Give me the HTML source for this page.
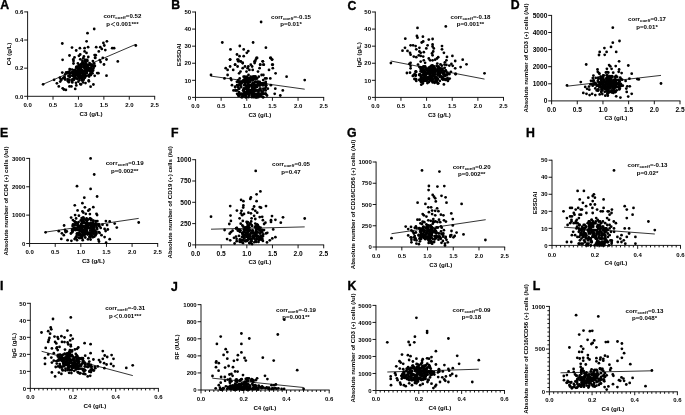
<!DOCTYPE html>
<html lang="en"><head><meta charset="utf-8"><title>Correlation scatter plots</title>
<style>html,body{margin:0;padding:0;background:#fff}body{width:685px;height:415px;overflow:hidden}svg{display:block;will-change:transform}</style>
</head><body>
<svg width="685" height="415" viewBox="0 0 685 415" font-family="'Liberation Sans', Arial, sans-serif" font-weight="bold" fill="#000">
<rect width="685" height="415" fill="#fff"/>
<g>
<g><circle cx="74.8" cy="77.5" r="1.38"/><circle cx="85.3" cy="59.8" r="1.38"/><circle cx="75.3" cy="71.7" r="1.38"/><circle cx="82.5" cy="71.7" r="1.38"/><circle cx="74.1" cy="78.4" r="1.38"/><circle cx="90.9" cy="75.1" r="1.38"/><circle cx="84.0" cy="76.2" r="1.38"/><circle cx="76.3" cy="67.8" r="1.38"/><circle cx="81.3" cy="63.8" r="1.38"/><circle cx="86.5" cy="70.6" r="1.38"/><circle cx="85.6" cy="63.4" r="1.38"/><circle cx="81.8" cy="69.9" r="1.38"/><circle cx="92.5" cy="73.3" r="1.38"/><circle cx="76.3" cy="67.0" r="1.38"/><circle cx="75.9" cy="74.9" r="1.38"/><circle cx="88.4" cy="68.7" r="1.38"/><circle cx="84.6" cy="77.7" r="1.38"/><circle cx="74.6" cy="76.1" r="1.38"/><circle cx="73.2" cy="73.4" r="1.38"/><circle cx="78.3" cy="75.1" r="1.38"/><circle cx="83.1" cy="72.9" r="1.38"/><circle cx="81.2" cy="71.8" r="1.38"/><circle cx="81.0" cy="71.7" r="1.38"/><circle cx="80.3" cy="77.1" r="1.38"/><circle cx="85.5" cy="65.7" r="1.38"/><circle cx="87.4" cy="67.0" r="1.38"/><circle cx="73.9" cy="79.8" r="1.38"/><circle cx="92.9" cy="61.1" r="1.38"/><circle cx="72.9" cy="73.5" r="1.38"/><circle cx="85.0" cy="77.6" r="1.38"/><circle cx="70.2" cy="72.9" r="1.38"/><circle cx="73.8" cy="72.7" r="1.38"/><circle cx="89.1" cy="76.5" r="1.38"/><circle cx="89.5" cy="63.1" r="1.38"/><circle cx="81.6" cy="72.7" r="1.38"/><circle cx="79.5" cy="71.0" r="1.38"/><circle cx="90.4" cy="65.3" r="1.38"/><circle cx="85.7" cy="66.8" r="1.38"/><circle cx="89.4" cy="64.9" r="1.38"/><circle cx="85.6" cy="62.5" r="1.38"/><circle cx="74.9" cy="78.2" r="1.38"/><circle cx="80.1" cy="67.6" r="1.38"/><circle cx="83.6" cy="76.5" r="1.38"/><circle cx="69.8" cy="76.8" r="1.38"/><circle cx="81.8" cy="78.6" r="1.38"/><circle cx="75.0" cy="76.1" r="1.38"/><circle cx="76.7" cy="78.4" r="1.38"/><circle cx="87.0" cy="71.1" r="1.38"/><circle cx="87.4" cy="61.0" r="1.38"/><circle cx="93.1" cy="70.6" r="1.38"/><circle cx="76.8" cy="75.2" r="1.38"/><circle cx="72.3" cy="72.5" r="1.38"/><circle cx="80.3" cy="72.5" r="1.38"/><circle cx="77.3" cy="66.7" r="1.38"/><circle cx="84.7" cy="71.2" r="1.38"/><circle cx="92.6" cy="70.3" r="1.38"/><circle cx="84.9" cy="73.6" r="1.38"/><circle cx="82.4" cy="78.5" r="1.38"/><circle cx="72.6" cy="72.5" r="1.38"/><circle cx="74.3" cy="70.1" r="1.38"/><circle cx="75.1" cy="76.7" r="1.38"/><circle cx="85.9" cy="69.5" r="1.38"/><circle cx="77.7" cy="76.0" r="1.38"/><circle cx="79.2" cy="71.5" r="1.38"/><circle cx="91.9" cy="71.7" r="1.38"/><circle cx="90.4" cy="73.3" r="1.38"/><circle cx="85.6" cy="68.8" r="1.38"/><circle cx="78.0" cy="67.9" r="1.38"/><circle cx="73.7" cy="74.2" r="1.38"/><circle cx="88.0" cy="69.7" r="1.38"/><circle cx="78.4" cy="81.7" r="1.38"/><circle cx="89.0" cy="68.5" r="1.38"/><circle cx="89.5" cy="69.8" r="1.38"/><circle cx="85.8" cy="69.0" r="1.38"/><circle cx="80.0" cy="75.6" r="1.38"/><circle cx="77.7" cy="73.3" r="1.38"/><circle cx="91.1" cy="70.1" r="1.38"/><circle cx="82.9" cy="75.1" r="1.38"/><circle cx="86.1" cy="69.1" r="1.38"/><circle cx="90.5" cy="65.1" r="1.38"/><circle cx="85.9" cy="64.6" r="1.38"/><circle cx="77.9" cy="72.0" r="1.38"/><circle cx="72.6" cy="80.6" r="1.38"/><circle cx="86.4" cy="70.3" r="1.38"/><circle cx="79.9" cy="74.1" r="1.38"/><circle cx="75.0" cy="71.4" r="1.38"/><circle cx="72.4" cy="79.3" r="1.38"/><circle cx="89.1" cy="69.4" r="1.38"/><circle cx="68.7" cy="80.4" r="1.38"/><circle cx="75.5" cy="72.9" r="1.38"/><circle cx="82.5" cy="62.0" r="1.38"/><circle cx="77.5" cy="71.2" r="1.38"/><circle cx="80.5" cy="70.6" r="1.38"/><circle cx="79.8" cy="75.7" r="1.38"/><circle cx="85.3" cy="76.3" r="1.38"/><circle cx="72.1" cy="75.6" r="1.38"/><circle cx="72.3" cy="82.4" r="1.38"/><circle cx="74.7" cy="71.9" r="1.38"/><circle cx="84.2" cy="75.5" r="1.38"/><circle cx="94.2" cy="63.4" r="1.38"/><circle cx="85.4" cy="70.0" r="1.38"/><circle cx="73.1" cy="75.2" r="1.38"/><circle cx="69.6" cy="75.8" r="1.38"/><circle cx="83.3" cy="64.8" r="1.38"/><circle cx="81.2" cy="77.2" r="1.38"/><circle cx="79.4" cy="77.4" r="1.38"/><circle cx="87.1" cy="64.8" r="1.38"/><circle cx="81.2" cy="67.3" r="1.38"/><circle cx="94.1" cy="65.6" r="1.38"/><circle cx="84.2" cy="67.5" r="1.38"/><circle cx="81.9" cy="71.0" r="1.38"/><circle cx="80.5" cy="70.2" r="1.38"/><circle cx="82.5" cy="60.6" r="1.38"/><circle cx="81.6" cy="67.0" r="1.38"/><circle cx="82.6" cy="62.8" r="1.38"/><circle cx="83.8" cy="65.2" r="1.38"/><circle cx="81.9" cy="80.4" r="1.38"/><circle cx="80.9" cy="65.2" r="1.38"/><circle cx="77.1" cy="74.2" r="1.38"/><circle cx="74.4" cy="75.1" r="1.38"/><circle cx="92.3" cy="65.0" r="1.38"/><circle cx="88.3" cy="68.6" r="1.38"/><circle cx="83.7" cy="79.7" r="1.38"/><circle cx="84.2" cy="71.2" r="1.38"/><circle cx="91.0" cy="68.6" r="1.38"/><circle cx="77.5" cy="79.0" r="1.38"/><circle cx="72.7" cy="75.8" r="1.38"/><circle cx="69.7" cy="73.9" r="1.38"/><circle cx="80.1" cy="75.8" r="1.38"/><circle cx="81.2" cy="73.3" r="1.38"/><circle cx="84.6" cy="71.0" r="1.38"/><circle cx="87.0" cy="66.6" r="1.38"/><circle cx="76.3" cy="67.4" r="1.38"/><circle cx="73.6" cy="72.0" r="1.38"/><circle cx="79.6" cy="72.1" r="1.38"/><circle cx="86.4" cy="72.7" r="1.38"/><circle cx="79.7" cy="71.4" r="1.38"/><circle cx="77.1" cy="67.5" r="1.38"/><circle cx="93.8" cy="66.2" r="1.38"/><circle cx="93.4" cy="68.6" r="1.38"/><circle cx="88.2" cy="67.8" r="1.38"/><circle cx="73.7" cy="70.7" r="1.38"/><circle cx="83.8" cy="66.3" r="1.38"/><circle cx="79.5" cy="79.9" r="1.38"/><circle cx="78.6" cy="66.5" r="1.38"/><circle cx="77.1" cy="72.7" r="1.38"/><circle cx="86.3" cy="67.7" r="1.38"/><circle cx="79.8" cy="69.2" r="1.38"/><circle cx="84.2" cy="73.7" r="1.38"/><circle cx="80.7" cy="75.6" r="1.38"/><circle cx="88.9" cy="81.3" r="1.38"/><circle cx="86.7" cy="75.7" r="1.38"/><circle cx="87.6" cy="65.9" r="1.38"/><circle cx="78.9" cy="73.6" r="1.38"/><circle cx="83.0" cy="63.2" r="1.38"/><circle cx="95.1" cy="57.7" r="1.38"/><circle cx="69.8" cy="76.7" r="1.38"/><circle cx="77.5" cy="71.4" r="1.38"/><circle cx="65.1" cy="74.5" r="1.38"/><circle cx="68.8" cy="82.2" r="1.38"/><circle cx="80.3" cy="59.3" r="1.38"/><circle cx="93.7" cy="66.8" r="1.38"/><circle cx="65.9" cy="89.9" r="1.38"/><circle cx="86.9" cy="73.0" r="1.38"/><circle cx="100.6" cy="62.0" r="1.38"/><circle cx="72.1" cy="69.6" r="1.38"/><circle cx="73.5" cy="60.9" r="1.38"/><circle cx="64.5" cy="77.2" r="1.38"/><circle cx="90.4" cy="64.7" r="1.38"/><circle cx="92.7" cy="66.3" r="1.38"/><circle cx="78.3" cy="69.4" r="1.38"/><circle cx="80.2" cy="75.6" r="1.38"/><circle cx="85.1" cy="61.2" r="1.38"/><circle cx="62.7" cy="88.3" r="1.38"/><circle cx="82.9" cy="75.5" r="1.38"/><circle cx="61.0" cy="79.3" r="1.38"/><circle cx="85.0" cy="75.2" r="1.38"/><circle cx="94.7" cy="75.8" r="1.38"/><circle cx="70.0" cy="69.7" r="1.38"/><circle cx="90.0" cy="71.2" r="1.38"/><circle cx="81.0" cy="84.4" r="1.38"/><circle cx="68.4" cy="76.0" r="1.38"/><circle cx="89.2" cy="70.6" r="1.38"/><circle cx="94.9" cy="66.0" r="1.38"/><circle cx="71.7" cy="80.9" r="1.38"/><circle cx="95.7" cy="55.2" r="1.38"/><circle cx="75.4" cy="70.0" r="1.38"/><circle cx="74.2" cy="79.1" r="1.38"/><circle cx="87.8" cy="69.5" r="1.38"/><circle cx="81.3" cy="76.8" r="1.38"/><circle cx="85.5" cy="83.1" r="1.38"/><circle cx="76.9" cy="71.4" r="1.38"/><circle cx="76.3" cy="85.4" r="1.38"/><circle cx="85.5" cy="67.3" r="1.38"/><circle cx="91.5" cy="65.1" r="1.38"/><circle cx="68.2" cy="72.1" r="1.38"/><circle cx="99.8" cy="60.1" r="1.38"/><circle cx="80.9" cy="69.1" r="1.38"/><circle cx="67.4" cy="73.2" r="1.38"/><circle cx="60.2" cy="81.6" r="1.38"/><circle cx="71.1" cy="72.7" r="1.38"/><circle cx="69.7" cy="69.1" r="1.38"/><circle cx="84.1" cy="63.9" r="1.38"/><circle cx="78.8" cy="77.1" r="1.38"/><circle cx="78.5" cy="72.3" r="1.38"/><circle cx="79.2" cy="77.3" r="1.38"/><circle cx="97.2" cy="73.1" r="1.38"/><circle cx="67.6" cy="80.8" r="1.38"/><circle cx="80.8" cy="71.2" r="1.38"/><circle cx="87.1" cy="59.9" r="1.38"/><circle cx="83.3" cy="58.2" r="1.38"/><circle cx="67.6" cy="79.1" r="1.38"/><circle cx="91.2" cy="69.5" r="1.38"/><circle cx="79.0" cy="64.8" r="1.38"/><circle cx="63.9" cy="89.5" r="1.38"/><circle cx="69.5" cy="79.7" r="1.38"/><circle cx="82.3" cy="70.4" r="1.38"/><circle cx="84.8" cy="64.2" r="1.38"/><circle cx="64.4" cy="77.5" r="1.38"/><circle cx="88.7" cy="80.5" r="1.38"/><circle cx="73.1" cy="78.8" r="1.38"/><circle cx="77.9" cy="63.4" r="1.38"/><circle cx="91.4" cy="65.5" r="1.38"/><circle cx="59.9" cy="77.7" r="1.38"/><circle cx="84.6" cy="68.5" r="1.38"/><circle cx="79.8" cy="78.2" r="1.38"/><circle cx="79.8" cy="67.4" r="1.38"/><circle cx="66.2" cy="72.3" r="1.38"/><circle cx="90.5" cy="69.3" r="1.38"/><circle cx="87.7" cy="70.3" r="1.38"/><circle cx="87.7" cy="64.8" r="1.38"/><circle cx="68.9" cy="72.0" r="1.38"/><circle cx="73.9" cy="75.0" r="1.38"/><circle cx="88.7" cy="75.3" r="1.38"/><circle cx="73.5" cy="63.5" r="1.38"/><circle cx="91.3" cy="68.2" r="1.38"/><circle cx="89.5" cy="68.3" r="1.38"/><circle cx="89.5" cy="74.6" r="1.38"/><circle cx="76.0" cy="82.8" r="1.38"/><circle cx="78.3" cy="74.0" r="1.38"/><circle cx="94.2" cy="29.0" r="1.38"/><circle cx="87.5" cy="33.2" r="1.38"/><circle cx="62.3" cy="43.5" r="1.38"/><circle cx="86.6" cy="41.3" r="1.38"/><circle cx="106.9" cy="41.3" r="1.38"/><circle cx="103.4" cy="43.0" r="1.38"/><circle cx="104.3" cy="45.5" r="1.38"/><circle cx="72.0" cy="47.6" r="1.38"/><circle cx="79.9" cy="48.2" r="1.38"/><circle cx="84.6" cy="48.2" r="1.38"/><circle cx="88.1" cy="47.2" r="1.38"/><circle cx="96.2" cy="47.2" r="1.38"/><circle cx="100.3" cy="47.2" r="1.38"/><circle cx="101.8" cy="48.9" r="1.38"/><circle cx="105.3" cy="50.1" r="1.38"/><circle cx="112.2" cy="48.2" r="1.38"/><circle cx="114.1" cy="48.2" r="1.38"/><circle cx="76.2" cy="50.5" r="1.38"/><circle cx="98.8" cy="51.4" r="1.38"/><circle cx="84.6" cy="51.4" r="1.38"/><circle cx="86.5" cy="52.9" r="1.38"/><circle cx="69.5" cy="55.5" r="1.38"/><circle cx="80.2" cy="54.5" r="1.38"/><circle cx="78.9" cy="55.8" r="1.38"/><circle cx="94.6" cy="55.1" r="1.38"/><circle cx="62.6" cy="59.8" r="1.38"/><circle cx="74.5" cy="57.4" r="1.38"/><circle cx="73.3" cy="59.5" r="1.38"/><circle cx="83.9" cy="56.4" r="1.38"/><circle cx="88.3" cy="57.0" r="1.38"/><circle cx="95.2" cy="57.9" r="1.38"/><circle cx="102.8" cy="57.9" r="1.38"/><circle cx="106.5" cy="59.5" r="1.38"/><circle cx="117.8" cy="61.4" r="1.38"/><circle cx="104.0" cy="64.5" r="1.38"/><circle cx="43.1" cy="84.3" r="1.38"/><circle cx="54.1" cy="79.8" r="1.38"/><circle cx="56.9" cy="83.3" r="1.38"/><circle cx="58.8" cy="86.4" r="1.38"/><circle cx="61.3" cy="80.1" r="1.38"/><circle cx="63.2" cy="78.2" r="1.38"/><circle cx="65.1" cy="79.5" r="1.38"/><circle cx="69.5" cy="86.4" r="1.38"/><circle cx="71.4" cy="86.4" r="1.38"/><circle cx="75.2" cy="88.9" r="1.38"/><circle cx="80.2" cy="84.1" r="1.38"/><circle cx="83.1" cy="82.4" r="1.38"/><circle cx="90.6" cy="86.7" r="1.38"/><circle cx="93.4" cy="84.5" r="1.38"/><circle cx="106.5" cy="75.7" r="1.38"/><circle cx="98.4" cy="73.2" r="1.38"/><circle cx="62.3" cy="72.6" r="1.38"/><circle cx="135.8" cy="45.5" r="1.38"/></g>
<line x1="42.9" y1="84.3" x2="135.9" y2="44.3" stroke="#000" stroke-width="0.80"/>
<path d="M27.60 11.45V96.30H155.15M27.60 96.30v3.40M53.02 96.30v3.40M78.44 96.30v3.40M103.86 96.30v3.40M129.28 96.30v3.40M154.70 96.30v3.40M27.60 96.30h-3.40M27.60 68.17h-3.40M27.60 40.03h-3.40M27.60 11.90h-3.40" fill="none" stroke="#000" stroke-width="0.90"/>
<text x="27.6" y="107.0" font-size="6.0" text-anchor="middle">0.0</text>
<text x="53.0" y="107.0" font-size="6.0" text-anchor="middle">0.5</text>
<text x="78.4" y="107.0" font-size="6.0" text-anchor="middle">1.0</text>
<text x="103.9" y="107.0" font-size="6.0" text-anchor="middle">1.5</text>
<text x="129.3" y="107.0" font-size="6.0" text-anchor="middle">2.0</text>
<text x="154.7" y="107.0" font-size="6.0" text-anchor="middle">2.5</text>
<text x="23.3" y="98.5" font-size="6.0" text-anchor="end">0.0</text>
<text x="23.3" y="70.3" font-size="6.0" text-anchor="end">0.2</text>
<text x="23.3" y="42.2" font-size="6.0" text-anchor="end">0.4</text>
<text x="23.3" y="14.1" font-size="6.0" text-anchor="end">0.6</text>
<text x="91.1" y="115.9" font-size="6.20" text-anchor="middle">C3 (g/L)</text>
<text transform="translate(9.3 54.0) rotate(-90)" font-size="6.10" text-anchor="middle" y="1.8">C4 (g/L)</text>
<text x="122.4" y="18.3" font-size="6.15" text-anchor="middle">corr<tspan font-size="4.4" dy="1.0">coeff</tspan><tspan dy="-1.0">=0.52</tspan></text>
<text x="122.4" y="26.4" font-size="6.15" text-anchor="middle">p<tspan font-family="'Noto Sans CJK SC', sans-serif" font-weight="700" font-size="5.8" dx="0.15">＜</tspan><tspan dx="0.15">0.001***</tspan></text>
<text x="0.2" y="8.7" font-size="12.3" stroke="#000" stroke-width="0.35">A</text>
</g>
<g>
<g><circle cx="257.2" cy="85.2" r="1.38"/><circle cx="245.3" cy="81.8" r="1.38"/><circle cx="256.8" cy="97.2" r="1.38"/><circle cx="256.1" cy="90.4" r="1.38"/><circle cx="254.4" cy="88.7" r="1.38"/><circle cx="262.2" cy="83.5" r="1.38"/><circle cx="263.3" cy="88.7" r="1.38"/><circle cx="250.4" cy="80.1" r="1.38"/><circle cx="250.2" cy="85.2" r="1.38"/><circle cx="255.5" cy="97.2" r="1.38"/><circle cx="263.0" cy="83.5" r="1.38"/><circle cx="237.4" cy="81.8" r="1.38"/><circle cx="239.3" cy="88.7" r="1.38"/><circle cx="243.2" cy="93.8" r="1.38"/><circle cx="243.2" cy="90.4" r="1.38"/><circle cx="241.6" cy="97.2" r="1.38"/><circle cx="244.9" cy="80.1" r="1.38"/><circle cx="254.8" cy="90.4" r="1.38"/><circle cx="265.1" cy="88.7" r="1.38"/><circle cx="248.8" cy="85.2" r="1.38"/><circle cx="238.7" cy="95.5" r="1.38"/><circle cx="253.0" cy="92.1" r="1.38"/><circle cx="238.8" cy="88.7" r="1.38"/><circle cx="233.5" cy="90.4" r="1.38"/><circle cx="265.9" cy="83.5" r="1.38"/><circle cx="242.2" cy="97.2" r="1.38"/><circle cx="243.5" cy="80.1" r="1.38"/><circle cx="265.7" cy="90.4" r="1.38"/><circle cx="248.4" cy="88.7" r="1.38"/><circle cx="235.2" cy="87.0" r="1.38"/><circle cx="246.4" cy="87.0" r="1.38"/><circle cx="238.1" cy="81.8" r="1.38"/><circle cx="251.9" cy="85.2" r="1.38"/><circle cx="250.4" cy="90.4" r="1.38"/><circle cx="252.7" cy="93.8" r="1.38"/><circle cx="258.2" cy="81.8" r="1.38"/><circle cx="247.1" cy="90.4" r="1.38"/><circle cx="245.7" cy="97.2" r="1.38"/><circle cx="256.0" cy="78.4" r="1.38"/><circle cx="254.6" cy="90.4" r="1.38"/><circle cx="239.0" cy="93.8" r="1.38"/><circle cx="244.2" cy="85.2" r="1.38"/><circle cx="256.8" cy="97.2" r="1.38"/><circle cx="250.5" cy="78.4" r="1.38"/><circle cx="249.3" cy="78.4" r="1.38"/><circle cx="263.2" cy="85.2" r="1.38"/><circle cx="239.2" cy="81.8" r="1.38"/><circle cx="247.6" cy="92.1" r="1.38"/><circle cx="265.2" cy="93.8" r="1.38"/><circle cx="256.0" cy="85.2" r="1.38"/><circle cx="253.5" cy="78.4" r="1.38"/><circle cx="249.1" cy="92.1" r="1.38"/><circle cx="250.0" cy="81.8" r="1.38"/><circle cx="260.1" cy="85.2" r="1.38"/><circle cx="254.0" cy="93.8" r="1.38"/><circle cx="243.8" cy="88.7" r="1.38"/><circle cx="253.1" cy="88.7" r="1.38"/><circle cx="265.8" cy="85.2" r="1.38"/><circle cx="255.4" cy="81.8" r="1.38"/><circle cx="254.4" cy="87.0" r="1.38"/><circle cx="247.3" cy="80.1" r="1.38"/><circle cx="238.1" cy="81.8" r="1.38"/><circle cx="241.1" cy="93.8" r="1.38"/><circle cx="258.7" cy="85.2" r="1.38"/><circle cx="266.2" cy="85.2" r="1.38"/><circle cx="252.0" cy="93.8" r="1.38"/><circle cx="235.2" cy="90.4" r="1.38"/><circle cx="238.8" cy="85.2" r="1.38"/><circle cx="243.9" cy="80.1" r="1.38"/><circle cx="249.3" cy="90.4" r="1.38"/><circle cx="253.1" cy="83.5" r="1.38"/><circle cx="259.9" cy="95.5" r="1.38"/><circle cx="262.8" cy="85.2" r="1.38"/><circle cx="236.9" cy="81.8" r="1.38"/><circle cx="248.6" cy="90.4" r="1.38"/><circle cx="253.3" cy="90.4" r="1.38"/><circle cx="259.7" cy="88.7" r="1.38"/><circle cx="263.2" cy="97.2" r="1.38"/><circle cx="254.3" cy="78.4" r="1.38"/><circle cx="242.5" cy="95.5" r="1.38"/><circle cx="257.1" cy="81.8" r="1.38"/><circle cx="248.1" cy="87.0" r="1.38"/><circle cx="236.1" cy="90.4" r="1.38"/><circle cx="262.6" cy="92.1" r="1.38"/><circle cx="253.0" cy="83.5" r="1.38"/><circle cx="247.3" cy="90.4" r="1.38"/><circle cx="241.6" cy="83.5" r="1.38"/><circle cx="243.1" cy="90.4" r="1.38"/><circle cx="244.4" cy="93.8" r="1.38"/><circle cx="245.3" cy="83.5" r="1.38"/><circle cx="251.1" cy="90.4" r="1.38"/><circle cx="257.1" cy="78.4" r="1.38"/><circle cx="253.0" cy="90.4" r="1.38"/><circle cx="245.3" cy="93.8" r="1.38"/><circle cx="264.3" cy="83.5" r="1.38"/><circle cx="244.8" cy="78.4" r="1.38"/><circle cx="261.7" cy="92.1" r="1.38"/><circle cx="265.8" cy="87.0" r="1.38"/><circle cx="260.0" cy="95.5" r="1.38"/><circle cx="263.0" cy="93.8" r="1.38"/><circle cx="253.7" cy="97.2" r="1.38"/><circle cx="254.3" cy="88.7" r="1.38"/><circle cx="267.8" cy="88.7" r="1.38"/><circle cx="253.6" cy="92.1" r="1.38"/><circle cx="244.9" cy="93.8" r="1.38"/><circle cx="251.2" cy="92.1" r="1.38"/><circle cx="246.0" cy="95.5" r="1.38"/><circle cx="252.0" cy="78.4" r="1.38"/><circle cx="258.1" cy="83.5" r="1.38"/><circle cx="260.5" cy="83.5" r="1.38"/><circle cx="258.0" cy="81.8" r="1.38"/><circle cx="260.8" cy="90.4" r="1.38"/><circle cx="257.7" cy="93.8" r="1.38"/><circle cx="249.3" cy="85.2" r="1.38"/><circle cx="244.0" cy="88.7" r="1.38"/><circle cx="255.3" cy="90.4" r="1.38"/><circle cx="263.5" cy="90.4" r="1.38"/><circle cx="252.9" cy="80.1" r="1.38"/><circle cx="251.7" cy="85.2" r="1.38"/><circle cx="254.6" cy="87.0" r="1.38"/><circle cx="254.1" cy="90.4" r="1.38"/><circle cx="247.0" cy="92.1" r="1.38"/><circle cx="246.9" cy="80.1" r="1.38"/><circle cx="245.5" cy="85.2" r="1.38"/><circle cx="260.5" cy="88.7" r="1.38"/><circle cx="256.9" cy="87.0" r="1.38"/><circle cx="244.6" cy="92.1" r="1.38"/><circle cx="262.7" cy="93.8" r="1.38"/><circle cx="249.1" cy="95.5" r="1.38"/><circle cx="248.0" cy="85.2" r="1.38"/><circle cx="237.1" cy="85.2" r="1.38"/><circle cx="253.9" cy="90.4" r="1.38"/><circle cx="255.8" cy="97.2" r="1.38"/><circle cx="248.1" cy="81.8" r="1.38"/><circle cx="252.1" cy="88.7" r="1.38"/><circle cx="259.6" cy="85.2" r="1.38"/><circle cx="248.8" cy="85.2" r="1.38"/><circle cx="258.6" cy="90.4" r="1.38"/><circle cx="258.9" cy="85.2" r="1.38"/><circle cx="254.4" cy="76.7" r="1.38"/><circle cx="247.1" cy="87.0" r="1.38"/><circle cx="250.8" cy="92.1" r="1.38"/><circle cx="265.9" cy="93.8" r="1.38"/><circle cx="238.6" cy="81.8" r="1.38"/><circle cx="248.8" cy="93.8" r="1.38"/><circle cx="252.5" cy="87.0" r="1.38"/><circle cx="249.5" cy="85.2" r="1.38"/><circle cx="256.3" cy="87.0" r="1.38"/><circle cx="252.5" cy="85.2" r="1.38"/><circle cx="250.0" cy="85.2" r="1.38"/><circle cx="259.7" cy="81.8" r="1.38"/><circle cx="241.2" cy="87.0" r="1.38"/><circle cx="258.7" cy="90.4" r="1.38"/><circle cx="257.5" cy="85.2" r="1.38"/><circle cx="243.8" cy="90.4" r="1.38"/><circle cx="257.2" cy="90.4" r="1.38"/><circle cx="240.9" cy="81.8" r="1.38"/><circle cx="238.0" cy="87.0" r="1.38"/><circle cx="252.2" cy="80.1" r="1.38"/><circle cx="247.0" cy="88.7" r="1.38"/><circle cx="254.3" cy="90.4" r="1.38"/><circle cx="242.2" cy="93.8" r="1.38"/><circle cx="253.6" cy="76.7" r="1.38"/><circle cx="258.2" cy="93.8" r="1.38"/><circle cx="254.2" cy="85.2" r="1.38"/><circle cx="251.5" cy="78.4" r="1.38"/><circle cx="265.4" cy="93.8" r="1.38"/><circle cx="250.1" cy="85.2" r="1.38"/><circle cx="252.6" cy="83.5" r="1.38"/><circle cx="252.4" cy="90.4" r="1.38"/><circle cx="257.9" cy="83.5" r="1.38"/><circle cx="237.2" cy="90.4" r="1.38"/><circle cx="245.9" cy="97.2" r="1.38"/><circle cx="255.5" cy="87.0" r="1.38"/><circle cx="253.1" cy="80.1" r="1.38"/><circle cx="245.7" cy="78.4" r="1.38"/><circle cx="239.8" cy="85.2" r="1.38"/><circle cx="249.5" cy="81.8" r="1.38"/><circle cx="254.6" cy="78.4" r="1.38"/><circle cx="257.4" cy="90.4" r="1.38"/><circle cx="255.1" cy="81.8" r="1.38"/><circle cx="252.2" cy="87.0" r="1.38"/><circle cx="247.9" cy="78.4" r="1.38"/><circle cx="239.7" cy="83.5" r="1.38"/><circle cx="245.0" cy="83.5" r="1.38"/><circle cx="249.3" cy="87.0" r="1.38"/><circle cx="245.8" cy="88.7" r="1.38"/><circle cx="245.4" cy="85.2" r="1.38"/><circle cx="248.1" cy="78.4" r="1.38"/><circle cx="254.2" cy="83.5" r="1.38"/><circle cx="261.6" cy="75.0" r="1.38"/><circle cx="255.8" cy="81.8" r="1.38"/><circle cx="245.0" cy="66.5" r="1.38"/><circle cx="255.3" cy="76.7" r="1.38"/><circle cx="246.5" cy="71.6" r="1.38"/><circle cx="260.2" cy="85.2" r="1.38"/><circle cx="258.0" cy="71.6" r="1.38"/><circle cx="265.7" cy="81.8" r="1.38"/><circle cx="246.8" cy="81.8" r="1.38"/><circle cx="241.2" cy="81.8" r="1.38"/><circle cx="246.8" cy="78.4" r="1.38"/><circle cx="247.0" cy="76.7" r="1.38"/><circle cx="249.4" cy="69.9" r="1.38"/><circle cx="253.0" cy="76.7" r="1.38"/><circle cx="248.1" cy="83.5" r="1.38"/><circle cx="248.4" cy="80.1" r="1.38"/><circle cx="265.1" cy="78.4" r="1.38"/><circle cx="263.2" cy="80.1" r="1.38"/><circle cx="248.8" cy="78.4" r="1.38"/><circle cx="261.6" cy="83.5" r="1.38"/><circle cx="244.9" cy="76.7" r="1.38"/><circle cx="248.5" cy="75.0" r="1.38"/><circle cx="239.7" cy="78.4" r="1.38"/><circle cx="238.2" cy="80.1" r="1.38"/><circle cx="239.1" cy="73.3" r="1.38"/><circle cx="242.3" cy="81.8" r="1.38"/><circle cx="255.5" cy="76.7" r="1.38"/><circle cx="252.3" cy="88.7" r="1.38"/><circle cx="247.2" cy="78.4" r="1.38"/><circle cx="243.2" cy="81.8" r="1.38"/><circle cx="240.4" cy="85.2" r="1.38"/><circle cx="250.2" cy="78.4" r="1.38"/><circle cx="252.7" cy="69.9" r="1.38"/><circle cx="248.2" cy="78.4" r="1.38"/><circle cx="250.7" cy="76.7" r="1.38"/><circle cx="263.4" cy="75.0" r="1.38"/><circle cx="258.8" cy="76.7" r="1.38"/><circle cx="238.9" cy="81.8" r="1.38"/><circle cx="247.3" cy="81.8" r="1.38"/><circle cx="256.4" cy="78.4" r="1.38"/><circle cx="244.8" cy="88.7" r="1.38"/><circle cx="240.5" cy="71.6" r="1.38"/><circle cx="247.6" cy="68.2" r="1.38"/><circle cx="255.1" cy="78.4" r="1.38"/><circle cx="243.6" cy="76.7" r="1.38"/><circle cx="239.0" cy="92.1" r="1.38"/><circle cx="247.8" cy="93.8" r="1.38"/><circle cx="257.1" cy="93.8" r="1.38"/><circle cx="239.5" cy="95.5" r="1.38"/><circle cx="258.8" cy="95.5" r="1.38"/><circle cx="255.5" cy="93.8" r="1.38"/><circle cx="248.4" cy="97.2" r="1.38"/><circle cx="265.4" cy="93.8" r="1.38"/><circle cx="251.8" cy="97.2" r="1.38"/><circle cx="252.7" cy="95.5" r="1.38"/><circle cx="248.0" cy="93.8" r="1.38"/><circle cx="246.5" cy="92.1" r="1.38"/><circle cx="258.7" cy="93.8" r="1.38"/><circle cx="252.1" cy="93.8" r="1.38"/><circle cx="263.9" cy="93.8" r="1.38"/><circle cx="260.9" cy="95.5" r="1.38"/><circle cx="245.0" cy="93.8" r="1.38"/><circle cx="243.1" cy="95.5" r="1.38"/><circle cx="237.1" cy="93.8" r="1.38"/><circle cx="263.0" cy="97.2" r="1.38"/><circle cx="261.0" cy="95.5" r="1.38"/><circle cx="247.4" cy="92.1" r="1.38"/><circle cx="249.7" cy="93.8" r="1.38"/><circle cx="249.8" cy="92.1" r="1.38"/><circle cx="243.9" cy="93.8" r="1.38"/><circle cx="260.9" cy="95.5" r="1.38"/><circle cx="256.8" cy="95.5" r="1.38"/><circle cx="239.6" cy="93.8" r="1.38"/><circle cx="243.1" cy="95.5" r="1.38"/><circle cx="249.0" cy="93.8" r="1.38"/><circle cx="256.6" cy="95.5" r="1.38"/><circle cx="251.8" cy="95.5" r="1.38"/><circle cx="240.6" cy="93.8" r="1.38"/><circle cx="254.6" cy="93.8" r="1.38"/><circle cx="247.9" cy="93.8" r="1.38"/><circle cx="247.4" cy="92.1" r="1.38"/><circle cx="244.4" cy="92.1" r="1.38"/><circle cx="258.6" cy="92.1" r="1.38"/><circle cx="267.0" cy="95.5" r="1.38"/><circle cx="258.2" cy="97.2" r="1.38"/><circle cx="260.7" cy="93.8" r="1.38"/><circle cx="244.8" cy="95.5" r="1.38"/><circle cx="247.6" cy="93.8" r="1.38"/><circle cx="254.1" cy="95.5" r="1.38"/><circle cx="238.3" cy="95.5" r="1.38"/><circle cx="261.1" cy="22.0" r="1.38"/><circle cx="222.3" cy="42.5" r="1.38"/><circle cx="253.1" cy="42.5" r="1.38"/><circle cx="239.8" cy="46.0" r="1.38"/><circle cx="265.9" cy="47.7" r="1.38"/><circle cx="230.5" cy="49.4" r="1.38"/><circle cx="243.7" cy="49.4" r="1.38"/><circle cx="248.3" cy="51.1" r="1.38"/><circle cx="246.8" cy="52.8" r="1.38"/><circle cx="237.0" cy="54.5" r="1.38"/><circle cx="239.5" cy="56.2" r="1.38"/><circle cx="243.7" cy="56.2" r="1.38"/><circle cx="230.1" cy="59.6" r="1.38"/><circle cx="237.4" cy="59.6" r="1.38"/><circle cx="238.3" cy="61.3" r="1.38"/><circle cx="257.1" cy="57.9" r="1.38"/><circle cx="255.8" cy="59.6" r="1.38"/><circle cx="254.6" cy="61.3" r="1.38"/><circle cx="270.9" cy="57.9" r="1.38"/><circle cx="271.9" cy="59.6" r="1.38"/><circle cx="262.8" cy="61.3" r="1.38"/><circle cx="240.8" cy="61.3" r="1.38"/><circle cx="242.7" cy="63.0" r="1.38"/><circle cx="235.1" cy="64.7" r="1.38"/><circle cx="260.2" cy="64.7" r="1.38"/><circle cx="263.8" cy="64.7" r="1.38"/><circle cx="272.2" cy="64.7" r="1.38"/><circle cx="211.0" cy="75.0" r="1.38"/><circle cx="286.6" cy="76.7" r="1.38"/><circle cx="275.6" cy="73.3" r="1.38"/><circle cx="280.3" cy="95.5" r="1.38"/><circle cx="282.8" cy="90.4" r="1.38"/><circle cx="275.3" cy="88.7" r="1.38"/><circle cx="274.7" cy="93.8" r="1.38"/><circle cx="270.9" cy="85.2" r="1.38"/><circle cx="270.3" cy="78.4" r="1.38"/><circle cx="266.5" cy="78.4" r="1.38"/><circle cx="230.1" cy="59.6" r="1.38"/><circle cx="225.7" cy="68.2" r="1.38"/><circle cx="227.6" cy="69.9" r="1.38"/><circle cx="230.1" cy="66.5" r="1.38"/><circle cx="233.2" cy="69.9" r="1.38"/><circle cx="235.1" cy="64.7" r="1.38"/><circle cx="237.6" cy="66.5" r="1.38"/><circle cx="227.6" cy="75.0" r="1.38"/><circle cx="224.5" cy="78.4" r="1.38"/><circle cx="230.7" cy="78.4" r="1.38"/><circle cx="231.4" cy="80.1" r="1.38"/><circle cx="232.0" cy="85.2" r="1.38"/><circle cx="235.1" cy="87.0" r="1.38"/><circle cx="272.8" cy="64.7" r="1.38"/><circle cx="272.8" cy="68.2" r="1.38"/><circle cx="269.0" cy="69.9" r="1.38"/><circle cx="259.6" cy="68.2" r="1.38"/><circle cx="260.2" cy="64.7" r="1.38"/><circle cx="263.4" cy="64.7" r="1.38"/><circle cx="262.8" cy="61.3" r="1.38"/><circle cx="270.3" cy="57.9" r="1.38"/><circle cx="272.2" cy="59.6" r="1.38"/><circle cx="242.7" cy="68.2" r="1.38"/><circle cx="248.3" cy="66.5" r="1.38"/><circle cx="250.8" cy="64.7" r="1.38"/><circle cx="252.1" cy="66.5" r="1.38"/><circle cx="242.7" cy="63.0" r="1.38"/><circle cx="238.3" cy="59.6" r="1.38"/><circle cx="240.2" cy="61.3" r="1.38"/><circle cx="256.5" cy="57.9" r="1.38"/><circle cx="255.2" cy="61.3" r="1.38"/><circle cx="254.6" cy="63.0" r="1.38"/><circle cx="304.7" cy="80.1" r="1.38"/></g>
<line x1="210.9" y1="76.1" x2="304.7" y2="89.2" stroke="#000" stroke-width="0.80"/>
<path d="M195.50 11.55V97.40H324.15M195.50 97.40v3.40M221.14 97.40v3.40M246.78 97.40v3.40M272.42 97.40v3.40M298.06 97.40v3.40M323.70 97.40v3.40M195.50 97.40h-3.40M195.50 80.32h-3.40M195.50 63.24h-3.40M195.50 46.16h-3.40M195.50 29.08h-3.40M195.50 12.00h-3.40" fill="none" stroke="#000" stroke-width="0.90"/>
<text x="195.5" y="108.0" font-size="6.0" text-anchor="middle">0.0</text>
<text x="221.1" y="108.0" font-size="6.0" text-anchor="middle">0.5</text>
<text x="246.8" y="108.0" font-size="6.0" text-anchor="middle">1.0</text>
<text x="272.4" y="108.0" font-size="6.0" text-anchor="middle">1.5</text>
<text x="298.1" y="108.0" font-size="6.0" text-anchor="middle">2.0</text>
<text x="323.7" y="108.0" font-size="6.0" text-anchor="middle">2.5</text>
<text x="191.2" y="99.6" font-size="6.0" text-anchor="end">0</text>
<text x="191.2" y="82.5" font-size="6.0" text-anchor="end">10</text>
<text x="191.2" y="65.4" font-size="6.0" text-anchor="end">20</text>
<text x="191.2" y="48.3" font-size="6.0" text-anchor="end">30</text>
<text x="191.2" y="31.2" font-size="6.0" text-anchor="end">40</text>
<text x="191.2" y="14.2" font-size="6.0" text-anchor="end">50</text>
<text x="259.9" y="116.6" font-size="6.20" text-anchor="middle">C3 (g/L)</text>
<text transform="translate(179.3 54.8) rotate(-90)" font-size="6.10" text-anchor="middle" y="1.8">ESSDAI</text>
<text x="291.0" y="18.6" font-size="6.15" text-anchor="middle">corr<tspan font-size="4.4" dy="1.0">coeff</tspan><tspan dy="-1.0">=-0.15</tspan></text>
<text x="291.0" y="26.3" font-size="6.15" text-anchor="middle">p=0.01*</text>
<text x="171.2" y="9.2" font-size="12.3" stroke="#000" stroke-width="0.35">B</text>
</g>
<g>
<g><circle cx="425.0" cy="74.4" r="1.38"/><circle cx="429.8" cy="72.0" r="1.38"/><circle cx="446.1" cy="79.4" r="1.38"/><circle cx="436.4" cy="78.2" r="1.38"/><circle cx="419.4" cy="79.9" r="1.38"/><circle cx="424.4" cy="73.1" r="1.38"/><circle cx="439.0" cy="71.3" r="1.38"/><circle cx="440.4" cy="72.9" r="1.38"/><circle cx="438.2" cy="69.4" r="1.38"/><circle cx="437.9" cy="79.1" r="1.38"/><circle cx="422.2" cy="71.1" r="1.38"/><circle cx="433.4" cy="71.9" r="1.38"/><circle cx="428.4" cy="72.5" r="1.38"/><circle cx="419.5" cy="80.0" r="1.38"/><circle cx="429.5" cy="68.7" r="1.38"/><circle cx="435.3" cy="68.5" r="1.38"/><circle cx="428.6" cy="71.6" r="1.38"/><circle cx="425.7" cy="74.2" r="1.38"/><circle cx="438.3" cy="67.7" r="1.38"/><circle cx="425.8" cy="74.2" r="1.38"/><circle cx="427.9" cy="69.9" r="1.38"/><circle cx="441.4" cy="76.6" r="1.38"/><circle cx="445.4" cy="79.9" r="1.38"/><circle cx="441.0" cy="76.5" r="1.38"/><circle cx="440.0" cy="74.8" r="1.38"/><circle cx="430.2" cy="69.9" r="1.38"/><circle cx="423.1" cy="81.5" r="1.38"/><circle cx="429.2" cy="70.1" r="1.38"/><circle cx="420.9" cy="77.0" r="1.38"/><circle cx="426.3" cy="69.5" r="1.38"/><circle cx="423.3" cy="72.8" r="1.38"/><circle cx="431.9" cy="80.2" r="1.38"/><circle cx="433.3" cy="76.1" r="1.38"/><circle cx="421.9" cy="68.5" r="1.38"/><circle cx="430.0" cy="71.1" r="1.38"/><circle cx="428.9" cy="67.6" r="1.38"/><circle cx="445.2" cy="75.9" r="1.38"/><circle cx="422.3" cy="72.2" r="1.38"/><circle cx="435.0" cy="74.5" r="1.38"/><circle cx="424.4" cy="67.0" r="1.38"/><circle cx="434.8" cy="78.1" r="1.38"/><circle cx="436.9" cy="82.1" r="1.38"/><circle cx="421.1" cy="79.2" r="1.38"/><circle cx="422.5" cy="75.1" r="1.38"/><circle cx="435.8" cy="78.9" r="1.38"/><circle cx="415.8" cy="79.4" r="1.38"/><circle cx="432.1" cy="78.2" r="1.38"/><circle cx="439.8" cy="80.9" r="1.38"/><circle cx="431.9" cy="71.1" r="1.38"/><circle cx="421.1" cy="78.4" r="1.38"/><circle cx="434.6" cy="82.8" r="1.38"/><circle cx="439.7" cy="68.9" r="1.38"/><circle cx="425.3" cy="72.2" r="1.38"/><circle cx="416.0" cy="79.2" r="1.38"/><circle cx="430.6" cy="78.4" r="1.38"/><circle cx="431.6" cy="77.9" r="1.38"/><circle cx="420.6" cy="71.4" r="1.38"/><circle cx="420.7" cy="67.4" r="1.38"/><circle cx="432.3" cy="76.2" r="1.38"/><circle cx="434.3" cy="81.7" r="1.38"/><circle cx="429.8" cy="72.8" r="1.38"/><circle cx="443.9" cy="75.6" r="1.38"/><circle cx="439.9" cy="71.5" r="1.38"/><circle cx="430.2" cy="73.4" r="1.38"/><circle cx="424.0" cy="75.1" r="1.38"/><circle cx="443.4" cy="72.3" r="1.38"/><circle cx="427.2" cy="78.2" r="1.38"/><circle cx="421.8" cy="71.0" r="1.38"/><circle cx="430.1" cy="71.9" r="1.38"/><circle cx="431.9" cy="75.7" r="1.38"/><circle cx="420.1" cy="74.3" r="1.38"/><circle cx="424.0" cy="70.5" r="1.38"/><circle cx="440.8" cy="68.5" r="1.38"/><circle cx="427.9" cy="69.5" r="1.38"/><circle cx="427.9" cy="73.2" r="1.38"/><circle cx="426.0" cy="72.3" r="1.38"/><circle cx="432.2" cy="77.8" r="1.38"/><circle cx="441.3" cy="71.8" r="1.38"/><circle cx="424.3" cy="74.9" r="1.38"/><circle cx="433.3" cy="68.2" r="1.38"/><circle cx="430.6" cy="71.0" r="1.38"/><circle cx="438.1" cy="73.0" r="1.38"/><circle cx="439.1" cy="72.9" r="1.38"/><circle cx="419.6" cy="74.3" r="1.38"/><circle cx="437.2" cy="70.9" r="1.38"/><circle cx="422.9" cy="77.4" r="1.38"/><circle cx="442.5" cy="68.6" r="1.38"/><circle cx="423.4" cy="66.3" r="1.38"/><circle cx="415.6" cy="75.8" r="1.38"/><circle cx="434.3" cy="72.2" r="1.38"/><circle cx="428.5" cy="70.4" r="1.38"/><circle cx="432.9" cy="79.7" r="1.38"/><circle cx="437.9" cy="79.1" r="1.38"/><circle cx="420.2" cy="67.4" r="1.38"/><circle cx="437.3" cy="79.8" r="1.38"/><circle cx="427.4" cy="83.1" r="1.38"/><circle cx="433.3" cy="75.2" r="1.38"/><circle cx="425.8" cy="69.4" r="1.38"/><circle cx="425.2" cy="80.3" r="1.38"/><circle cx="440.1" cy="72.3" r="1.38"/><circle cx="425.2" cy="77.2" r="1.38"/><circle cx="444.4" cy="72.8" r="1.38"/><circle cx="423.3" cy="67.4" r="1.38"/><circle cx="425.8" cy="69.4" r="1.38"/><circle cx="428.7" cy="72.3" r="1.38"/><circle cx="433.4" cy="67.0" r="1.38"/><circle cx="413.5" cy="75.3" r="1.38"/><circle cx="442.5" cy="72.8" r="1.38"/><circle cx="423.3" cy="69.3" r="1.38"/><circle cx="431.7" cy="81.2" r="1.38"/><circle cx="430.1" cy="75.3" r="1.38"/><circle cx="439.1" cy="68.0" r="1.38"/><circle cx="428.3" cy="79.0" r="1.38"/><circle cx="431.5" cy="65.6" r="1.38"/><circle cx="433.0" cy="73.9" r="1.38"/><circle cx="429.0" cy="77.0" r="1.38"/><circle cx="431.1" cy="71.1" r="1.38"/><circle cx="439.1" cy="74.7" r="1.38"/><circle cx="428.0" cy="68.8" r="1.38"/><circle cx="441.9" cy="77.6" r="1.38"/><circle cx="433.6" cy="75.7" r="1.38"/><circle cx="424.6" cy="77.0" r="1.38"/><circle cx="425.6" cy="67.9" r="1.38"/><circle cx="437.8" cy="73.0" r="1.38"/><circle cx="427.7" cy="70.2" r="1.38"/><circle cx="431.4" cy="77.4" r="1.38"/><circle cx="422.1" cy="67.6" r="1.38"/><circle cx="425.9" cy="78.5" r="1.38"/><circle cx="426.9" cy="69.1" r="1.38"/><circle cx="443.4" cy="73.9" r="1.38"/><circle cx="432.1" cy="79.4" r="1.38"/><circle cx="433.1" cy="71.0" r="1.38"/><circle cx="430.9" cy="71.1" r="1.38"/><circle cx="429.6" cy="79.6" r="1.38"/><circle cx="425.1" cy="75.2" r="1.38"/><circle cx="430.4" cy="66.7" r="1.38"/><circle cx="420.9" cy="80.8" r="1.38"/><circle cx="423.9" cy="78.4" r="1.38"/><circle cx="437.8" cy="83.5" r="1.38"/><circle cx="430.5" cy="77.8" r="1.38"/><circle cx="419.4" cy="67.0" r="1.38"/><circle cx="427.8" cy="77.4" r="1.38"/><circle cx="424.7" cy="80.9" r="1.38"/><circle cx="442.8" cy="77.4" r="1.38"/><circle cx="429.3" cy="71.2" r="1.38"/><circle cx="428.1" cy="78.0" r="1.38"/><circle cx="435.3" cy="70.9" r="1.38"/><circle cx="433.6" cy="72.6" r="1.38"/><circle cx="446.0" cy="79.7" r="1.38"/><circle cx="441.7" cy="70.4" r="1.38"/><circle cx="433.7" cy="69.9" r="1.38"/><circle cx="446.8" cy="75.0" r="1.38"/><circle cx="438.3" cy="83.3" r="1.38"/><circle cx="439.4" cy="76.8" r="1.38"/><circle cx="421.3" cy="81.6" r="1.38"/><circle cx="420.9" cy="81.8" r="1.38"/><circle cx="431.0" cy="66.8" r="1.38"/><circle cx="437.1" cy="69.7" r="1.38"/><circle cx="414.6" cy="73.8" r="1.38"/><circle cx="420.6" cy="75.3" r="1.38"/><circle cx="428.6" cy="81.9" r="1.38"/><circle cx="439.5" cy="71.3" r="1.38"/><circle cx="433.9" cy="75.4" r="1.38"/><circle cx="438.5" cy="66.3" r="1.38"/><circle cx="448.1" cy="74.0" r="1.38"/><circle cx="428.9" cy="82.1" r="1.38"/><circle cx="421.3" cy="68.7" r="1.38"/><circle cx="416.0" cy="72.1" r="1.38"/><circle cx="419.2" cy="75.0" r="1.38"/><circle cx="436.7" cy="81.0" r="1.38"/><circle cx="435.0" cy="76.6" r="1.38"/><circle cx="430.3" cy="77.1" r="1.38"/><circle cx="415.9" cy="75.1" r="1.38"/><circle cx="436.2" cy="70.2" r="1.38"/><circle cx="428.4" cy="69.9" r="1.38"/><circle cx="442.3" cy="69.4" r="1.38"/><circle cx="423.1" cy="79.5" r="1.38"/><circle cx="444.5" cy="78.9" r="1.38"/><circle cx="444.7" cy="67.8" r="1.38"/><circle cx="445.8" cy="70.3" r="1.38"/><circle cx="424.0" cy="80.4" r="1.38"/><circle cx="446.4" cy="64.9" r="1.38"/><circle cx="447.5" cy="78.0" r="1.38"/><circle cx="436.6" cy="66.0" r="1.38"/><circle cx="425.0" cy="76.4" r="1.38"/><circle cx="432.3" cy="73.0" r="1.38"/><circle cx="418.0" cy="64.6" r="1.38"/><circle cx="426.5" cy="80.8" r="1.38"/><circle cx="446.1" cy="74.7" r="1.38"/><circle cx="432.0" cy="68.8" r="1.38"/><circle cx="447.9" cy="80.9" r="1.38"/><circle cx="416.1" cy="71.7" r="1.38"/><circle cx="432.5" cy="65.4" r="1.38"/><circle cx="443.9" cy="74.6" r="1.38"/><circle cx="432.0" cy="73.2" r="1.38"/><circle cx="427.1" cy="73.7" r="1.38"/><circle cx="422.8" cy="83.5" r="1.38"/><circle cx="437.6" cy="75.1" r="1.38"/><circle cx="420.8" cy="69.4" r="1.38"/><circle cx="440.5" cy="64.3" r="1.38"/><circle cx="433.7" cy="69.0" r="1.38"/><circle cx="443.1" cy="79.5" r="1.38"/><circle cx="423.9" cy="72.2" r="1.38"/><circle cx="455.4" cy="74.0" r="1.38"/><circle cx="434.7" cy="78.3" r="1.38"/><circle cx="437.6" cy="74.2" r="1.38"/><circle cx="435.3" cy="72.5" r="1.38"/><circle cx="443.7" cy="70.9" r="1.38"/><circle cx="430.3" cy="80.1" r="1.38"/><circle cx="442.6" cy="79.3" r="1.38"/><circle cx="428.6" cy="72.5" r="1.38"/><circle cx="437.3" cy="63.6" r="1.38"/><circle cx="449.7" cy="78.6" r="1.38"/><circle cx="423.7" cy="74.8" r="1.38"/><circle cx="449.3" cy="65.6" r="1.38"/><circle cx="435.8" cy="82.1" r="1.38"/><circle cx="428.1" cy="78.0" r="1.38"/><circle cx="435.8" cy="80.3" r="1.38"/><circle cx="427.7" cy="69.7" r="1.38"/><circle cx="433.5" cy="67.2" r="1.38"/><circle cx="427.3" cy="80.1" r="1.38"/><circle cx="447.2" cy="72.6" r="1.38"/><circle cx="444.9" cy="62.3" r="1.38"/><circle cx="441.9" cy="78.7" r="1.38"/><circle cx="436.6" cy="77.2" r="1.38"/><circle cx="427.9" cy="72.4" r="1.38"/><circle cx="425.1" cy="66.3" r="1.38"/><circle cx="429.5" cy="74.2" r="1.38"/><circle cx="441.8" cy="65.7" r="1.38"/><circle cx="434.0" cy="66.5" r="1.38"/><circle cx="450.9" cy="71.8" r="1.38"/><circle cx="448.4" cy="79.5" r="1.38"/><circle cx="431.9" cy="70.7" r="1.38"/><circle cx="432.5" cy="70.1" r="1.38"/><circle cx="432.7" cy="82.4" r="1.38"/><circle cx="430.3" cy="74.4" r="1.38"/><circle cx="429.5" cy="67.7" r="1.38"/><circle cx="426.0" cy="75.7" r="1.38"/><circle cx="421.7" cy="71.2" r="1.38"/><circle cx="421.4" cy="68.6" r="1.38"/><circle cx="417.5" cy="27.9" r="1.38"/><circle cx="445.8" cy="26.4" r="1.38"/><circle cx="405.3" cy="38.7" r="1.38"/><circle cx="416.9" cy="35.9" r="1.38"/><circle cx="417.5" cy="37.7" r="1.38"/><circle cx="422.9" cy="36.7" r="1.38"/><circle cx="428.8" cy="39.6" r="1.38"/><circle cx="432.6" cy="39.0" r="1.38"/><circle cx="423.2" cy="41.5" r="1.38"/><circle cx="421.7" cy="42.5" r="1.38"/><circle cx="410.6" cy="45.3" r="1.38"/><circle cx="413.1" cy="45.3" r="1.38"/><circle cx="415.6" cy="46.1" r="1.38"/><circle cx="427.6" cy="45.3" r="1.38"/><circle cx="426.3" cy="48.4" r="1.38"/><circle cx="432.6" cy="44.4" r="1.38"/><circle cx="432.6" cy="46.5" r="1.38"/><circle cx="433.8" cy="48.4" r="1.38"/><circle cx="442.0" cy="46.1" r="1.38"/><circle cx="442.0" cy="49.3" r="1.38"/><circle cx="405.0" cy="47.8" r="1.38"/><circle cx="402.5" cy="50.7" r="1.38"/><circle cx="407.5" cy="50.9" r="1.38"/><circle cx="410.0" cy="52.8" r="1.38"/><circle cx="410.6" cy="54.7" r="1.38"/><circle cx="419.4" cy="47.8" r="1.38"/><circle cx="416.3" cy="49.3" r="1.38"/><circle cx="419.4" cy="51.5" r="1.38"/><circle cx="420.7" cy="52.8" r="1.38"/><circle cx="423.8" cy="52.2" r="1.38"/><circle cx="433.2" cy="51.5" r="1.38"/><circle cx="432.0" cy="53.4" r="1.38"/><circle cx="443.9" cy="52.8" r="1.38"/><circle cx="413.8" cy="56.6" r="1.38"/><circle cx="416.3" cy="57.2" r="1.38"/><circle cx="418.8" cy="55.3" r="1.38"/><circle cx="420.7" cy="55.9" r="1.38"/><circle cx="423.2" cy="56.6" r="1.38"/><circle cx="432.6" cy="55.3" r="1.38"/><circle cx="438.2" cy="57.2" r="1.38"/><circle cx="437.0" cy="58.5" r="1.38"/><circle cx="447.0" cy="56.9" r="1.38"/><circle cx="446.4" cy="60.3" r="1.38"/><circle cx="452.4" cy="55.9" r="1.38"/><circle cx="455.2" cy="61.0" r="1.38"/><circle cx="462.7" cy="59.7" r="1.38"/><circle cx="428.8" cy="58.5" r="1.38"/><circle cx="430.1" cy="60.3" r="1.38"/><circle cx="432.6" cy="60.3" r="1.38"/><circle cx="435.1" cy="59.7" r="1.38"/><circle cx="410.6" cy="62.8" r="1.38"/><circle cx="420.7" cy="61.6" r="1.38"/><circle cx="423.8" cy="60.3" r="1.38"/><circle cx="425.1" cy="62.8" r="1.38"/><circle cx="390.9" cy="63.1" r="1.38"/><circle cx="466.5" cy="64.3" r="1.38"/><circle cx="460.6" cy="67.1" r="1.38"/><circle cx="455.8" cy="74.0" r="1.38"/><circle cx="455.2" cy="68.3" r="1.38"/><circle cx="452.7" cy="65.8" r="1.38"/><circle cx="451.4" cy="63.9" r="1.38"/><circle cx="406.9" cy="73.0" r="1.38"/><circle cx="410.0" cy="72.7" r="1.38"/><circle cx="410.6" cy="68.3" r="1.38"/><circle cx="409.4" cy="63.9" r="1.38"/><circle cx="410.6" cy="65.8" r="1.38"/><circle cx="412.8" cy="75.9" r="1.38"/><circle cx="414.4" cy="79.0" r="1.38"/><circle cx="416.3" cy="80.9" r="1.38"/><circle cx="421.3" cy="84.7" r="1.38"/><circle cx="443.9" cy="84.4" r="1.38"/><circle cx="415.6" cy="71.5" r="1.38"/><circle cx="444.5" cy="64.6" r="1.38"/><circle cx="445.8" cy="70.9" r="1.38"/><circle cx="449.5" cy="74.0" r="1.38"/><circle cx="484.5" cy="73.3" r="1.38"/></g>
<line x1="390.7" y1="61.0" x2="484.5" y2="79.1" stroke="#000" stroke-width="0.80"/>
<path d="M375.30 11.55V97.40H503.95M375.30 97.40v3.40M400.94 97.40v3.40M426.58 97.40v3.40M452.22 97.40v3.40M477.86 97.40v3.40M503.50 97.40v3.40M375.30 97.40h-3.40M375.30 80.32h-3.40M375.30 63.24h-3.40M375.30 46.16h-3.40M375.30 29.08h-3.40M375.30 12.00h-3.40" fill="none" stroke="#000" stroke-width="0.90"/>
<text x="375.3" y="108.0" font-size="6.0" text-anchor="middle">0.0</text>
<text x="400.9" y="108.0" font-size="6.0" text-anchor="middle">0.5</text>
<text x="426.6" y="108.0" font-size="6.0" text-anchor="middle">1.0</text>
<text x="452.2" y="108.0" font-size="6.0" text-anchor="middle">1.5</text>
<text x="477.9" y="108.0" font-size="6.0" text-anchor="middle">2.0</text>
<text x="503.5" y="108.0" font-size="6.0" text-anchor="middle">2.5</text>
<text x="371.0" y="99.6" font-size="6.0" text-anchor="end">0</text>
<text x="371.0" y="82.5" font-size="6.0" text-anchor="end">10</text>
<text x="371.0" y="65.4" font-size="6.0" text-anchor="end">20</text>
<text x="371.0" y="48.3" font-size="6.0" text-anchor="end">30</text>
<text x="371.0" y="31.2" font-size="6.0" text-anchor="end">40</text>
<text x="371.0" y="14.2" font-size="6.0" text-anchor="end">50</text>
<text x="439.4" y="116.6" font-size="6.20" text-anchor="middle">C3 (g/L)</text>
<text transform="translate(358.8 54.8) rotate(-90)" font-size="6.10" text-anchor="middle" y="1.8">IgG (g/L)</text>
<text x="470.5" y="18.6" font-size="6.15" text-anchor="middle">corr<tspan font-size="4.4" dy="1.0">coeff</tspan><tspan dy="-1.0">=-0.18</tspan></text>
<text x="470.5" y="26.3" font-size="6.15" text-anchor="middle">p=0.001**</text>
<text x="347.5" y="9.7" font-size="12.3" stroke="#000" stroke-width="0.35">C</text>
</g>
<g>
<g><circle cx="615.3" cy="83.6" r="1.38"/><circle cx="608.1" cy="86.2" r="1.38"/><circle cx="614.8" cy="83.2" r="1.38"/><circle cx="613.7" cy="87.2" r="1.38"/><circle cx="607.1" cy="90.4" r="1.38"/><circle cx="611.2" cy="92.1" r="1.38"/><circle cx="602.4" cy="90.4" r="1.38"/><circle cx="609.3" cy="82.5" r="1.38"/><circle cx="609.4" cy="88.5" r="1.38"/><circle cx="609.0" cy="92.2" r="1.38"/><circle cx="606.2" cy="86.7" r="1.38"/><circle cx="607.0" cy="90.6" r="1.38"/><circle cx="608.1" cy="86.5" r="1.38"/><circle cx="603.5" cy="87.1" r="1.38"/><circle cx="615.4" cy="86.2" r="1.38"/><circle cx="604.6" cy="84.9" r="1.38"/><circle cx="610.7" cy="78.2" r="1.38"/><circle cx="598.4" cy="79.1" r="1.38"/><circle cx="604.6" cy="89.0" r="1.38"/><circle cx="618.6" cy="87.0" r="1.38"/><circle cx="611.4" cy="81.8" r="1.38"/><circle cx="619.2" cy="84.7" r="1.38"/><circle cx="604.1" cy="80.1" r="1.38"/><circle cx="611.4" cy="83.7" r="1.38"/><circle cx="612.4" cy="91.3" r="1.38"/><circle cx="595.3" cy="88.4" r="1.38"/><circle cx="606.4" cy="83.9" r="1.38"/><circle cx="612.4" cy="86.2" r="1.38"/><circle cx="603.0" cy="84.2" r="1.38"/><circle cx="615.3" cy="79.2" r="1.38"/><circle cx="610.0" cy="85.8" r="1.38"/><circle cx="601.4" cy="86.6" r="1.38"/><circle cx="612.1" cy="92.2" r="1.38"/><circle cx="605.6" cy="81.6" r="1.38"/><circle cx="596.1" cy="84.1" r="1.38"/><circle cx="616.1" cy="81.9" r="1.38"/><circle cx="618.7" cy="80.5" r="1.38"/><circle cx="612.5" cy="82.1" r="1.38"/><circle cx="591.2" cy="84.2" r="1.38"/><circle cx="610.0" cy="77.3" r="1.38"/><circle cx="608.3" cy="76.9" r="1.38"/><circle cx="607.1" cy="88.7" r="1.38"/><circle cx="600.9" cy="76.6" r="1.38"/><circle cx="607.0" cy="81.6" r="1.38"/><circle cx="616.3" cy="83.6" r="1.38"/><circle cx="601.5" cy="82.6" r="1.38"/><circle cx="593.7" cy="80.5" r="1.38"/><circle cx="614.9" cy="85.8" r="1.38"/><circle cx="604.7" cy="88.2" r="1.38"/><circle cx="607.1" cy="84.0" r="1.38"/><circle cx="596.8" cy="85.9" r="1.38"/><circle cx="609.1" cy="86.1" r="1.38"/><circle cx="613.7" cy="81.0" r="1.38"/><circle cx="598.2" cy="89.4" r="1.38"/><circle cx="603.5" cy="75.4" r="1.38"/><circle cx="604.5" cy="81.0" r="1.38"/><circle cx="619.8" cy="85.9" r="1.38"/><circle cx="612.5" cy="77.0" r="1.38"/><circle cx="610.2" cy="84.2" r="1.38"/><circle cx="619.7" cy="86.4" r="1.38"/><circle cx="620.4" cy="83.6" r="1.38"/><circle cx="600.2" cy="85.8" r="1.38"/><circle cx="614.0" cy="90.2" r="1.38"/><circle cx="614.9" cy="80.8" r="1.38"/><circle cx="594.9" cy="84.4" r="1.38"/><circle cx="613.2" cy="88.3" r="1.38"/><circle cx="612.9" cy="82.4" r="1.38"/><circle cx="606.2" cy="89.2" r="1.38"/><circle cx="599.6" cy="87.2" r="1.38"/><circle cx="610.4" cy="80.5" r="1.38"/><circle cx="592.7" cy="85.7" r="1.38"/><circle cx="618.2" cy="87.2" r="1.38"/><circle cx="601.5" cy="88.7" r="1.38"/><circle cx="610.7" cy="87.9" r="1.38"/><circle cx="608.2" cy="93.0" r="1.38"/><circle cx="605.9" cy="78.6" r="1.38"/><circle cx="604.2" cy="85.6" r="1.38"/><circle cx="609.2" cy="91.3" r="1.38"/><circle cx="603.9" cy="88.1" r="1.38"/><circle cx="611.4" cy="90.5" r="1.38"/><circle cx="607.5" cy="86.2" r="1.38"/><circle cx="612.0" cy="76.1" r="1.38"/><circle cx="619.7" cy="84.0" r="1.38"/><circle cx="597.8" cy="80.9" r="1.38"/><circle cx="605.9" cy="86.8" r="1.38"/><circle cx="611.2" cy="83.0" r="1.38"/><circle cx="609.7" cy="83.5" r="1.38"/><circle cx="602.7" cy="88.2" r="1.38"/><circle cx="604.7" cy="84.7" r="1.38"/><circle cx="606.8" cy="90.8" r="1.38"/><circle cx="619.3" cy="89.4" r="1.38"/><circle cx="610.6" cy="84.7" r="1.38"/><circle cx="614.1" cy="88.9" r="1.38"/><circle cx="622.1" cy="79.7" r="1.38"/><circle cx="607.4" cy="93.0" r="1.38"/><circle cx="600.3" cy="84.7" r="1.38"/><circle cx="607.9" cy="77.6" r="1.38"/><circle cx="601.5" cy="80.4" r="1.38"/><circle cx="603.9" cy="87.0" r="1.38"/><circle cx="597.8" cy="85.5" r="1.38"/><circle cx="608.6" cy="87.1" r="1.38"/><circle cx="609.8" cy="76.1" r="1.38"/><circle cx="607.4" cy="75.3" r="1.38"/><circle cx="613.8" cy="84.4" r="1.38"/><circle cx="609.9" cy="82.0" r="1.38"/><circle cx="603.2" cy="79.2" r="1.38"/><circle cx="602.5" cy="86.6" r="1.38"/><circle cx="619.8" cy="88.5" r="1.38"/><circle cx="613.4" cy="89.0" r="1.38"/><circle cx="601.3" cy="80.5" r="1.38"/><circle cx="612.4" cy="86.3" r="1.38"/><circle cx="614.9" cy="87.6" r="1.38"/><circle cx="613.7" cy="90.7" r="1.38"/><circle cx="608.7" cy="80.0" r="1.38"/><circle cx="618.3" cy="79.9" r="1.38"/><circle cx="598.9" cy="82.2" r="1.38"/><circle cx="616.5" cy="86.7" r="1.38"/><circle cx="601.6" cy="78.0" r="1.38"/><circle cx="593.5" cy="83.8" r="1.38"/><circle cx="601.5" cy="84.2" r="1.38"/><circle cx="603.3" cy="84.4" r="1.38"/><circle cx="610.6" cy="79.1" r="1.38"/><circle cx="608.7" cy="86.1" r="1.38"/><circle cx="603.5" cy="86.7" r="1.38"/><circle cx="613.6" cy="87.4" r="1.38"/><circle cx="609.1" cy="80.4" r="1.38"/><circle cx="615.8" cy="87.4" r="1.38"/><circle cx="616.4" cy="80.1" r="1.38"/><circle cx="610.2" cy="85.5" r="1.38"/><circle cx="602.9" cy="87.6" r="1.38"/><circle cx="603.5" cy="84.3" r="1.38"/><circle cx="607.5" cy="81.2" r="1.38"/><circle cx="599.4" cy="82.6" r="1.38"/><circle cx="610.9" cy="79.3" r="1.38"/><circle cx="619.7" cy="81.4" r="1.38"/><circle cx="612.4" cy="81.6" r="1.38"/><circle cx="593.8" cy="84.2" r="1.38"/><circle cx="607.3" cy="80.2" r="1.38"/><circle cx="603.4" cy="85.3" r="1.38"/><circle cx="614.6" cy="83.8" r="1.38"/><circle cx="602.5" cy="84.3" r="1.38"/><circle cx="606.4" cy="83.2" r="1.38"/><circle cx="601.6" cy="81.8" r="1.38"/><circle cx="610.1" cy="79.1" r="1.38"/><circle cx="615.1" cy="91.7" r="1.38"/><circle cx="601.7" cy="77.4" r="1.38"/><circle cx="598.0" cy="90.7" r="1.38"/><circle cx="613.4" cy="79.9" r="1.38"/><circle cx="603.4" cy="75.3" r="1.38"/><circle cx="622.8" cy="85.7" r="1.38"/><circle cx="613.4" cy="83.9" r="1.38"/><circle cx="616.0" cy="84.8" r="1.38"/><circle cx="607.0" cy="79.5" r="1.38"/><circle cx="607.1" cy="72.2" r="1.38"/><circle cx="591.0" cy="80.8" r="1.38"/><circle cx="611.2" cy="81.8" r="1.38"/><circle cx="626.3" cy="88.6" r="1.38"/><circle cx="603.9" cy="81.7" r="1.38"/><circle cx="614.3" cy="90.7" r="1.38"/><circle cx="598.3" cy="77.7" r="1.38"/><circle cx="625.6" cy="80.9" r="1.38"/><circle cx="618.1" cy="84.5" r="1.38"/><circle cx="600.3" cy="82.9" r="1.38"/><circle cx="601.9" cy="90.0" r="1.38"/><circle cx="615.2" cy="76.9" r="1.38"/><circle cx="598.3" cy="89.9" r="1.38"/><circle cx="621.1" cy="84.5" r="1.38"/><circle cx="605.4" cy="86.0" r="1.38"/><circle cx="603.5" cy="82.4" r="1.38"/><circle cx="593.3" cy="81.4" r="1.38"/><circle cx="601.6" cy="90.0" r="1.38"/><circle cx="600.6" cy="76.8" r="1.38"/><circle cx="616.0" cy="75.9" r="1.38"/><circle cx="609.1" cy="79.4" r="1.38"/><circle cx="611.7" cy="76.8" r="1.38"/><circle cx="612.4" cy="91.6" r="1.38"/><circle cx="608.3" cy="72.5" r="1.38"/><circle cx="595.7" cy="77.9" r="1.38"/><circle cx="611.7" cy="92.1" r="1.38"/><circle cx="617.1" cy="76.8" r="1.38"/><circle cx="602.3" cy="94.0" r="1.38"/><circle cx="619.5" cy="84.2" r="1.38"/><circle cx="615.5" cy="91.8" r="1.38"/><circle cx="599.5" cy="73.8" r="1.38"/><circle cx="592.9" cy="80.8" r="1.38"/><circle cx="615.3" cy="92.0" r="1.38"/><circle cx="614.4" cy="85.5" r="1.38"/><circle cx="611.4" cy="84.6" r="1.38"/><circle cx="606.3" cy="81.9" r="1.38"/><circle cx="598.6" cy="84.7" r="1.38"/><circle cx="596.7" cy="90.4" r="1.38"/><circle cx="601.2" cy="92.0" r="1.38"/><circle cx="614.3" cy="87.1" r="1.38"/><circle cx="599.2" cy="86.0" r="1.38"/><circle cx="612.9" cy="86.5" r="1.38"/><circle cx="603.2" cy="77.1" r="1.38"/><circle cx="613.4" cy="92.9" r="1.38"/><circle cx="610.4" cy="86.6" r="1.38"/><circle cx="595.1" cy="82.9" r="1.38"/><circle cx="606.6" cy="75.3" r="1.38"/><circle cx="616.7" cy="90.3" r="1.38"/><circle cx="613.2" cy="72.7" r="1.38"/><circle cx="607.2" cy="77.3" r="1.38"/><circle cx="620.8" cy="79.0" r="1.38"/><circle cx="608.0" cy="89.9" r="1.38"/><circle cx="608.1" cy="87.1" r="1.38"/><circle cx="589.3" cy="89.7" r="1.38"/><circle cx="607.4" cy="94.0" r="1.38"/><circle cx="621.3" cy="85.9" r="1.38"/><circle cx="603.1" cy="82.3" r="1.38"/><circle cx="604.8" cy="91.8" r="1.38"/><circle cx="618.6" cy="83.1" r="1.38"/><circle cx="617.3" cy="83.3" r="1.38"/><circle cx="600.4" cy="78.6" r="1.38"/><circle cx="590.6" cy="84.2" r="1.38"/><circle cx="606.6" cy="88.7" r="1.38"/><circle cx="608.9" cy="83.3" r="1.38"/><circle cx="608.1" cy="84.5" r="1.38"/><circle cx="611.2" cy="76.9" r="1.38"/><circle cx="620.2" cy="77.6" r="1.38"/><circle cx="612.8" cy="27.7" r="1.38"/><circle cx="619.5" cy="41.0" r="1.38"/><circle cx="612.8" cy="42.7" r="1.38"/><circle cx="611.0" cy="46.9" r="1.38"/><circle cx="604.4" cy="48.1" r="1.38"/><circle cx="599.7" cy="51.9" r="1.38"/><circle cx="606.6" cy="51.9" r="1.38"/><circle cx="616.2" cy="51.9" r="1.38"/><circle cx="599.0" cy="55.0" r="1.38"/><circle cx="604.7" cy="54.8" r="1.38"/><circle cx="619.1" cy="61.3" r="1.38"/><circle cx="586.2" cy="64.5" r="1.38"/><circle cx="609.1" cy="65.1" r="1.38"/><circle cx="610.3" cy="66.3" r="1.38"/><circle cx="615.7" cy="66.1" r="1.38"/><circle cx="628.3" cy="65.5" r="1.38"/><circle cx="606.9" cy="68.8" r="1.38"/><circle cx="611.6" cy="68.8" r="1.38"/><circle cx="597.5" cy="69.5" r="1.38"/><circle cx="619.1" cy="69.5" r="1.38"/><circle cx="567.0" cy="85.4" r="1.38"/><circle cx="580.8" cy="82.1" r="1.38"/><circle cx="583.3" cy="92.9" r="1.38"/><circle cx="585.2" cy="86.9" r="1.38"/><circle cx="587.1" cy="88.8" r="1.38"/><circle cx="589.0" cy="86.6" r="1.38"/><circle cx="586.5" cy="93.8" r="1.38"/><circle cx="589.6" cy="95.1" r="1.38"/><circle cx="592.1" cy="93.8" r="1.38"/><circle cx="631.7" cy="73.7" r="1.38"/><circle cx="629.4" cy="78.7" r="1.38"/><circle cx="637.3" cy="79.1" r="1.38"/><circle cx="638.8" cy="79.4" r="1.38"/><circle cx="627.3" cy="86.3" r="1.38"/><circle cx="629.8" cy="86.3" r="1.38"/><circle cx="626.7" cy="91.9" r="1.38"/><circle cx="631.7" cy="93.8" r="1.38"/><circle cx="628.2" cy="96.6" r="1.38"/><circle cx="620.4" cy="97.6" r="1.38"/><circle cx="616.2" cy="96.3" r="1.38"/><circle cx="597.8" cy="71.8" r="1.38"/><circle cx="599.0" cy="73.1" r="1.38"/><circle cx="605.9" cy="72.5" r="1.38"/><circle cx="618.7" cy="71.8" r="1.38"/><circle cx="621.6" cy="73.1" r="1.38"/><circle cx="593.4" cy="75.6" r="1.38"/><circle cx="592.8" cy="78.1" r="1.38"/><circle cx="605.3" cy="95.7" r="1.38"/><circle cx="607.8" cy="95.7" r="1.38"/><circle cx="595.3" cy="95.1" r="1.38"/><circle cx="599.7" cy="94.4" r="1.38"/><circle cx="661.0" cy="83.5" r="1.38"/></g>
<line x1="567.0" y1="86.2" x2="661.0" y2="75.4" stroke="#000" stroke-width="0.80"/>
<path d="M551.60 14.95V100.90H680.45M551.60 100.90v3.40M577.28 100.90v3.40M602.96 100.90v3.40M628.64 100.90v3.40M654.32 100.90v3.40M680.00 100.90v3.40M551.60 100.90h-3.40M551.60 83.80h-3.40M551.60 66.70h-3.40M551.60 49.60h-3.40M551.60 32.50h-3.40M551.60 15.40h-3.40" fill="none" stroke="#000" stroke-width="0.90"/>
<text x="551.6" y="111.8" font-size="6.6" text-anchor="middle">0.0</text>
<text x="577.3" y="111.8" font-size="6.6" text-anchor="middle">0.5</text>
<text x="603.0" y="111.8" font-size="6.6" text-anchor="middle">1.0</text>
<text x="628.6" y="111.8" font-size="6.6" text-anchor="middle">1.5</text>
<text x="654.3" y="111.8" font-size="6.6" text-anchor="middle">2.0</text>
<text x="680.0" y="111.8" font-size="6.6" text-anchor="middle">2.5</text>
<text x="547.3" y="103.3" font-size="6.6" text-anchor="end">0</text>
<text x="547.3" y="86.2" font-size="6.6" text-anchor="end">1000</text>
<text x="547.3" y="69.1" font-size="6.6" text-anchor="end">2000</text>
<text x="547.3" y="52.0" font-size="6.6" text-anchor="end">3000</text>
<text x="547.3" y="34.9" font-size="6.6" text-anchor="end">4000</text>
<text x="547.3" y="17.8" font-size="6.6" text-anchor="end">5000</text>
<text x="615.9" y="120.4" font-size="6.20" text-anchor="middle">C3 (g/L)</text>
<text transform="translate(526.4 58.0) rotate(-90)" font-size="6.10" text-anchor="middle" y="1.8">Absolute number of CD3 (+) cells (/ul)</text>
<text x="647.0" y="21.4" font-size="6.15" text-anchor="middle">corr<tspan font-size="4.4" dy="1.0">coeff</tspan><tspan dy="-1.0">=0.17</tspan></text>
<text x="647.0" y="28.8" font-size="6.15" text-anchor="middle">p=0.01*</text>
<text x="510.7" y="8.7" font-size="12.3" stroke="#000" stroke-width="0.35">D</text>
</g>
<g>
<g><circle cx="92.3" cy="230.9" r="1.38"/><circle cx="94.5" cy="224.8" r="1.38"/><circle cx="84.1" cy="226.7" r="1.38"/><circle cx="90.3" cy="225.8" r="1.38"/><circle cx="92.3" cy="233.5" r="1.38"/><circle cx="83.2" cy="226.4" r="1.38"/><circle cx="96.2" cy="231.6" r="1.38"/><circle cx="86.1" cy="225.8" r="1.38"/><circle cx="88.0" cy="232.9" r="1.38"/><circle cx="83.7" cy="233.9" r="1.38"/><circle cx="92.9" cy="232.0" r="1.38"/><circle cx="77.7" cy="223.1" r="1.38"/><circle cx="86.6" cy="229.7" r="1.38"/><circle cx="89.9" cy="232.6" r="1.38"/><circle cx="83.4" cy="233.3" r="1.38"/><circle cx="90.5" cy="228.4" r="1.38"/><circle cx="95.2" cy="225.2" r="1.38"/><circle cx="90.3" cy="230.6" r="1.38"/><circle cx="91.3" cy="219.1" r="1.38"/><circle cx="75.5" cy="228.4" r="1.38"/><circle cx="84.7" cy="234.6" r="1.38"/><circle cx="85.0" cy="232.2" r="1.38"/><circle cx="87.0" cy="232.4" r="1.38"/><circle cx="85.7" cy="228.3" r="1.38"/><circle cx="72.5" cy="231.3" r="1.38"/><circle cx="73.6" cy="230.2" r="1.38"/><circle cx="99.6" cy="232.9" r="1.38"/><circle cx="79.6" cy="233.4" r="1.38"/><circle cx="93.7" cy="224.5" r="1.38"/><circle cx="92.2" cy="228.1" r="1.38"/><circle cx="96.2" cy="232.4" r="1.38"/><circle cx="90.0" cy="236.6" r="1.38"/><circle cx="92.8" cy="223.9" r="1.38"/><circle cx="86.7" cy="228.3" r="1.38"/><circle cx="88.8" cy="233.5" r="1.38"/><circle cx="84.3" cy="222.4" r="1.38"/><circle cx="88.3" cy="227.2" r="1.38"/><circle cx="94.9" cy="231.0" r="1.38"/><circle cx="82.4" cy="225.6" r="1.38"/><circle cx="93.2" cy="227.9" r="1.38"/><circle cx="89.3" cy="233.9" r="1.38"/><circle cx="74.1" cy="224.8" r="1.38"/><circle cx="82.2" cy="229.3" r="1.38"/><circle cx="86.1" cy="229.0" r="1.38"/><circle cx="82.3" cy="235.7" r="1.38"/><circle cx="77.3" cy="229.7" r="1.38"/><circle cx="91.9" cy="225.6" r="1.38"/><circle cx="88.1" cy="219.6" r="1.38"/><circle cx="84.4" cy="226.3" r="1.38"/><circle cx="87.2" cy="222.8" r="1.38"/><circle cx="81.2" cy="223.8" r="1.38"/><circle cx="93.5" cy="221.0" r="1.38"/><circle cx="85.6" cy="233.0" r="1.38"/><circle cx="80.3" cy="229.3" r="1.38"/><circle cx="93.0" cy="237.0" r="1.38"/><circle cx="79.5" cy="238.1" r="1.38"/><circle cx="92.5" cy="226.4" r="1.38"/><circle cx="80.0" cy="234.3" r="1.38"/><circle cx="94.3" cy="228.9" r="1.38"/><circle cx="89.6" cy="237.4" r="1.38"/><circle cx="89.9" cy="228.4" r="1.38"/><circle cx="93.8" cy="224.3" r="1.38"/><circle cx="94.8" cy="230.6" r="1.38"/><circle cx="90.6" cy="223.0" r="1.38"/><circle cx="86.0" cy="233.0" r="1.38"/><circle cx="78.0" cy="227.5" r="1.38"/><circle cx="79.0" cy="226.8" r="1.38"/><circle cx="82.2" cy="238.0" r="1.38"/><circle cx="100.7" cy="227.9" r="1.38"/><circle cx="96.7" cy="227.5" r="1.38"/><circle cx="87.2" cy="224.0" r="1.38"/><circle cx="93.5" cy="229.3" r="1.38"/><circle cx="93.0" cy="229.2" r="1.38"/><circle cx="97.2" cy="229.0" r="1.38"/><circle cx="92.9" cy="223.2" r="1.38"/><circle cx="93.4" cy="225.6" r="1.38"/><circle cx="90.3" cy="219.0" r="1.38"/><circle cx="88.7" cy="223.9" r="1.38"/><circle cx="86.4" cy="227.1" r="1.38"/><circle cx="87.1" cy="227.7" r="1.38"/><circle cx="80.9" cy="225.0" r="1.38"/><circle cx="91.8" cy="227.2" r="1.38"/><circle cx="86.6" cy="218.5" r="1.38"/><circle cx="85.8" cy="228.1" r="1.38"/><circle cx="91.3" cy="220.3" r="1.38"/><circle cx="82.1" cy="229.6" r="1.38"/><circle cx="81.0" cy="228.2" r="1.38"/><circle cx="84.2" cy="235.4" r="1.38"/><circle cx="70.9" cy="233.5" r="1.38"/><circle cx="89.6" cy="236.4" r="1.38"/><circle cx="82.1" cy="232.5" r="1.38"/><circle cx="96.1" cy="225.0" r="1.38"/><circle cx="75.7" cy="238.0" r="1.38"/><circle cx="82.8" cy="219.2" r="1.38"/><circle cx="78.4" cy="237.6" r="1.38"/><circle cx="83.2" cy="220.1" r="1.38"/><circle cx="83.5" cy="221.1" r="1.38"/><circle cx="85.7" cy="230.9" r="1.38"/><circle cx="72.1" cy="230.9" r="1.38"/><circle cx="75.8" cy="237.4" r="1.38"/><circle cx="72.2" cy="229.5" r="1.38"/><circle cx="81.2" cy="228.0" r="1.38"/><circle cx="86.0" cy="233.3" r="1.38"/><circle cx="93.1" cy="225.3" r="1.38"/><circle cx="91.1" cy="223.7" r="1.38"/><circle cx="91.4" cy="235.1" r="1.38"/><circle cx="89.8" cy="232.9" r="1.38"/><circle cx="82.9" cy="226.1" r="1.38"/><circle cx="82.8" cy="229.6" r="1.38"/><circle cx="75.3" cy="227.9" r="1.38"/><circle cx="81.7" cy="221.8" r="1.38"/><circle cx="82.3" cy="235.8" r="1.38"/><circle cx="78.0" cy="229.9" r="1.38"/><circle cx="85.3" cy="237.5" r="1.38"/><circle cx="85.2" cy="231.9" r="1.38"/><circle cx="80.3" cy="231.2" r="1.38"/><circle cx="79.0" cy="229.9" r="1.38"/><circle cx="90.3" cy="234.9" r="1.38"/><circle cx="86.3" cy="231.9" r="1.38"/><circle cx="84.2" cy="219.2" r="1.38"/><circle cx="95.5" cy="235.4" r="1.38"/><circle cx="78.3" cy="229.9" r="1.38"/><circle cx="74.3" cy="227.7" r="1.38"/><circle cx="87.2" cy="219.6" r="1.38"/><circle cx="82.8" cy="219.5" r="1.38"/><circle cx="85.7" cy="233.9" r="1.38"/><circle cx="96.5" cy="233.7" r="1.38"/><circle cx="85.3" cy="226.0" r="1.38"/><circle cx="85.2" cy="231.8" r="1.38"/><circle cx="80.8" cy="237.9" r="1.38"/><circle cx="72.2" cy="232.3" r="1.38"/><circle cx="86.5" cy="224.5" r="1.38"/><circle cx="80.3" cy="235.7" r="1.38"/><circle cx="87.8" cy="228.3" r="1.38"/><circle cx="92.2" cy="236.3" r="1.38"/><circle cx="83.5" cy="232.0" r="1.38"/><circle cx="73.0" cy="229.0" r="1.38"/><circle cx="80.7" cy="225.4" r="1.38"/><circle cx="92.8" cy="237.1" r="1.38"/><circle cx="80.1" cy="226.5" r="1.38"/><circle cx="83.3" cy="231.1" r="1.38"/><circle cx="72.3" cy="230.4" r="1.38"/><circle cx="92.7" cy="223.9" r="1.38"/><circle cx="77.9" cy="225.4" r="1.38"/><circle cx="82.1" cy="218.9" r="1.38"/><circle cx="87.7" cy="225.6" r="1.38"/><circle cx="77.2" cy="233.3" r="1.38"/><circle cx="82.0" cy="227.3" r="1.38"/><circle cx="87.8" cy="225.9" r="1.38"/><circle cx="82.8" cy="223.0" r="1.38"/><circle cx="92.1" cy="236.4" r="1.38"/><circle cx="78.6" cy="222.1" r="1.38"/><circle cx="87.0" cy="231.0" r="1.38"/><circle cx="93.2" cy="220.7" r="1.38"/><circle cx="75.0" cy="221.8" r="1.38"/><circle cx="80.7" cy="228.6" r="1.38"/><circle cx="76.0" cy="229.1" r="1.38"/><circle cx="84.9" cy="231.8" r="1.38"/><circle cx="87.0" cy="221.0" r="1.38"/><circle cx="93.8" cy="233.8" r="1.38"/><circle cx="88.0" cy="239.3" r="1.38"/><circle cx="86.6" cy="232.3" r="1.38"/><circle cx="80.6" cy="226.5" r="1.38"/><circle cx="76.9" cy="234.0" r="1.38"/><circle cx="84.0" cy="230.5" r="1.38"/><circle cx="77.6" cy="223.9" r="1.38"/><circle cx="85.6" cy="227.5" r="1.38"/><circle cx="82.1" cy="231.7" r="1.38"/><circle cx="77.3" cy="225.6" r="1.38"/><circle cx="92.4" cy="225.2" r="1.38"/><circle cx="90.6" cy="223.7" r="1.38"/><circle cx="76.1" cy="218.4" r="1.38"/><circle cx="73.0" cy="224.4" r="1.38"/><circle cx="92.1" cy="229.2" r="1.38"/><circle cx="94.3" cy="236.7" r="1.38"/><circle cx="74.5" cy="221.3" r="1.38"/><circle cx="91.7" cy="232.6" r="1.38"/><circle cx="92.3" cy="230.9" r="1.38"/><circle cx="95.3" cy="223.5" r="1.38"/><circle cx="86.5" cy="227.0" r="1.38"/><circle cx="90.5" cy="235.6" r="1.38"/><circle cx="83.2" cy="217.6" r="1.38"/><circle cx="86.6" cy="224.3" r="1.38"/><circle cx="92.4" cy="226.2" r="1.38"/><circle cx="87.0" cy="232.2" r="1.38"/><circle cx="85.9" cy="220.0" r="1.38"/><circle cx="102.5" cy="224.7" r="1.38"/><circle cx="89.0" cy="233.3" r="1.38"/><circle cx="88.5" cy="223.8" r="1.38"/><circle cx="85.2" cy="222.9" r="1.38"/><circle cx="83.2" cy="229.8" r="1.38"/><circle cx="96.2" cy="223.7" r="1.38"/><circle cx="93.8" cy="231.9" r="1.38"/><circle cx="86.3" cy="226.1" r="1.38"/><circle cx="85.8" cy="228.4" r="1.38"/><circle cx="95.9" cy="221.1" r="1.38"/><circle cx="87.6" cy="234.6" r="1.38"/><circle cx="94.5" cy="226.8" r="1.38"/><circle cx="84.1" cy="231.2" r="1.38"/><circle cx="95.6" cy="234.4" r="1.38"/><circle cx="75.5" cy="224.0" r="1.38"/><circle cx="72.9" cy="220.1" r="1.38"/><circle cx="81.7" cy="236.0" r="1.38"/><circle cx="98.8" cy="224.2" r="1.38"/><circle cx="96.6" cy="224.1" r="1.38"/><circle cx="97.4" cy="221.1" r="1.38"/><circle cx="99.4" cy="226.3" r="1.38"/><circle cx="79.1" cy="227.1" r="1.38"/><circle cx="78.8" cy="232.9" r="1.38"/><circle cx="81.5" cy="230.6" r="1.38"/><circle cx="84.9" cy="228.0" r="1.38"/><circle cx="65.7" cy="231.5" r="1.38"/><circle cx="76.1" cy="222.4" r="1.38"/><circle cx="90.6" cy="239.5" r="1.38"/><circle cx="98.8" cy="232.1" r="1.38"/><circle cx="81.1" cy="230.0" r="1.38"/><circle cx="81.2" cy="229.1" r="1.38"/><circle cx="76.6" cy="236.0" r="1.38"/><circle cx="81.6" cy="228.7" r="1.38"/><circle cx="80.8" cy="220.3" r="1.38"/><circle cx="96.6" cy="225.6" r="1.38"/><circle cx="72.6" cy="226.0" r="1.38"/><circle cx="105.6" cy="231.0" r="1.38"/><circle cx="88.6" cy="223.9" r="1.38"/><circle cx="65.0" cy="229.8" r="1.38"/><circle cx="81.7" cy="218.1" r="1.38"/><circle cx="75.3" cy="228.6" r="1.38"/><circle cx="81.9" cy="234.6" r="1.38"/><circle cx="78.8" cy="235.2" r="1.38"/><circle cx="74.8" cy="224.9" r="1.38"/><circle cx="74.6" cy="239.1" r="1.38"/><circle cx="66.8" cy="231.4" r="1.38"/><circle cx="74.5" cy="229.4" r="1.38"/><circle cx="99.1" cy="225.8" r="1.38"/><circle cx="86.5" cy="226.5" r="1.38"/><circle cx="85.8" cy="225.4" r="1.38"/><circle cx="75.8" cy="230.1" r="1.38"/><circle cx="88.6" cy="233.7" r="1.38"/><circle cx="81.8" cy="236.0" r="1.38"/><circle cx="90.0" cy="218.3" r="1.38"/><circle cx="90.6" cy="158.4" r="1.38"/><circle cx="94.2" cy="174.5" r="1.38"/><circle cx="77.0" cy="186.2" r="1.38"/><circle cx="90.6" cy="188.9" r="1.38"/><circle cx="84.3" cy="197.7" r="1.38"/><circle cx="97.1" cy="196.5" r="1.38"/><circle cx="74.8" cy="205.3" r="1.38"/><circle cx="82.4" cy="203.2" r="1.38"/><circle cx="84.9" cy="207.3" r="1.38"/><circle cx="93.3" cy="207.2" r="1.38"/><circle cx="77.6" cy="210.4" r="1.38"/><circle cx="82.4" cy="211.3" r="1.38"/><circle cx="83.3" cy="212.6" r="1.38"/><circle cx="88.3" cy="210.7" r="1.38"/><circle cx="89.6" cy="209.4" r="1.38"/><circle cx="85.8" cy="213.8" r="1.38"/><circle cx="89.9" cy="214.1" r="1.38"/><circle cx="96.5" cy="213.8" r="1.38"/><circle cx="97.1" cy="215.1" r="1.38"/><circle cx="75.1" cy="215.1" r="1.38"/><circle cx="78.9" cy="215.7" r="1.38"/><circle cx="71.1" cy="217.6" r="1.38"/><circle cx="83.3" cy="217.6" r="1.38"/><circle cx="64.1" cy="225.5" r="1.38"/><circle cx="58.8" cy="231.2" r="1.38"/><circle cx="61.9" cy="233.3" r="1.38"/><circle cx="65.7" cy="232.0" r="1.38"/><circle cx="63.8" cy="235.2" r="1.38"/><circle cx="61.3" cy="238.9" r="1.38"/><circle cx="67.6" cy="240.2" r="1.38"/><circle cx="71.4" cy="240.8" r="1.38"/><circle cx="77.0" cy="240.2" r="1.38"/><circle cx="82.7" cy="240.2" r="1.38"/><circle cx="105.9" cy="221.1" r="1.38"/><circle cx="109.7" cy="221.4" r="1.38"/><circle cx="114.7" cy="223.6" r="1.38"/><circle cx="116.8" cy="227.6" r="1.38"/><circle cx="107.1" cy="225.1" r="1.38"/><circle cx="107.8" cy="229.5" r="1.38"/><circle cx="104.6" cy="228.9" r="1.38"/><circle cx="104.6" cy="237.1" r="1.38"/><circle cx="109.7" cy="239.2" r="1.38"/><circle cx="106.1" cy="242.7" r="1.38"/><circle cx="101.5" cy="235.2" r="1.38"/><circle cx="98.4" cy="239.6" r="1.38"/><circle cx="99.0" cy="241.5" r="1.38"/><circle cx="45.6" cy="232.3" r="1.38"/><circle cx="138.7" cy="222.5" r="1.38"/></g>
<line x1="45.0" y1="232.2" x2="138.7" y2="218.4" stroke="#000" stroke-width="0.80"/>
<path d="M29.60 157.95V243.50H158.15M29.60 243.50v3.40M55.22 243.50v3.40M80.84 243.50v3.40M106.46 243.50v3.40M132.08 243.50v3.40M157.70 243.50v3.40M29.60 243.50h-3.40M29.60 215.13h-3.40M29.60 186.77h-3.40M29.60 158.40h-3.40" fill="none" stroke="#000" stroke-width="0.90"/>
<text x="29.6" y="254.2" font-size="6.0" text-anchor="middle">0.0</text>
<text x="55.2" y="254.2" font-size="6.0" text-anchor="middle">0.5</text>
<text x="80.8" y="254.2" font-size="6.0" text-anchor="middle">1.0</text>
<text x="106.5" y="254.2" font-size="6.0" text-anchor="middle">1.5</text>
<text x="132.1" y="254.2" font-size="6.0" text-anchor="middle">2.0</text>
<text x="157.7" y="254.2" font-size="6.0" text-anchor="middle">2.5</text>
<text x="25.3" y="245.7" font-size="6.0" text-anchor="end">0</text>
<text x="25.3" y="217.3" font-size="6.0" text-anchor="end">1000</text>
<text x="25.3" y="188.9" font-size="6.0" text-anchor="end">2000</text>
<text x="25.3" y="160.6" font-size="6.0" text-anchor="end">3000</text>
<text x="93.4" y="262.9" font-size="6.20" text-anchor="middle">C3 (g/L)</text>
<text transform="translate(5.9 201.0) rotate(-90)" font-size="6.10" text-anchor="middle" y="1.8">Absolute number of CD4 (+) cells (/ul)</text>
<text x="124.7" y="165.0" font-size="6.15" text-anchor="middle">corr<tspan font-size="4.4" dy="1.0">coeff</tspan><tspan dy="-1.0">=0.19</tspan></text>
<text x="124.7" y="172.7" font-size="6.15" text-anchor="middle">p=0.002**</text>
<text x="-0.1" y="136.5" font-size="12.3" stroke="#000" stroke-width="0.35">E</text>
</g>
<g>
<g><circle cx="248.7" cy="225.6" r="1.38"/><circle cx="258.1" cy="229.7" r="1.38"/><circle cx="253.9" cy="232.9" r="1.38"/><circle cx="256.4" cy="226.9" r="1.38"/><circle cx="252.1" cy="244.1" r="1.38"/><circle cx="238.9" cy="229.9" r="1.38"/><circle cx="259.4" cy="228.9" r="1.38"/><circle cx="246.2" cy="240.3" r="1.38"/><circle cx="251.5" cy="241.1" r="1.38"/><circle cx="256.7" cy="227.1" r="1.38"/><circle cx="257.2" cy="236.2" r="1.38"/><circle cx="257.9" cy="225.2" r="1.38"/><circle cx="254.4" cy="242.2" r="1.38"/><circle cx="256.1" cy="233.8" r="1.38"/><circle cx="255.9" cy="234.7" r="1.38"/><circle cx="249.2" cy="242.8" r="1.38"/><circle cx="246.6" cy="236.0" r="1.38"/><circle cx="236.5" cy="228.2" r="1.38"/><circle cx="248.4" cy="238.6" r="1.38"/><circle cx="252.4" cy="231.1" r="1.38"/><circle cx="252.1" cy="226.0" r="1.38"/><circle cx="249.8" cy="239.2" r="1.38"/><circle cx="236.9" cy="227.9" r="1.38"/><circle cx="242.1" cy="239.8" r="1.38"/><circle cx="239.7" cy="241.8" r="1.38"/><circle cx="250.0" cy="223.6" r="1.38"/><circle cx="244.0" cy="231.6" r="1.38"/><circle cx="240.7" cy="223.7" r="1.38"/><circle cx="262.0" cy="231.8" r="1.38"/><circle cx="255.2" cy="226.7" r="1.38"/><circle cx="256.8" cy="235.9" r="1.38"/><circle cx="243.3" cy="226.7" r="1.38"/><circle cx="238.6" cy="229.8" r="1.38"/><circle cx="251.6" cy="225.1" r="1.38"/><circle cx="261.6" cy="239.7" r="1.38"/><circle cx="253.2" cy="232.5" r="1.38"/><circle cx="245.8" cy="241.3" r="1.38"/><circle cx="260.1" cy="230.3" r="1.38"/><circle cx="255.3" cy="223.6" r="1.38"/><circle cx="258.1" cy="227.6" r="1.38"/><circle cx="245.2" cy="235.1" r="1.38"/><circle cx="260.0" cy="233.6" r="1.38"/><circle cx="248.2" cy="227.7" r="1.38"/><circle cx="248.4" cy="239.0" r="1.38"/><circle cx="247.4" cy="223.5" r="1.38"/><circle cx="241.2" cy="242.1" r="1.38"/><circle cx="236.0" cy="236.6" r="1.38"/><circle cx="251.8" cy="239.0" r="1.38"/><circle cx="257.8" cy="235.8" r="1.38"/><circle cx="256.7" cy="227.8" r="1.38"/><circle cx="246.4" cy="235.8" r="1.38"/><circle cx="248.5" cy="227.5" r="1.38"/><circle cx="252.2" cy="233.0" r="1.38"/><circle cx="243.8" cy="229.8" r="1.38"/><circle cx="249.8" cy="243.3" r="1.38"/><circle cx="259.0" cy="240.0" r="1.38"/><circle cx="264.0" cy="230.1" r="1.38"/><circle cx="247.5" cy="235.1" r="1.38"/><circle cx="256.7" cy="238.1" r="1.38"/><circle cx="256.0" cy="226.5" r="1.38"/><circle cx="252.7" cy="230.3" r="1.38"/><circle cx="240.3" cy="230.5" r="1.38"/><circle cx="248.7" cy="230.5" r="1.38"/><circle cx="244.8" cy="240.7" r="1.38"/><circle cx="247.5" cy="236.3" r="1.38"/><circle cx="238.7" cy="230.6" r="1.38"/><circle cx="255.8" cy="231.8" r="1.38"/><circle cx="258.8" cy="227.2" r="1.38"/><circle cx="256.6" cy="228.5" r="1.38"/><circle cx="248.1" cy="232.0" r="1.38"/><circle cx="257.0" cy="224.3" r="1.38"/><circle cx="262.2" cy="235.9" r="1.38"/><circle cx="257.1" cy="232.3" r="1.38"/><circle cx="256.0" cy="230.0" r="1.38"/><circle cx="257.9" cy="232.4" r="1.38"/><circle cx="254.0" cy="238.1" r="1.38"/><circle cx="248.9" cy="230.8" r="1.38"/><circle cx="244.0" cy="232.4" r="1.38"/><circle cx="248.6" cy="236.9" r="1.38"/><circle cx="243.3" cy="240.4" r="1.38"/><circle cx="246.7" cy="233.4" r="1.38"/><circle cx="246.6" cy="222.0" r="1.38"/><circle cx="245.9" cy="228.5" r="1.38"/><circle cx="250.5" cy="234.0" r="1.38"/><circle cx="246.2" cy="230.0" r="1.38"/><circle cx="247.0" cy="237.1" r="1.38"/><circle cx="252.8" cy="237.2" r="1.38"/><circle cx="250.7" cy="239.1" r="1.38"/><circle cx="239.0" cy="235.8" r="1.38"/><circle cx="262.1" cy="230.0" r="1.38"/><circle cx="258.9" cy="227.1" r="1.38"/><circle cx="248.1" cy="227.9" r="1.38"/><circle cx="242.8" cy="232.6" r="1.38"/><circle cx="241.9" cy="237.1" r="1.38"/><circle cx="260.2" cy="237.0" r="1.38"/><circle cx="242.1" cy="233.1" r="1.38"/><circle cx="262.8" cy="236.2" r="1.38"/><circle cx="247.8" cy="226.7" r="1.38"/><circle cx="246.5" cy="230.2" r="1.38"/><circle cx="244.3" cy="229.3" r="1.38"/><circle cx="242.4" cy="225.5" r="1.38"/><circle cx="250.6" cy="230.4" r="1.38"/><circle cx="247.4" cy="240.3" r="1.38"/><circle cx="248.7" cy="234.3" r="1.38"/><circle cx="248.8" cy="225.6" r="1.38"/><circle cx="253.7" cy="235.6" r="1.38"/><circle cx="247.8" cy="225.5" r="1.38"/><circle cx="239.9" cy="240.6" r="1.38"/><circle cx="245.8" cy="232.8" r="1.38"/><circle cx="251.2" cy="221.4" r="1.38"/><circle cx="244.0" cy="238.1" r="1.38"/><circle cx="244.7" cy="230.6" r="1.38"/><circle cx="244.2" cy="235.0" r="1.38"/><circle cx="244.5" cy="238.1" r="1.38"/><circle cx="255.3" cy="233.9" r="1.38"/><circle cx="239.9" cy="231.8" r="1.38"/><circle cx="244.3" cy="237.2" r="1.38"/><circle cx="246.2" cy="230.5" r="1.38"/><circle cx="259.3" cy="237.5" r="1.38"/><circle cx="236.6" cy="238.8" r="1.38"/><circle cx="250.1" cy="236.4" r="1.38"/><circle cx="256.1" cy="234.5" r="1.38"/><circle cx="254.7" cy="236.4" r="1.38"/><circle cx="243.1" cy="243.0" r="1.38"/><circle cx="260.6" cy="239.4" r="1.38"/><circle cx="251.0" cy="232.6" r="1.38"/><circle cx="252.9" cy="235.6" r="1.38"/><circle cx="239.3" cy="231.0" r="1.38"/><circle cx="229.7" cy="233.7" r="1.38"/><circle cx="241.4" cy="241.8" r="1.38"/><circle cx="251.5" cy="241.5" r="1.38"/><circle cx="250.3" cy="236.6" r="1.38"/><circle cx="253.6" cy="235.8" r="1.38"/><circle cx="258.2" cy="239.3" r="1.38"/><circle cx="260.3" cy="237.5" r="1.38"/><circle cx="246.6" cy="227.3" r="1.38"/><circle cx="240.3" cy="230.5" r="1.38"/><circle cx="255.6" cy="241.1" r="1.38"/><circle cx="260.7" cy="238.6" r="1.38"/><circle cx="240.4" cy="241.4" r="1.38"/><circle cx="250.8" cy="241.6" r="1.38"/><circle cx="239.9" cy="239.5" r="1.38"/><circle cx="246.9" cy="240.8" r="1.38"/><circle cx="258.5" cy="241.9" r="1.38"/><circle cx="262.2" cy="236.5" r="1.38"/><circle cx="260.4" cy="232.0" r="1.38"/><circle cx="262.2" cy="232.4" r="1.38"/><circle cx="253.1" cy="236.6" r="1.38"/><circle cx="247.2" cy="240.4" r="1.38"/><circle cx="255.1" cy="227.3" r="1.38"/><circle cx="232.6" cy="230.7" r="1.38"/><circle cx="263.3" cy="234.5" r="1.38"/><circle cx="256.6" cy="239.4" r="1.38"/><circle cx="243.1" cy="234.1" r="1.38"/><circle cx="249.4" cy="227.6" r="1.38"/><circle cx="261.6" cy="236.1" r="1.38"/><circle cx="256.3" cy="241.9" r="1.38"/><circle cx="247.9" cy="229.4" r="1.38"/><circle cx="237.8" cy="230.6" r="1.38"/><circle cx="260.7" cy="235.8" r="1.38"/><circle cx="245.2" cy="227.5" r="1.38"/><circle cx="236.7" cy="241.2" r="1.38"/><circle cx="249.4" cy="235.2" r="1.38"/><circle cx="248.9" cy="230.4" r="1.38"/><circle cx="242.7" cy="236.4" r="1.38"/><circle cx="260.5" cy="227.7" r="1.38"/><circle cx="242.5" cy="234.1" r="1.38"/><circle cx="262.4" cy="239.0" r="1.38"/><circle cx="254.6" cy="239.1" r="1.38"/><circle cx="236.1" cy="228.5" r="1.38"/><circle cx="255.7" cy="170.9" r="1.38"/><circle cx="260.4" cy="191.4" r="1.38"/><circle cx="256.6" cy="194.3" r="1.38"/><circle cx="250.9" cy="197.4" r="1.38"/><circle cx="250.3" cy="198.9" r="1.38"/><circle cx="241.1" cy="199.9" r="1.38"/><circle cx="243.4" cy="201.2" r="1.38"/><circle cx="256.6" cy="201.2" r="1.38"/><circle cx="230.2" cy="206.1" r="1.38"/><circle cx="243.4" cy="205.4" r="1.38"/><circle cx="243.2" cy="207.5" r="1.38"/><circle cx="254.1" cy="206.5" r="1.38"/><circle cx="259.7" cy="207.1" r="1.38"/><circle cx="261.0" cy="207.7" r="1.38"/><circle cx="266.0" cy="206.1" r="1.38"/><circle cx="236.9" cy="210.6" r="1.38"/><circle cx="241.5" cy="210.8" r="1.38"/><circle cx="252.8" cy="209.2" r="1.38"/><circle cx="255.3" cy="210.8" r="1.38"/><circle cx="211.0" cy="216.7" r="1.38"/><circle cx="230.5" cy="215.6" r="1.38"/><circle cx="230.9" cy="220.9" r="1.38"/><circle cx="229.3" cy="224.0" r="1.38"/><circle cx="224.6" cy="230.0" r="1.38"/><circle cx="230.9" cy="232.2" r="1.38"/><circle cx="227.1" cy="239.1" r="1.38"/><circle cx="230.2" cy="240.3" r="1.38"/><circle cx="234.0" cy="237.8" r="1.38"/><circle cx="234.6" cy="243.5" r="1.38"/><circle cx="272.0" cy="216.1" r="1.38"/><circle cx="275.4" cy="219.8" r="1.38"/><circle cx="271.0" cy="220.2" r="1.38"/><circle cx="271.0" cy="221.9" r="1.38"/><circle cx="283.0" cy="217.3" r="1.38"/><circle cx="280.8" cy="222.7" r="1.38"/><circle cx="265.4" cy="222.7" r="1.38"/><circle cx="264.1" cy="224.0" r="1.38"/><circle cx="273.2" cy="229.4" r="1.38"/><circle cx="266.0" cy="233.4" r="1.38"/><circle cx="267.3" cy="232.8" r="1.38"/><circle cx="275.4" cy="237.2" r="1.38"/><circle cx="272.3" cy="238.4" r="1.38"/><circle cx="269.8" cy="240.3" r="1.38"/><circle cx="267.0" cy="242.4" r="1.38"/><circle cx="262.9" cy="240.9" r="1.38"/><circle cx="240.9" cy="213.3" r="1.38"/><circle cx="242.2" cy="215.2" r="1.38"/><circle cx="244.0" cy="213.9" r="1.38"/><circle cx="239.6" cy="218.3" r="1.38"/><circle cx="242.8" cy="220.9" r="1.38"/><circle cx="248.4" cy="212.7" r="1.38"/><circle cx="250.9" cy="213.3" r="1.38"/><circle cx="257.2" cy="212.7" r="1.38"/><circle cx="254.1" cy="215.8" r="1.38"/><circle cx="251.6" cy="218.3" r="1.38"/><circle cx="255.3" cy="219.0" r="1.38"/><circle cx="259.7" cy="217.1" r="1.38"/><circle cx="262.2" cy="216.8" r="1.38"/><circle cx="262.9" cy="220.2" r="1.38"/><circle cx="247.8" cy="222.1" r="1.38"/><circle cx="250.3" cy="223.4" r="1.38"/><circle cx="304.7" cy="218.5" r="1.38"/></g>
<line x1="211.0" y1="229.2" x2="304.7" y2="226.9" stroke="#000" stroke-width="0.80"/>
<path d="M195.60 159.25V244.90H324.15M195.60 244.90v3.40M221.22 244.90v3.40M246.84 244.90v3.40M272.46 244.90v3.40M298.08 244.90v3.40M323.70 244.90v3.40M195.60 244.90h-3.40M195.60 223.60h-3.40M195.60 202.30h-3.40M195.60 181.00h-3.40M195.60 159.70h-3.40" fill="none" stroke="#000" stroke-width="0.90"/>
<text x="195.6" y="256.0" font-size="6.6" text-anchor="middle">0.0</text>
<text x="221.2" y="256.0" font-size="6.6" text-anchor="middle">0.5</text>
<text x="246.8" y="256.0" font-size="6.6" text-anchor="middle">1.0</text>
<text x="272.5" y="256.0" font-size="6.6" text-anchor="middle">1.5</text>
<text x="298.1" y="256.0" font-size="6.6" text-anchor="middle">2.0</text>
<text x="323.7" y="256.0" font-size="6.6" text-anchor="middle">2.5</text>
<text x="191.3" y="247.3" font-size="6.6" text-anchor="end">0</text>
<text x="191.3" y="226.0" font-size="6.6" text-anchor="end">250</text>
<text x="191.3" y="204.7" font-size="6.6" text-anchor="end">500</text>
<text x="191.3" y="183.4" font-size="6.6" text-anchor="end">750</text>
<text x="191.3" y="162.1" font-size="6.6" text-anchor="end">1000</text>
<text x="259.9" y="264.4" font-size="6.20" text-anchor="middle">C3 (g/L)</text>
<text transform="translate(170.4 202.3) rotate(-90)" font-size="6.10" text-anchor="middle" y="1.8">Absolute number of CD19 (+) cells (/ul)</text>
<text x="291.0" y="166.2" font-size="6.15" text-anchor="middle">corr<tspan font-size="4.4" dy="1.0">coeff</tspan><tspan dy="-1.0">=0.05</tspan></text>
<text x="291.0" y="173.9" font-size="6.15" text-anchor="middle">p=0.47</text>
<text x="171.0" y="136.6" font-size="12.3" stroke="#000" stroke-width="0.35">F</text>
</g>
<g>
<g><circle cx="430.0" cy="236.2" r="1.38"/><circle cx="428.4" cy="231.6" r="1.38"/><circle cx="434.5" cy="236.1" r="1.38"/><circle cx="433.0" cy="221.6" r="1.38"/><circle cx="423.8" cy="230.0" r="1.38"/><circle cx="436.9" cy="232.6" r="1.38"/><circle cx="425.6" cy="235.1" r="1.38"/><circle cx="432.8" cy="223.7" r="1.38"/><circle cx="434.9" cy="229.1" r="1.38"/><circle cx="431.6" cy="235.8" r="1.38"/><circle cx="419.9" cy="241.3" r="1.38"/><circle cx="419.4" cy="238.7" r="1.38"/><circle cx="435.9" cy="231.0" r="1.38"/><circle cx="441.7" cy="227.7" r="1.38"/><circle cx="415.9" cy="232.5" r="1.38"/><circle cx="420.1" cy="231.7" r="1.38"/><circle cx="432.2" cy="243.7" r="1.38"/><circle cx="427.2" cy="233.1" r="1.38"/><circle cx="436.1" cy="238.3" r="1.38"/><circle cx="428.3" cy="239.1" r="1.38"/><circle cx="419.5" cy="228.4" r="1.38"/><circle cx="422.6" cy="229.9" r="1.38"/><circle cx="435.5" cy="232.4" r="1.38"/><circle cx="423.8" cy="237.9" r="1.38"/><circle cx="428.1" cy="229.5" r="1.38"/><circle cx="418.6" cy="235.4" r="1.38"/><circle cx="419.2" cy="228.2" r="1.38"/><circle cx="420.3" cy="230.7" r="1.38"/><circle cx="429.8" cy="230.1" r="1.38"/><circle cx="421.1" cy="231.5" r="1.38"/><circle cx="422.7" cy="229.6" r="1.38"/><circle cx="421.2" cy="236.5" r="1.38"/><circle cx="425.3" cy="239.2" r="1.38"/><circle cx="420.8" cy="230.0" r="1.38"/><circle cx="422.4" cy="235.5" r="1.38"/><circle cx="440.5" cy="237.8" r="1.38"/><circle cx="414.0" cy="233.6" r="1.38"/><circle cx="439.5" cy="237.3" r="1.38"/><circle cx="430.2" cy="233.3" r="1.38"/><circle cx="421.2" cy="236.2" r="1.38"/><circle cx="440.9" cy="226.3" r="1.38"/><circle cx="423.7" cy="235.0" r="1.38"/><circle cx="433.3" cy="230.6" r="1.38"/><circle cx="421.3" cy="237.8" r="1.38"/><circle cx="414.7" cy="236.1" r="1.38"/><circle cx="430.8" cy="225.4" r="1.38"/><circle cx="426.5" cy="233.0" r="1.38"/><circle cx="439.6" cy="236.3" r="1.38"/><circle cx="435.3" cy="237.1" r="1.38"/><circle cx="430.7" cy="232.4" r="1.38"/><circle cx="428.3" cy="237.2" r="1.38"/><circle cx="424.3" cy="222.2" r="1.38"/><circle cx="439.0" cy="237.0" r="1.38"/><circle cx="426.4" cy="228.5" r="1.38"/><circle cx="414.8" cy="227.8" r="1.38"/><circle cx="428.7" cy="240.3" r="1.38"/><circle cx="435.5" cy="221.4" r="1.38"/><circle cx="424.1" cy="231.9" r="1.38"/><circle cx="432.5" cy="228.4" r="1.38"/><circle cx="436.6" cy="227.5" r="1.38"/><circle cx="434.6" cy="239.4" r="1.38"/><circle cx="431.2" cy="238.1" r="1.38"/><circle cx="437.4" cy="222.1" r="1.38"/><circle cx="420.4" cy="231.4" r="1.38"/><circle cx="431.1" cy="233.4" r="1.38"/><circle cx="428.3" cy="227.8" r="1.38"/><circle cx="430.4" cy="233.0" r="1.38"/><circle cx="426.7" cy="236.7" r="1.38"/><circle cx="426.7" cy="231.5" r="1.38"/><circle cx="432.0" cy="227.7" r="1.38"/><circle cx="434.1" cy="221.8" r="1.38"/><circle cx="427.7" cy="225.3" r="1.38"/><circle cx="425.5" cy="233.9" r="1.38"/><circle cx="441.0" cy="231.4" r="1.38"/><circle cx="431.5" cy="231.1" r="1.38"/><circle cx="443.3" cy="233.4" r="1.38"/><circle cx="425.7" cy="227.8" r="1.38"/><circle cx="422.0" cy="224.0" r="1.38"/><circle cx="427.0" cy="238.3" r="1.38"/><circle cx="422.1" cy="229.6" r="1.38"/><circle cx="431.2" cy="241.5" r="1.38"/><circle cx="430.9" cy="233.4" r="1.38"/><circle cx="436.1" cy="233.3" r="1.38"/><circle cx="431.0" cy="229.5" r="1.38"/><circle cx="442.1" cy="233.9" r="1.38"/><circle cx="422.8" cy="236.3" r="1.38"/><circle cx="430.7" cy="220.8" r="1.38"/><circle cx="431.8" cy="227.2" r="1.38"/><circle cx="426.4" cy="237.6" r="1.38"/><circle cx="438.4" cy="237.1" r="1.38"/><circle cx="431.6" cy="241.8" r="1.38"/><circle cx="437.9" cy="227.6" r="1.38"/><circle cx="413.8" cy="233.0" r="1.38"/><circle cx="428.9" cy="225.7" r="1.38"/><circle cx="422.3" cy="236.2" r="1.38"/><circle cx="434.6" cy="231.2" r="1.38"/><circle cx="434.1" cy="232.1" r="1.38"/><circle cx="431.6" cy="230.2" r="1.38"/><circle cx="431.5" cy="237.6" r="1.38"/><circle cx="433.2" cy="232.0" r="1.38"/><circle cx="431.6" cy="234.5" r="1.38"/><circle cx="431.4" cy="230.2" r="1.38"/><circle cx="423.6" cy="227.0" r="1.38"/><circle cx="440.8" cy="238.8" r="1.38"/><circle cx="438.5" cy="239.7" r="1.38"/><circle cx="426.6" cy="233.0" r="1.38"/><circle cx="430.6" cy="227.0" r="1.38"/><circle cx="418.7" cy="235.0" r="1.38"/><circle cx="438.9" cy="233.5" r="1.38"/><circle cx="441.4" cy="233.8" r="1.38"/><circle cx="421.7" cy="236.3" r="1.38"/><circle cx="426.7" cy="226.5" r="1.38"/><circle cx="436.8" cy="236.9" r="1.38"/><circle cx="421.4" cy="228.6" r="1.38"/><circle cx="426.4" cy="224.3" r="1.38"/><circle cx="427.7" cy="225.6" r="1.38"/><circle cx="426.7" cy="233.5" r="1.38"/><circle cx="416.6" cy="228.1" r="1.38"/><circle cx="424.2" cy="236.4" r="1.38"/><circle cx="434.1" cy="242.0" r="1.38"/><circle cx="427.8" cy="230.9" r="1.38"/><circle cx="420.4" cy="223.3" r="1.38"/><circle cx="415.9" cy="226.4" r="1.38"/><circle cx="423.3" cy="226.9" r="1.38"/><circle cx="435.2" cy="231.6" r="1.38"/><circle cx="443.1" cy="235.2" r="1.38"/><circle cx="420.9" cy="233.9" r="1.38"/><circle cx="424.9" cy="230.6" r="1.38"/><circle cx="428.2" cy="236.6" r="1.38"/><circle cx="427.9" cy="229.2" r="1.38"/><circle cx="420.1" cy="238.1" r="1.38"/><circle cx="438.1" cy="236.7" r="1.38"/><circle cx="423.1" cy="233.6" r="1.38"/><circle cx="445.5" cy="237.9" r="1.38"/><circle cx="428.3" cy="236.5" r="1.38"/><circle cx="432.7" cy="238.8" r="1.38"/><circle cx="420.4" cy="237.2" r="1.38"/><circle cx="432.1" cy="232.8" r="1.38"/><circle cx="436.4" cy="235.6" r="1.38"/><circle cx="430.2" cy="231.2" r="1.38"/><circle cx="441.5" cy="242.8" r="1.38"/><circle cx="429.7" cy="239.5" r="1.38"/><circle cx="421.9" cy="234.4" r="1.38"/><circle cx="412.7" cy="231.6" r="1.38"/><circle cx="431.6" cy="229.5" r="1.38"/><circle cx="442.9" cy="241.0" r="1.38"/><circle cx="429.0" cy="240.7" r="1.38"/><circle cx="421.6" cy="231.6" r="1.38"/><circle cx="411.5" cy="237.7" r="1.38"/><circle cx="445.7" cy="237.0" r="1.38"/><circle cx="430.0" cy="238.2" r="1.38"/><circle cx="414.1" cy="237.4" r="1.38"/><circle cx="451.3" cy="235.1" r="1.38"/><circle cx="421.1" cy="239.1" r="1.38"/><circle cx="425.3" cy="237.0" r="1.38"/><circle cx="430.2" cy="234.4" r="1.38"/><circle cx="431.7" cy="234.9" r="1.38"/><circle cx="443.9" cy="230.2" r="1.38"/><circle cx="450.4" cy="235.4" r="1.38"/><circle cx="431.3" cy="243.1" r="1.38"/><circle cx="422.8" cy="228.7" r="1.38"/><circle cx="415.5" cy="238.3" r="1.38"/><circle cx="428.7" cy="242.9" r="1.38"/><circle cx="428.4" cy="233.8" r="1.38"/><circle cx="416.5" cy="240.4" r="1.38"/><circle cx="422.0" cy="170.4" r="1.38"/><circle cx="439.4" cy="171.6" r="1.38"/><circle cx="428.9" cy="186.0" r="1.38"/><circle cx="437.4" cy="186.6" r="1.38"/><circle cx="444.3" cy="186.1" r="1.38"/><circle cx="428.6" cy="190.1" r="1.38"/><circle cx="432.7" cy="194.9" r="1.38"/><circle cx="434.0" cy="196.7" r="1.38"/><circle cx="435.2" cy="198.3" r="1.38"/><circle cx="441.5" cy="195.8" r="1.38"/><circle cx="445.6" cy="197.3" r="1.38"/><circle cx="428.9" cy="198.7" r="1.38"/><circle cx="435.8" cy="201.4" r="1.38"/><circle cx="446.5" cy="202.7" r="1.38"/><circle cx="417.6" cy="202.7" r="1.38"/><circle cx="425.4" cy="203.9" r="1.38"/><circle cx="461.6" cy="203.9" r="1.38"/><circle cx="428.3" cy="207.3" r="1.38"/><circle cx="431.1" cy="207.3" r="1.38"/><circle cx="437.1" cy="208.3" r="1.38"/><circle cx="432.1" cy="210.6" r="1.38"/><circle cx="435.2" cy="210.8" r="1.38"/><circle cx="438.4" cy="211.2" r="1.38"/><circle cx="391.5" cy="238.2" r="1.38"/><circle cx="405.7" cy="226.6" r="1.38"/><circle cx="408.2" cy="229.1" r="1.38"/><circle cx="411.0" cy="226.9" r="1.38"/><circle cx="411.4" cy="230.4" r="1.38"/><circle cx="408.2" cy="235.4" r="1.38"/><circle cx="410.7" cy="237.3" r="1.38"/><circle cx="411.4" cy="239.8" r="1.38"/><circle cx="411.4" cy="242.3" r="1.38"/><circle cx="414.5" cy="239.8" r="1.38"/><circle cx="416.4" cy="243.6" r="1.38"/><circle cx="418.9" cy="244.2" r="1.38"/><circle cx="451.3" cy="213.4" r="1.38"/><circle cx="452.8" cy="219.1" r="1.38"/><circle cx="452.8" cy="225.4" r="1.38"/><circle cx="451.5" cy="231.0" r="1.38"/><circle cx="456.6" cy="232.6" r="1.38"/><circle cx="463.5" cy="234.4" r="1.38"/><circle cx="454.7" cy="236.0" r="1.38"/><circle cx="453.4" cy="237.3" r="1.38"/><circle cx="450.3" cy="236.7" r="1.38"/><circle cx="446.5" cy="239.8" r="1.38"/><circle cx="447.8" cy="242.3" r="1.38"/><circle cx="445.0" cy="243.6" r="1.38"/><circle cx="445.0" cy="245.5" r="1.38"/><circle cx="443.1" cy="236.7" r="1.38"/><circle cx="422.7" cy="214.1" r="1.38"/><circle cx="423.9" cy="215.3" r="1.38"/><circle cx="426.4" cy="216.6" r="1.38"/><circle cx="428.9" cy="212.2" r="1.38"/><circle cx="432.1" cy="214.1" r="1.38"/><circle cx="440.9" cy="214.7" r="1.38"/><circle cx="443.4" cy="215.3" r="1.38"/><circle cx="435.2" cy="215.3" r="1.38"/><circle cx="417.4" cy="219.7" r="1.38"/><circle cx="419.5" cy="219.7" r="1.38"/><circle cx="422.7" cy="221.6" r="1.38"/><circle cx="428.3" cy="220.3" r="1.38"/><circle cx="433.3" cy="219.1" r="1.38"/><circle cx="433.3" cy="221.6" r="1.38"/><circle cx="439.0" cy="219.7" r="1.38"/><circle cx="440.2" cy="222.2" r="1.38"/><circle cx="444.0" cy="220.3" r="1.38"/><circle cx="445.9" cy="221.6" r="1.38"/><circle cx="485.4" cy="240.0" r="1.38"/></g>
<line x1="391.5" y1="233.7" x2="485.7" y2="219.7" stroke="#000" stroke-width="0.80"/>
<path d="M376.10 161.55V247.00H505.15M376.10 247.00v3.40M401.82 247.00v3.40M427.54 247.00v3.40M453.26 247.00v3.40M478.98 247.00v3.40M504.70 247.00v3.40M376.10 247.00h-3.40M376.10 225.75h-3.40M376.10 204.50h-3.40M376.10 183.25h-3.40M376.10 162.00h-3.40" fill="none" stroke="#000" stroke-width="0.90"/>
<text x="376.1" y="257.5" font-size="6.0" text-anchor="middle">0.0</text>
<text x="401.8" y="257.5" font-size="6.0" text-anchor="middle">0.5</text>
<text x="427.5" y="257.5" font-size="6.0" text-anchor="middle">1.0</text>
<text x="453.3" y="257.5" font-size="6.0" text-anchor="middle">1.5</text>
<text x="479.0" y="257.5" font-size="6.0" text-anchor="middle">2.0</text>
<text x="504.7" y="257.5" font-size="6.0" text-anchor="middle">2.5</text>
<text x="371.8" y="249.2" font-size="6.0" text-anchor="end">0</text>
<text x="371.8" y="227.9" font-size="6.0" text-anchor="end">250</text>
<text x="371.8" y="206.7" font-size="6.0" text-anchor="end">500</text>
<text x="371.8" y="185.4" font-size="6.0" text-anchor="end">750</text>
<text x="371.8" y="164.2" font-size="6.0" text-anchor="end">1000</text>
<text x="440.8" y="266.7" font-size="6.20" text-anchor="middle">C3 (g/L)</text>
<text transform="translate(353.2 204.5) rotate(-90)" font-size="6.10" text-anchor="middle" y="1.8">Absolute number of CD16/CD56 (+) cells (/ul)</text>
<text x="471.7" y="168.5" font-size="6.15" text-anchor="middle">corr<tspan font-size="4.4" dy="1.0">coeff</tspan><tspan dy="-1.0">=0.20</tspan></text>
<text x="471.7" y="175.9" font-size="6.15" text-anchor="middle">p=0.002**</text>
<text x="347.0" y="136.9" font-size="12.3" stroke="#000" stroke-width="0.35">G</text>
</g>
<g>
<g><circle cx="581.6" cy="231.8" r="1.38"/><circle cx="609.0" cy="245.4" r="1.38"/><circle cx="600.0" cy="238.6" r="1.38"/><circle cx="588.8" cy="221.5" r="1.38"/><circle cx="601.9" cy="242.0" r="1.38"/><circle cx="599.6" cy="235.2" r="1.38"/><circle cx="584.1" cy="240.3" r="1.38"/><circle cx="598.5" cy="228.4" r="1.38"/><circle cx="605.2" cy="223.2" r="1.38"/><circle cx="607.1" cy="242.0" r="1.38"/><circle cx="595.9" cy="243.7" r="1.38"/><circle cx="588.1" cy="240.3" r="1.38"/><circle cx="603.1" cy="235.2" r="1.38"/><circle cx="607.4" cy="230.1" r="1.38"/><circle cx="596.1" cy="238.6" r="1.38"/><circle cx="605.5" cy="238.6" r="1.38"/><circle cx="604.6" cy="243.7" r="1.38"/><circle cx="584.3" cy="228.4" r="1.38"/><circle cx="597.0" cy="243.7" r="1.38"/><circle cx="590.5" cy="226.7" r="1.38"/><circle cx="586.2" cy="245.4" r="1.38"/><circle cx="603.1" cy="230.1" r="1.38"/><circle cx="593.4" cy="233.5" r="1.38"/><circle cx="607.3" cy="225.0" r="1.38"/><circle cx="590.2" cy="230.1" r="1.38"/><circle cx="610.4" cy="240.3" r="1.38"/><circle cx="596.8" cy="231.8" r="1.38"/><circle cx="578.8" cy="231.8" r="1.38"/><circle cx="582.7" cy="235.2" r="1.38"/><circle cx="600.4" cy="238.6" r="1.38"/><circle cx="606.1" cy="228.4" r="1.38"/><circle cx="592.4" cy="225.0" r="1.38"/><circle cx="601.1" cy="223.2" r="1.38"/><circle cx="583.9" cy="235.2" r="1.38"/><circle cx="589.3" cy="228.4" r="1.38"/><circle cx="599.7" cy="231.8" r="1.38"/><circle cx="584.8" cy="242.0" r="1.38"/><circle cx="600.3" cy="226.7" r="1.38"/><circle cx="588.5" cy="231.8" r="1.38"/><circle cx="591.1" cy="225.0" r="1.38"/><circle cx="595.3" cy="230.1" r="1.38"/><circle cx="595.9" cy="238.6" r="1.38"/><circle cx="597.1" cy="226.7" r="1.38"/><circle cx="582.8" cy="235.2" r="1.38"/><circle cx="605.2" cy="235.2" r="1.38"/><circle cx="593.6" cy="235.2" r="1.38"/><circle cx="603.1" cy="238.6" r="1.38"/><circle cx="597.4" cy="240.3" r="1.38"/><circle cx="605.5" cy="230.1" r="1.38"/><circle cx="605.1" cy="228.4" r="1.38"/><circle cx="601.5" cy="238.6" r="1.38"/><circle cx="606.5" cy="240.3" r="1.38"/><circle cx="590.9" cy="230.1" r="1.38"/><circle cx="584.3" cy="230.1" r="1.38"/><circle cx="581.5" cy="238.6" r="1.38"/><circle cx="601.6" cy="238.6" r="1.38"/><circle cx="589.5" cy="231.8" r="1.38"/><circle cx="581.8" cy="230.1" r="1.38"/><circle cx="590.4" cy="238.6" r="1.38"/><circle cx="599.3" cy="242.0" r="1.38"/><circle cx="593.8" cy="233.5" r="1.38"/><circle cx="593.0" cy="221.5" r="1.38"/><circle cx="598.7" cy="236.9" r="1.38"/><circle cx="605.4" cy="240.3" r="1.38"/><circle cx="579.3" cy="230.1" r="1.38"/><circle cx="592.8" cy="230.1" r="1.38"/><circle cx="595.8" cy="238.6" r="1.38"/><circle cx="590.3" cy="238.6" r="1.38"/><circle cx="592.9" cy="235.2" r="1.38"/><circle cx="607.6" cy="230.1" r="1.38"/><circle cx="584.7" cy="228.4" r="1.38"/><circle cx="578.8" cy="228.4" r="1.38"/><circle cx="602.0" cy="233.5" r="1.38"/><circle cx="611.2" cy="226.7" r="1.38"/><circle cx="599.6" cy="233.5" r="1.38"/><circle cx="611.0" cy="231.8" r="1.38"/><circle cx="607.9" cy="236.9" r="1.38"/><circle cx="590.8" cy="242.0" r="1.38"/><circle cx="590.5" cy="238.6" r="1.38"/><circle cx="599.6" cy="245.4" r="1.38"/><circle cx="594.6" cy="245.4" r="1.38"/><circle cx="590.6" cy="228.4" r="1.38"/><circle cx="603.4" cy="228.4" r="1.38"/><circle cx="609.6" cy="235.2" r="1.38"/><circle cx="580.8" cy="233.5" r="1.38"/><circle cx="603.1" cy="242.0" r="1.38"/><circle cx="593.2" cy="230.1" r="1.38"/><circle cx="579.9" cy="240.3" r="1.38"/><circle cx="597.7" cy="226.7" r="1.38"/><circle cx="597.0" cy="242.0" r="1.38"/><circle cx="590.1" cy="225.0" r="1.38"/><circle cx="614.1" cy="231.8" r="1.38"/><circle cx="600.5" cy="228.4" r="1.38"/><circle cx="589.8" cy="238.6" r="1.38"/><circle cx="611.7" cy="240.3" r="1.38"/><circle cx="600.6" cy="228.4" r="1.38"/><circle cx="604.7" cy="231.8" r="1.38"/><circle cx="585.7" cy="236.9" r="1.38"/><circle cx="598.7" cy="221.5" r="1.38"/><circle cx="590.4" cy="223.2" r="1.38"/><circle cx="604.3" cy="233.5" r="1.38"/><circle cx="585.6" cy="233.5" r="1.38"/><circle cx="589.9" cy="228.4" r="1.38"/><circle cx="592.3" cy="230.1" r="1.38"/><circle cx="591.7" cy="231.8" r="1.38"/><circle cx="605.9" cy="231.8" r="1.38"/><circle cx="577.1" cy="226.7" r="1.38"/><circle cx="617.4" cy="236.9" r="1.38"/><circle cx="580.5" cy="235.2" r="1.38"/><circle cx="605.2" cy="236.9" r="1.38"/><circle cx="577.4" cy="236.9" r="1.38"/><circle cx="598.8" cy="242.0" r="1.38"/><circle cx="599.3" cy="231.8" r="1.38"/><circle cx="607.3" cy="242.0" r="1.38"/><circle cx="595.4" cy="223.2" r="1.38"/><circle cx="600.1" cy="221.5" r="1.38"/><circle cx="583.6" cy="236.9" r="1.38"/><circle cx="597.0" cy="230.1" r="1.38"/><circle cx="609.6" cy="228.4" r="1.38"/><circle cx="585.9" cy="238.6" r="1.38"/><circle cx="596.3" cy="235.2" r="1.38"/><circle cx="597.9" cy="233.5" r="1.38"/><circle cx="588.6" cy="236.9" r="1.38"/><circle cx="607.8" cy="233.5" r="1.38"/><circle cx="597.1" cy="242.0" r="1.38"/><circle cx="604.9" cy="231.8" r="1.38"/><circle cx="589.6" cy="221.5" r="1.38"/><circle cx="591.1" cy="240.3" r="1.38"/><circle cx="586.4" cy="235.2" r="1.38"/><circle cx="600.1" cy="230.1" r="1.38"/><circle cx="580.8" cy="233.5" r="1.38"/><circle cx="591.1" cy="230.1" r="1.38"/><circle cx="581.2" cy="230.1" r="1.38"/><circle cx="601.5" cy="231.8" r="1.38"/><circle cx="592.3" cy="236.9" r="1.38"/><circle cx="603.4" cy="230.1" r="1.38"/><circle cx="591.0" cy="225.0" r="1.38"/><circle cx="587.5" cy="230.1" r="1.38"/><circle cx="604.1" cy="230.1" r="1.38"/><circle cx="611.7" cy="242.0" r="1.38"/><circle cx="596.5" cy="233.5" r="1.38"/><circle cx="595.8" cy="236.9" r="1.38"/><circle cx="597.8" cy="225.0" r="1.38"/><circle cx="579.3" cy="236.9" r="1.38"/><circle cx="601.6" cy="236.9" r="1.38"/><circle cx="603.3" cy="242.0" r="1.38"/><circle cx="595.4" cy="236.9" r="1.38"/><circle cx="604.8" cy="238.6" r="1.38"/><circle cx="589.3" cy="226.7" r="1.38"/><circle cx="601.7" cy="242.0" r="1.38"/><circle cx="597.9" cy="243.7" r="1.38"/><circle cx="582.7" cy="243.7" r="1.38"/><circle cx="604.3" cy="245.4" r="1.38"/><circle cx="608.2" cy="242.0" r="1.38"/><circle cx="597.3" cy="245.4" r="1.38"/><circle cx="579.0" cy="243.7" r="1.38"/><circle cx="596.7" cy="243.7" r="1.38"/><circle cx="603.4" cy="243.7" r="1.38"/><circle cx="600.6" cy="243.7" r="1.38"/><circle cx="603.1" cy="245.4" r="1.38"/><circle cx="597.8" cy="242.0" r="1.38"/><circle cx="587.1" cy="243.7" r="1.38"/><circle cx="588.5" cy="243.7" r="1.38"/><circle cx="585.0" cy="242.0" r="1.38"/><circle cx="597.6" cy="243.7" r="1.38"/><circle cx="590.9" cy="245.4" r="1.38"/><circle cx="600.8" cy="243.7" r="1.38"/><circle cx="597.6" cy="243.7" r="1.38"/><circle cx="611.6" cy="243.7" r="1.38"/><circle cx="600.0" cy="243.7" r="1.38"/><circle cx="601.5" cy="245.4" r="1.38"/><circle cx="591.8" cy="242.0" r="1.38"/><circle cx="602.9" cy="243.7" r="1.38"/><circle cx="605.2" cy="242.0" r="1.38"/><circle cx="578.8" cy="243.7" r="1.38"/><circle cx="581.2" cy="243.7" r="1.38"/><circle cx="591.7" cy="242.0" r="1.38"/><circle cx="588.0" cy="245.4" r="1.38"/><circle cx="583.4" cy="233.5" r="1.38"/><circle cx="579.4" cy="225.0" r="1.38"/><circle cx="593.1" cy="225.0" r="1.38"/><circle cx="597.9" cy="231.8" r="1.38"/><circle cx="581.1" cy="214.7" r="1.38"/><circle cx="583.7" cy="225.0" r="1.38"/><circle cx="585.7" cy="226.7" r="1.38"/><circle cx="579.5" cy="225.0" r="1.38"/><circle cx="575.9" cy="221.5" r="1.38"/><circle cx="590.6" cy="233.5" r="1.38"/><circle cx="599.7" cy="225.0" r="1.38"/><circle cx="590.4" cy="228.4" r="1.38"/><circle cx="597.7" cy="219.8" r="1.38"/><circle cx="592.0" cy="225.0" r="1.38"/><circle cx="593.6" cy="231.8" r="1.38"/><circle cx="582.8" cy="236.9" r="1.38"/><circle cx="594.1" cy="230.1" r="1.38"/><circle cx="603.2" cy="226.7" r="1.38"/><circle cx="593.5" cy="233.5" r="1.38"/><circle cx="583.9" cy="228.4" r="1.38"/><circle cx="591.5" cy="219.8" r="1.38"/><circle cx="598.2" cy="228.4" r="1.38"/><circle cx="606.3" cy="228.4" r="1.38"/><circle cx="580.1" cy="230.1" r="1.38"/><circle cx="576.5" cy="228.4" r="1.38"/><circle cx="571.5" cy="219.8" r="1.38"/><circle cx="602.0" cy="235.2" r="1.38"/><circle cx="593.6" cy="223.2" r="1.38"/><circle cx="593.4" cy="236.9" r="1.38"/><circle cx="597.6" cy="238.6" r="1.38"/><circle cx="588.7" cy="230.1" r="1.38"/><circle cx="602.4" cy="226.7" r="1.38"/><circle cx="578.9" cy="218.1" r="1.38"/><circle cx="594.3" cy="223.2" r="1.38"/><circle cx="588.6" cy="238.6" r="1.38"/><circle cx="587.7" cy="223.2" r="1.38"/><circle cx="586.4" cy="226.7" r="1.38"/><circle cx="591.9" cy="226.7" r="1.38"/><circle cx="591.8" cy="219.8" r="1.38"/><circle cx="576.8" cy="219.8" r="1.38"/><circle cx="584.7" cy="225.0" r="1.38"/><circle cx="602.9" cy="221.5" r="1.38"/><circle cx="579.0" cy="225.0" r="1.38"/><circle cx="595.8" cy="221.5" r="1.38"/><circle cx="595.3" cy="236.9" r="1.38"/><circle cx="583.7" cy="231.8" r="1.38"/><circle cx="587.5" cy="238.6" r="1.38"/><circle cx="593.2" cy="226.7" r="1.38"/><circle cx="581.7" cy="228.4" r="1.38"/><circle cx="598.4" cy="233.5" r="1.38"/><circle cx="589.1" cy="225.0" r="1.38"/><circle cx="588.9" cy="233.5" r="1.38"/><circle cx="571.5" cy="221.5" r="1.38"/><circle cx="596.2" cy="218.1" r="1.38"/><circle cx="577.6" cy="223.2" r="1.38"/><circle cx="583.4" cy="228.4" r="1.38"/><circle cx="592.2" cy="223.2" r="1.38"/><circle cx="593.7" cy="233.5" r="1.38"/><circle cx="582.2" cy="226.7" r="1.38"/><circle cx="584.9" cy="233.5" r="1.38"/><circle cx="614.0" cy="170.4" r="1.38"/><circle cx="577.6" cy="190.9" r="1.38"/><circle cx="583.9" cy="190.9" r="1.38"/><circle cx="593.9" cy="194.3" r="1.38"/><circle cx="592.7" cy="196.0" r="1.38"/><circle cx="588.3" cy="197.7" r="1.38"/><circle cx="594.9" cy="197.7" r="1.38"/><circle cx="579.7" cy="199.4" r="1.38"/><circle cx="603.6" cy="199.4" r="1.38"/><circle cx="592.7" cy="201.1" r="1.38"/><circle cx="582.9" cy="202.8" r="1.38"/><circle cx="590.5" cy="204.5" r="1.38"/><circle cx="594.9" cy="204.5" r="1.38"/><circle cx="586.1" cy="206.2" r="1.38"/><circle cx="624.7" cy="206.2" r="1.38"/><circle cx="570.1" cy="207.9" r="1.38"/><circle cx="571.9" cy="207.9" r="1.38"/><circle cx="578.2" cy="207.9" r="1.38"/><circle cx="592.4" cy="207.9" r="1.38"/><circle cx="603.6" cy="207.9" r="1.38"/><circle cx="633.5" cy="207.9" r="1.38"/><circle cx="575.7" cy="209.6" r="1.38"/><circle cx="580.7" cy="209.6" r="1.38"/><circle cx="582.0" cy="209.6" r="1.38"/><circle cx="597.1" cy="209.6" r="1.38"/><circle cx="611.9" cy="209.6" r="1.38"/><circle cx="626.8" cy="209.6" r="1.38"/><circle cx="563.5" cy="211.3" r="1.38"/><circle cx="600.8" cy="211.3" r="1.38"/><circle cx="602.7" cy="211.3" r="1.38"/><circle cx="608.7" cy="211.3" r="1.38"/><circle cx="566.9" cy="218.1" r="1.38"/><circle cx="570.1" cy="216.4" r="1.38"/><circle cx="571.9" cy="216.4" r="1.38"/><circle cx="573.8" cy="213.0" r="1.38"/><circle cx="574.5" cy="214.7" r="1.38"/><circle cx="567.6" cy="225.0" r="1.38"/><circle cx="570.1" cy="223.2" r="1.38"/><circle cx="573.8" cy="223.2" r="1.38"/><circle cx="576.3" cy="223.2" r="1.38"/><circle cx="566.9" cy="242.0" r="1.38"/><circle cx="571.3" cy="242.0" r="1.38"/><circle cx="571.9" cy="235.2" r="1.38"/><circle cx="575.1" cy="235.2" r="1.38"/><circle cx="573.2" cy="231.8" r="1.38"/><circle cx="632.6" cy="214.7" r="1.38"/><circle cx="626.8" cy="218.1" r="1.38"/><circle cx="624.7" cy="228.4" r="1.38"/><circle cx="629.1" cy="228.4" r="1.38"/><circle cx="629.1" cy="233.5" r="1.38"/><circle cx="635.4" cy="236.9" r="1.38"/><circle cx="626.8" cy="236.9" r="1.38"/><circle cx="621.5" cy="235.2" r="1.38"/><circle cx="620.3" cy="238.6" r="1.38"/><circle cx="623.8" cy="240.3" r="1.38"/><circle cx="617.8" cy="242.0" r="1.38"/><circle cx="625.3" cy="243.7" r="1.38"/><circle cx="635.4" cy="243.7" r="1.38"/><circle cx="621.5" cy="242.0" r="1.38"/><circle cx="613.8" cy="221.5" r="1.38"/><circle cx="615.9" cy="223.2" r="1.38"/><circle cx="609.6" cy="225.0" r="1.38"/><circle cx="614.0" cy="228.4" r="1.38"/><circle cx="609.6" cy="214.7" r="1.38"/><circle cx="611.5" cy="213.0" r="1.38"/><circle cx="607.7" cy="211.3" r="1.38"/><circle cx="607.1" cy="218.1" r="1.38"/><circle cx="609.0" cy="219.8" r="1.38"/><circle cx="586.4" cy="213.0" r="1.38"/><circle cx="592.7" cy="213.0" r="1.38"/><circle cx="579.5" cy="214.7" r="1.38"/><circle cx="654.8" cy="230.1" r="1.38"/><circle cx="648.4" cy="221.5" r="1.38"/></g>
<line x1="564.0" y1="227.2" x2="654.8" y2="234.0" stroke="#000" stroke-width="0.80"/>
<path d="M552.00 159.75V245.40H680.95M552.00 245.40v3.40M594.83 245.40v3.40M637.67 245.40v3.40M680.50 245.40v3.40M552.00 245.40h-3.40M552.00 228.36h-3.40M552.00 211.32h-3.40M552.00 194.28h-3.40M552.00 177.24h-3.40M552.00 160.20h-3.40M556.28 245.40v2.00M560.57 245.40v2.00M564.85 245.40v2.00M569.13 245.40v2.00M573.42 245.40v2.00M577.70 245.40v2.00M581.98 245.40v2.00M586.27 245.40v2.00M590.55 245.40v2.00M599.12 245.40v2.00M603.40 245.40v2.00M607.68 245.40v2.00M611.97 245.40v2.00M616.25 245.40v2.00M620.53 245.40v2.00M624.82 245.40v2.00M629.10 245.40v2.00M633.38 245.40v2.00M641.95 245.40v2.00M646.23 245.40v2.00M650.52 245.40v2.00M654.80 245.40v2.00M659.08 245.40v2.00M663.37 245.40v2.00M667.65 245.40v2.00M671.93 245.40v2.00M676.22 245.40v2.00" fill="none" stroke="#000" stroke-width="0.90"/>
<text x="552.0" y="256.5" font-size="6.0" text-anchor="middle">0.0</text>
<text x="594.8" y="256.5" font-size="6.0" text-anchor="middle">0.2</text>
<text x="637.7" y="256.5" font-size="6.0" text-anchor="middle">0.4</text>
<text x="680.5" y="256.5" font-size="6.0" text-anchor="middle">0.6</text>
<text x="547.7" y="247.6" font-size="6.0" text-anchor="end">0</text>
<text x="547.7" y="230.5" font-size="6.0" text-anchor="end">10</text>
<text x="547.7" y="213.5" font-size="6.0" text-anchor="end">20</text>
<text x="547.7" y="196.4" font-size="6.0" text-anchor="end">30</text>
<text x="547.7" y="179.4" font-size="6.0" text-anchor="end">40</text>
<text x="547.7" y="162.4" font-size="6.0" text-anchor="end">50</text>
<text x="615.9" y="265.2" font-size="6.20" text-anchor="middle">C4 (g/L)</text>
<text transform="translate(535.1 203.0) rotate(-90)" font-size="6.10" text-anchor="middle" y="1.8">ESSDAI</text>
<text x="647.5" y="167.0" font-size="6.15" text-anchor="middle">corr<tspan font-size="4.4" dy="1.0">coeff</tspan><tspan dy="-1.0">=-0.13</tspan></text>
<text x="647.5" y="174.7" font-size="6.15" text-anchor="middle">p=0.02*</text>
<text x="526.0" y="136.7" font-size="12.3" stroke="#000" stroke-width="0.35">H</text>
</g>
<g>
<g><circle cx="60.0" cy="367.4" r="1.38"/><circle cx="70.1" cy="366.3" r="1.38"/><circle cx="83.4" cy="360.8" r="1.38"/><circle cx="87.9" cy="367.0" r="1.38"/><circle cx="77.9" cy="368.3" r="1.38"/><circle cx="60.3" cy="366.0" r="1.38"/><circle cx="81.2" cy="358.4" r="1.38"/><circle cx="82.2" cy="368.8" r="1.38"/><circle cx="94.8" cy="367.0" r="1.38"/><circle cx="77.6" cy="372.1" r="1.38"/><circle cx="60.0" cy="358.7" r="1.38"/><circle cx="63.2" cy="359.2" r="1.38"/><circle cx="80.5" cy="368.7" r="1.38"/><circle cx="79.0" cy="366.5" r="1.38"/><circle cx="80.6" cy="364.8" r="1.38"/><circle cx="70.6" cy="360.7" r="1.38"/><circle cx="61.8" cy="367.0" r="1.38"/><circle cx="63.9" cy="366.3" r="1.38"/><circle cx="73.1" cy="363.9" r="1.38"/><circle cx="71.1" cy="370.2" r="1.38"/><circle cx="66.7" cy="362.2" r="1.38"/><circle cx="76.0" cy="368.2" r="1.38"/><circle cx="90.2" cy="365.4" r="1.38"/><circle cx="69.7" cy="370.0" r="1.38"/><circle cx="68.4" cy="367.9" r="1.38"/><circle cx="58.7" cy="359.3" r="1.38"/><circle cx="69.1" cy="372.8" r="1.38"/><circle cx="77.7" cy="366.3" r="1.38"/><circle cx="69.0" cy="357.8" r="1.38"/><circle cx="65.2" cy="358.1" r="1.38"/><circle cx="66.7" cy="364.9" r="1.38"/><circle cx="77.2" cy="365.1" r="1.38"/><circle cx="76.4" cy="363.9" r="1.38"/><circle cx="85.2" cy="370.3" r="1.38"/><circle cx="78.3" cy="372.5" r="1.38"/><circle cx="68.6" cy="367.3" r="1.38"/><circle cx="84.4" cy="369.7" r="1.38"/><circle cx="82.9" cy="358.2" r="1.38"/><circle cx="83.3" cy="369.9" r="1.38"/><circle cx="74.3" cy="362.9" r="1.38"/><circle cx="83.3" cy="373.8" r="1.38"/><circle cx="79.1" cy="358.2" r="1.38"/><circle cx="73.7" cy="364.2" r="1.38"/><circle cx="82.9" cy="370.0" r="1.38"/><circle cx="77.4" cy="356.3" r="1.38"/><circle cx="89.8" cy="365.8" r="1.38"/><circle cx="77.4" cy="367.2" r="1.38"/><circle cx="76.1" cy="368.1" r="1.38"/><circle cx="72.5" cy="365.0" r="1.38"/><circle cx="60.3" cy="359.3" r="1.38"/><circle cx="66.6" cy="361.1" r="1.38"/><circle cx="79.7" cy="373.4" r="1.38"/><circle cx="66.9" cy="355.9" r="1.38"/><circle cx="78.7" cy="363.0" r="1.38"/><circle cx="63.1" cy="363.0" r="1.38"/><circle cx="66.6" cy="364.6" r="1.38"/><circle cx="64.4" cy="360.0" r="1.38"/><circle cx="89.3" cy="361.6" r="1.38"/><circle cx="91.1" cy="366.5" r="1.38"/><circle cx="91.7" cy="366.8" r="1.38"/><circle cx="57.6" cy="360.9" r="1.38"/><circle cx="78.2" cy="363.5" r="1.38"/><circle cx="75.5" cy="363.5" r="1.38"/><circle cx="84.0" cy="371.5" r="1.38"/><circle cx="62.7" cy="370.4" r="1.38"/><circle cx="73.9" cy="367.7" r="1.38"/><circle cx="67.6" cy="370.0" r="1.38"/><circle cx="82.0" cy="358.6" r="1.38"/><circle cx="84.8" cy="362.6" r="1.38"/><circle cx="66.8" cy="364.2" r="1.38"/><circle cx="86.2" cy="366.6" r="1.38"/><circle cx="65.3" cy="364.1" r="1.38"/><circle cx="90.7" cy="369.7" r="1.38"/><circle cx="68.7" cy="355.4" r="1.38"/><circle cx="68.4" cy="364.2" r="1.38"/><circle cx="74.1" cy="365.7" r="1.38"/><circle cx="68.4" cy="358.4" r="1.38"/><circle cx="74.2" cy="370.8" r="1.38"/><circle cx="90.9" cy="364.8" r="1.38"/><circle cx="63.6" cy="361.8" r="1.38"/><circle cx="66.9" cy="363.5" r="1.38"/><circle cx="91.3" cy="370.6" r="1.38"/><circle cx="75.2" cy="365.4" r="1.38"/><circle cx="63.6" cy="359.5" r="1.38"/><circle cx="91.8" cy="369.5" r="1.38"/><circle cx="64.1" cy="358.4" r="1.38"/><circle cx="84.3" cy="370.3" r="1.38"/><circle cx="76.7" cy="366.7" r="1.38"/><circle cx="64.3" cy="362.1" r="1.38"/><circle cx="79.3" cy="359.5" r="1.38"/><circle cx="89.4" cy="371.5" r="1.38"/><circle cx="89.1" cy="364.7" r="1.38"/><circle cx="68.5" cy="363.9" r="1.38"/><circle cx="88.4" cy="363.7" r="1.38"/><circle cx="71.7" cy="370.1" r="1.38"/><circle cx="78.8" cy="361.9" r="1.38"/><circle cx="64.8" cy="361.6" r="1.38"/><circle cx="73.5" cy="364.7" r="1.38"/><circle cx="78.1" cy="360.1" r="1.38"/><circle cx="64.9" cy="364.9" r="1.38"/><circle cx="73.9" cy="363.7" r="1.38"/><circle cx="67.1" cy="356.1" r="1.38"/><circle cx="82.7" cy="359.9" r="1.38"/><circle cx="66.8" cy="359.0" r="1.38"/><circle cx="87.7" cy="364.6" r="1.38"/><circle cx="69.3" cy="357.7" r="1.38"/><circle cx="56.8" cy="363.6" r="1.38"/><circle cx="70.8" cy="366.1" r="1.38"/><circle cx="73.3" cy="367.2" r="1.38"/><circle cx="64.9" cy="363.2" r="1.38"/><circle cx="73.2" cy="360.2" r="1.38"/><circle cx="75.1" cy="363.5" r="1.38"/><circle cx="83.0" cy="362.9" r="1.38"/><circle cx="89.4" cy="366.1" r="1.38"/><circle cx="89.5" cy="371.6" r="1.38"/><circle cx="58.1" cy="366.4" r="1.38"/><circle cx="83.2" cy="361.6" r="1.38"/><circle cx="72.9" cy="363.2" r="1.38"/><circle cx="85.3" cy="363.9" r="1.38"/><circle cx="90.6" cy="366.3" r="1.38"/><circle cx="77.0" cy="358.5" r="1.38"/><circle cx="71.8" cy="367.7" r="1.38"/><circle cx="68.0" cy="367.5" r="1.38"/><circle cx="84.7" cy="366.6" r="1.38"/><circle cx="72.8" cy="356.4" r="1.38"/><circle cx="85.1" cy="364.7" r="1.38"/><circle cx="79.9" cy="365.4" r="1.38"/><circle cx="73.7" cy="365.4" r="1.38"/><circle cx="92.2" cy="369.6" r="1.38"/><circle cx="68.3" cy="363.3" r="1.38"/><circle cx="84.5" cy="363.3" r="1.38"/><circle cx="61.3" cy="359.8" r="1.38"/><circle cx="70.7" cy="360.3" r="1.38"/><circle cx="65.4" cy="370.5" r="1.38"/><circle cx="70.5" cy="359.6" r="1.38"/><circle cx="68.1" cy="365.3" r="1.38"/><circle cx="71.4" cy="373.1" r="1.38"/><circle cx="67.0" cy="357.5" r="1.38"/><circle cx="71.0" cy="355.5" r="1.38"/><circle cx="68.6" cy="363.1" r="1.38"/><circle cx="80.4" cy="373.2" r="1.38"/><circle cx="83.6" cy="369.7" r="1.38"/><circle cx="68.7" cy="364.3" r="1.38"/><circle cx="74.2" cy="366.7" r="1.38"/><circle cx="75.9" cy="369.5" r="1.38"/><circle cx="85.2" cy="374.2" r="1.38"/><circle cx="62.2" cy="369.4" r="1.38"/><circle cx="93.9" cy="370.5" r="1.38"/><circle cx="69.1" cy="366.4" r="1.38"/><circle cx="81.7" cy="363.9" r="1.38"/><circle cx="61.9" cy="356.9" r="1.38"/><circle cx="65.1" cy="362.8" r="1.38"/><circle cx="57.9" cy="355.1" r="1.38"/><circle cx="64.7" cy="353.6" r="1.38"/><circle cx="71.7" cy="362.9" r="1.38"/><circle cx="59.5" cy="357.2" r="1.38"/><circle cx="71.9" cy="355.0" r="1.38"/><circle cx="62.3" cy="361.0" r="1.38"/><circle cx="62.8" cy="358.3" r="1.38"/><circle cx="69.0" cy="360.8" r="1.38"/><circle cx="71.9" cy="351.6" r="1.38"/><circle cx="68.2" cy="363.4" r="1.38"/><circle cx="79.8" cy="358.8" r="1.38"/><circle cx="61.6" cy="355.4" r="1.38"/><circle cx="67.4" cy="358.9" r="1.38"/><circle cx="73.6" cy="358.6" r="1.38"/><circle cx="68.7" cy="367.0" r="1.38"/><circle cx="57.7" cy="350.1" r="1.38"/><circle cx="69.9" cy="350.2" r="1.38"/><circle cx="63.7" cy="361.4" r="1.38"/><circle cx="76.3" cy="360.9" r="1.38"/><circle cx="66.9" cy="361.3" r="1.38"/><circle cx="67.8" cy="357.7" r="1.38"/><circle cx="69.1" cy="355.7" r="1.38"/><circle cx="72.7" cy="365.4" r="1.38"/><circle cx="69.0" cy="352.5" r="1.38"/><circle cx="61.7" cy="357.5" r="1.38"/><circle cx="69.7" cy="353.5" r="1.38"/><circle cx="74.7" cy="366.0" r="1.38"/><circle cx="60.2" cy="354.7" r="1.38"/><circle cx="63.4" cy="360.5" r="1.38"/><circle cx="59.3" cy="360.4" r="1.38"/><circle cx="65.9" cy="358.7" r="1.38"/><circle cx="76.7" cy="359.3" r="1.38"/><circle cx="81.4" cy="358.1" r="1.38"/><circle cx="68.0" cy="359.6" r="1.38"/><circle cx="72.2" cy="368.0" r="1.38"/><circle cx="68.5" cy="369.1" r="1.38"/><circle cx="81.2" cy="365.8" r="1.38"/><circle cx="65.4" cy="364.4" r="1.38"/><circle cx="58.8" cy="354.8" r="1.38"/><circle cx="65.6" cy="368.6" r="1.38"/><circle cx="64.1" cy="358.8" r="1.38"/><circle cx="69.7" cy="352.2" r="1.38"/><circle cx="78.7" cy="368.9" r="1.38"/><circle cx="73.9" cy="357.9" r="1.38"/><circle cx="63.4" cy="365.0" r="1.38"/><circle cx="66.5" cy="359.5" r="1.38"/><circle cx="56.6" cy="348.3" r="1.38"/><circle cx="74.1" cy="358.7" r="1.38"/><circle cx="74.9" cy="364.9" r="1.38"/><circle cx="57.9" cy="356.5" r="1.38"/><circle cx="68.4" cy="354.8" r="1.38"/><circle cx="69.8" cy="363.2" r="1.38"/><circle cx="76.9" cy="355.5" r="1.38"/><circle cx="60.1" cy="359.5" r="1.38"/><circle cx="77.3" cy="368.5" r="1.38"/><circle cx="74.1" cy="358.9" r="1.38"/><circle cx="65.0" cy="358.8" r="1.38"/><circle cx="61.5" cy="360.5" r="1.38"/><circle cx="67.5" cy="353.3" r="1.38"/><circle cx="72.1" cy="350.4" r="1.38"/><circle cx="59.7" cy="364.1" r="1.38"/><circle cx="70.7" cy="360.0" r="1.38"/><circle cx="71.5" cy="360.7" r="1.38"/><circle cx="69.0" cy="358.4" r="1.38"/><circle cx="75.6" cy="357.1" r="1.38"/><circle cx="65.4" cy="357.4" r="1.38"/><circle cx="56.3" cy="361.1" r="1.38"/><circle cx="73.0" cy="360.1" r="1.38"/><circle cx="77.9" cy="362.2" r="1.38"/><circle cx="67.3" cy="353.5" r="1.38"/><circle cx="70.3" cy="360.8" r="1.38"/><circle cx="75.8" cy="354.0" r="1.38"/><circle cx="74.4" cy="361.5" r="1.38"/><circle cx="65.6" cy="354.4" r="1.38"/><circle cx="65.0" cy="349.6" r="1.38"/><circle cx="71.3" cy="356.2" r="1.38"/><circle cx="63.2" cy="354.7" r="1.38"/><circle cx="64.4" cy="361.7" r="1.38"/><circle cx="53.0" cy="319.0" r="1.38"/><circle cx="70.8" cy="317.4" r="1.38"/><circle cx="41.5" cy="332.5" r="1.38"/><circle cx="50.7" cy="327.5" r="1.38"/><circle cx="51.3" cy="329.3" r="1.38"/><circle cx="48.2" cy="331.2" r="1.38"/><circle cx="50.1" cy="333.7" r="1.38"/><circle cx="67.4" cy="330.6" r="1.38"/><circle cx="70.8" cy="335.4" r="1.38"/><circle cx="54.5" cy="336.6" r="1.38"/><circle cx="57.6" cy="337.1" r="1.38"/><circle cx="58.2" cy="338.8" r="1.38"/><circle cx="61.4" cy="336.2" r="1.38"/><circle cx="64.5" cy="337.5" r="1.38"/><circle cx="49.4" cy="337.9" r="1.38"/><circle cx="48.8" cy="340.0" r="1.38"/><circle cx="48.2" cy="341.9" r="1.38"/><circle cx="72.7" cy="338.8" r="1.38"/><circle cx="70.2" cy="340.4" r="1.38"/><circle cx="55.1" cy="341.9" r="1.38"/><circle cx="56.3" cy="343.4" r="1.38"/><circle cx="62.0" cy="341.9" r="1.38"/><circle cx="64.5" cy="342.1" r="1.38"/><circle cx="67.6" cy="342.5" r="1.38"/><circle cx="68.3" cy="344.4" r="1.38"/><circle cx="70.8" cy="345.0" r="1.38"/><circle cx="70.8" cy="346.3" r="1.38"/><circle cx="84.6" cy="343.2" r="1.38"/><circle cx="90.6" cy="344.2" r="1.38"/><circle cx="45.7" cy="347.9" r="1.38"/><circle cx="51.9" cy="348.4" r="1.38"/><circle cx="57.0" cy="347.5" r="1.38"/><circle cx="59.5" cy="346.9" r="1.38"/><circle cx="78.3" cy="347.5" r="1.38"/><circle cx="77.1" cy="348.8" r="1.38"/><circle cx="74.9" cy="349.4" r="1.38"/><circle cx="102.8" cy="351.1" r="1.38"/><circle cx="90.6" cy="353.2" r="1.38"/><circle cx="104.7" cy="355.5" r="1.38"/><circle cx="111.6" cy="355.1" r="1.38"/><circle cx="107.2" cy="357.0" r="1.38"/><circle cx="113.5" cy="358.8" r="1.38"/><circle cx="48.2" cy="354.4" r="1.38"/><circle cx="45.0" cy="358.2" r="1.38"/><circle cx="51.3" cy="357.6" r="1.38"/><circle cx="53.8" cy="353.2" r="1.38"/><circle cx="45.0" cy="363.9" r="1.38"/><circle cx="51.9" cy="362.6" r="1.38"/><circle cx="53.8" cy="360.7" r="1.38"/><circle cx="51.9" cy="372.4" r="1.38"/><circle cx="55.1" cy="376.4" r="1.38"/><circle cx="55.7" cy="367.0" r="1.38"/><circle cx="58.9" cy="372.6" r="1.38"/><circle cx="61.4" cy="373.9" r="1.38"/><circle cx="111.0" cy="363.9" r="1.38"/><circle cx="113.5" cy="366.1" r="1.38"/><circle cx="102.8" cy="358.8" r="1.38"/><circle cx="99.0" cy="360.1" r="1.38"/><circle cx="100.3" cy="362.0" r="1.38"/><circle cx="104.1" cy="363.2" r="1.38"/><circle cx="106.6" cy="364.5" r="1.38"/><circle cx="104.4" cy="368.2" r="1.38"/><circle cx="97.8" cy="366.4" r="1.38"/><circle cx="95.3" cy="368.2" r="1.38"/><circle cx="92.8" cy="370.1" r="1.38"/><circle cx="90.2" cy="375.8" r="1.38"/><circle cx="87.7" cy="376.4" r="1.38"/><circle cx="90.9" cy="372.0" r="1.38"/><circle cx="85.2" cy="355.7" r="1.38"/><circle cx="88.4" cy="358.2" r="1.38"/><circle cx="93.4" cy="359.5" r="1.38"/><circle cx="132.7" cy="365.3" r="1.38"/><circle cx="126.3" cy="367.9" r="1.38"/></g>
<line x1="41.6" y1="351.3" x2="132.8" y2="375.6" stroke="#000" stroke-width="0.80"/>
<path d="M30.30 302.85V388.40H158.85M30.30 388.40v3.40M73.00 388.40v3.40M115.70 388.40v3.40M158.40 388.40v3.40M30.30 388.40h-3.40M30.30 371.38h-3.40M30.30 354.36h-3.40M30.30 337.34h-3.40M30.30 320.32h-3.40M30.30 303.30h-3.40M34.57 388.40v2.00M38.84 388.40v2.00M43.11 388.40v2.00M47.38 388.40v2.00M51.65 388.40v2.00M55.92 388.40v2.00M60.19 388.40v2.00M64.46 388.40v2.00M68.73 388.40v2.00M77.27 388.40v2.00M81.54 388.40v2.00M85.81 388.40v2.00M90.08 388.40v2.00M94.35 388.40v2.00M98.62 388.40v2.00M102.89 388.40v2.00M107.16 388.40v2.00M111.43 388.40v2.00M119.97 388.40v2.00M124.24 388.40v2.00M128.51 388.40v2.00M132.78 388.40v2.00M137.05 388.40v2.00M141.32 388.40v2.00M145.59 388.40v2.00M149.86 388.40v2.00M154.13 388.40v2.00" fill="none" stroke="#000" stroke-width="0.90"/>
<text x="30.3" y="399.1" font-size="6.0" text-anchor="middle">0.0</text>
<text x="73.0" y="399.1" font-size="6.0" text-anchor="middle">0.2</text>
<text x="115.7" y="399.1" font-size="6.0" text-anchor="middle">0.4</text>
<text x="158.4" y="399.1" font-size="6.0" text-anchor="middle">0.6</text>
<text x="26.0" y="390.6" font-size="6.0" text-anchor="end">0</text>
<text x="26.0" y="373.5" font-size="6.0" text-anchor="end">10</text>
<text x="26.0" y="356.5" font-size="6.0" text-anchor="end">20</text>
<text x="26.0" y="339.5" font-size="6.0" text-anchor="end">30</text>
<text x="26.0" y="322.5" font-size="6.0" text-anchor="end">40</text>
<text x="26.0" y="305.5" font-size="6.0" text-anchor="end">50</text>
<text x="94.9" y="408.2" font-size="6.20" text-anchor="middle">C4 (g/L)</text>
<text transform="translate(13.8 345.6) rotate(-90)" font-size="6.10" text-anchor="middle" y="1.8">IgG (g/L)</text>
<text x="125.2" y="310.0" font-size="6.15" text-anchor="middle">corr<tspan font-size="4.4" dy="1.0">coeff</tspan><tspan dy="-1.0">=-0.31</tspan></text>
<text x="125.2" y="317.7" font-size="6.15" text-anchor="middle">p<tspan font-family="'Noto Sans CJK SC', sans-serif" font-weight="700" font-size="5.8" dx="0.15">＜</tspan><tspan dx="0.15">0.001***</tspan></text>
<text x="-0.1" y="290.3" font-size="12.3" stroke="#000" stroke-width="0.35">I</text>
</g>
<g>
<g><circle cx="244.7" cy="386.8" r="1.38"/><circle cx="250.1" cy="385.9" r="1.38"/><circle cx="232.5" cy="385.7" r="1.38"/><circle cx="242.5" cy="386.8" r="1.38"/><circle cx="239.8" cy="388.1" r="1.38"/><circle cx="238.6" cy="386.6" r="1.38"/><circle cx="245.9" cy="386.9" r="1.38"/><circle cx="243.1" cy="389.5" r="1.38"/><circle cx="245.1" cy="388.2" r="1.38"/><circle cx="244.2" cy="386.6" r="1.38"/><circle cx="231.2" cy="389.1" r="1.38"/><circle cx="233.3" cy="387.2" r="1.38"/><circle cx="243.9" cy="383.7" r="1.38"/><circle cx="247.1" cy="384.7" r="1.38"/><circle cx="255.8" cy="388.1" r="1.38"/><circle cx="239.4" cy="385.7" r="1.38"/><circle cx="240.6" cy="388.0" r="1.38"/><circle cx="228.1" cy="387.0" r="1.38"/><circle cx="237.0" cy="387.3" r="1.38"/><circle cx="239.2" cy="384.4" r="1.38"/><circle cx="233.2" cy="386.1" r="1.38"/><circle cx="247.0" cy="388.5" r="1.38"/><circle cx="243.1" cy="384.4" r="1.38"/><circle cx="253.1" cy="387.9" r="1.38"/><circle cx="255.6" cy="388.8" r="1.38"/><circle cx="230.4" cy="385.7" r="1.38"/><circle cx="236.5" cy="385.0" r="1.38"/><circle cx="239.6" cy="384.9" r="1.38"/><circle cx="241.1" cy="386.1" r="1.38"/><circle cx="242.8" cy="389.7" r="1.38"/><circle cx="255.1" cy="385.1" r="1.38"/><circle cx="240.9" cy="387.1" r="1.38"/><circle cx="246.1" cy="383.8" r="1.38"/><circle cx="238.7" cy="387.7" r="1.38"/><circle cx="234.3" cy="389.5" r="1.38"/><circle cx="231.6" cy="388.1" r="1.38"/><circle cx="256.1" cy="387.5" r="1.38"/><circle cx="248.8" cy="389.5" r="1.38"/><circle cx="240.9" cy="389.1" r="1.38"/><circle cx="243.9" cy="388.7" r="1.38"/><circle cx="236.3" cy="384.9" r="1.38"/><circle cx="238.0" cy="388.2" r="1.38"/><circle cx="258.7" cy="385.6" r="1.38"/><circle cx="256.1" cy="385.9" r="1.38"/><circle cx="245.8" cy="385.8" r="1.38"/><circle cx="240.4" cy="386.0" r="1.38"/><circle cx="230.4" cy="387.0" r="1.38"/><circle cx="236.2" cy="389.5" r="1.38"/><circle cx="244.2" cy="388.1" r="1.38"/><circle cx="246.0" cy="385.8" r="1.38"/><circle cx="253.2" cy="385.3" r="1.38"/><circle cx="244.5" cy="388.6" r="1.38"/><circle cx="250.1" cy="388.4" r="1.38"/><circle cx="249.9" cy="386.7" r="1.38"/><circle cx="233.4" cy="387.5" r="1.38"/><circle cx="254.6" cy="387.2" r="1.38"/><circle cx="233.1" cy="385.7" r="1.38"/><circle cx="237.1" cy="388.4" r="1.38"/><circle cx="237.4" cy="387.6" r="1.38"/><circle cx="245.5" cy="386.5" r="1.38"/><circle cx="237.1" cy="386.6" r="1.38"/><circle cx="246.9" cy="387.2" r="1.38"/><circle cx="244.8" cy="386.5" r="1.38"/><circle cx="235.1" cy="385.3" r="1.38"/><circle cx="232.1" cy="387.0" r="1.38"/><circle cx="244.5" cy="385.1" r="1.38"/><circle cx="245.1" cy="386.0" r="1.38"/><circle cx="249.6" cy="385.3" r="1.38"/><circle cx="237.6" cy="384.9" r="1.38"/><circle cx="256.4" cy="388.2" r="1.38"/><circle cx="235.2" cy="383.7" r="1.38"/><circle cx="256.2" cy="387.1" r="1.38"/><circle cx="243.8" cy="384.0" r="1.38"/><circle cx="240.8" cy="384.4" r="1.38"/><circle cx="230.5" cy="386.4" r="1.38"/><circle cx="234.1" cy="386.2" r="1.38"/><circle cx="246.1" cy="386.1" r="1.38"/><circle cx="239.5" cy="389.1" r="1.38"/><circle cx="254.0" cy="387.5" r="1.38"/><circle cx="247.4" cy="384.4" r="1.38"/><circle cx="243.7" cy="383.2" r="1.38"/><circle cx="236.1" cy="386.7" r="1.38"/><circle cx="249.8" cy="387.4" r="1.38"/><circle cx="225.9" cy="386.3" r="1.38"/><circle cx="249.8" cy="388.2" r="1.38"/><circle cx="240.5" cy="384.5" r="1.38"/><circle cx="239.5" cy="384.0" r="1.38"/><circle cx="236.9" cy="386.4" r="1.38"/><circle cx="240.1" cy="384.3" r="1.38"/><circle cx="248.9" cy="387.2" r="1.38"/><circle cx="240.5" cy="385.7" r="1.38"/><circle cx="229.6" cy="388.6" r="1.38"/><circle cx="238.6" cy="388.7" r="1.38"/><circle cx="252.3" cy="383.9" r="1.38"/><circle cx="236.4" cy="385.3" r="1.38"/><circle cx="234.6" cy="387.1" r="1.38"/><circle cx="248.1" cy="383.9" r="1.38"/><circle cx="254.1" cy="387.9" r="1.38"/><circle cx="230.2" cy="388.2" r="1.38"/><circle cx="246.5" cy="387.9" r="1.38"/><circle cx="247.3" cy="387.7" r="1.38"/><circle cx="229.3" cy="387.7" r="1.38"/><circle cx="221.4" cy="389.4" r="1.38"/><circle cx="222.6" cy="389.5" r="1.38"/><circle cx="271.5" cy="388.9" r="1.38"/><circle cx="241.2" cy="387.8" r="1.38"/><circle cx="258.5" cy="388.1" r="1.38"/><circle cx="267.8" cy="388.3" r="1.38"/><circle cx="223.7" cy="388.4" r="1.38"/><circle cx="263.5" cy="387.6" r="1.38"/><circle cx="220.0" cy="387.7" r="1.38"/><circle cx="254.0" cy="388.7" r="1.38"/><circle cx="235.4" cy="387.6" r="1.38"/><circle cx="254.4" cy="387.0" r="1.38"/><circle cx="249.5" cy="388.4" r="1.38"/><circle cx="220.3" cy="389.3" r="1.38"/><circle cx="236.9" cy="389.1" r="1.38"/><circle cx="244.4" cy="389.0" r="1.38"/><circle cx="234.4" cy="389.0" r="1.38"/><circle cx="257.9" cy="388.4" r="1.38"/><circle cx="266.7" cy="387.3" r="1.38"/><circle cx="242.6" cy="387.5" r="1.38"/><circle cx="258.0" cy="389.6" r="1.38"/><circle cx="227.2" cy="388.8" r="1.38"/><circle cx="238.4" cy="387.1" r="1.38"/><circle cx="265.4" cy="388.3" r="1.38"/><circle cx="223.2" cy="388.1" r="1.38"/><circle cx="268.9" cy="387.7" r="1.38"/><circle cx="249.2" cy="389.2" r="1.38"/><circle cx="242.0" cy="388.9" r="1.38"/><circle cx="272.6" cy="388.2" r="1.38"/><circle cx="259.1" cy="387.0" r="1.38"/><circle cx="245.7" cy="387.5" r="1.38"/><circle cx="242.7" cy="388.2" r="1.38"/><circle cx="248.3" cy="388.5" r="1.38"/><circle cx="275.2" cy="388.2" r="1.38"/><circle cx="246.9" cy="389.7" r="1.38"/><circle cx="261.5" cy="388.2" r="1.38"/><circle cx="221.0" cy="389.4" r="1.38"/><circle cx="253.7" cy="389.2" r="1.38"/><circle cx="262.7" cy="387.6" r="1.38"/><circle cx="252.2" cy="389.0" r="1.38"/><circle cx="248.3" cy="388.5" r="1.38"/><circle cx="243.2" cy="388.9" r="1.38"/><circle cx="241.4" cy="389.3" r="1.38"/><circle cx="228.3" cy="388.0" r="1.38"/><circle cx="242.1" cy="387.2" r="1.38"/><circle cx="233.5" cy="389.3" r="1.38"/><circle cx="254.0" cy="387.0" r="1.38"/><circle cx="233.5" cy="387.6" r="1.38"/><circle cx="236.8" cy="387.0" r="1.38"/><circle cx="241.7" cy="388.5" r="1.38"/><circle cx="230.6" cy="388.8" r="1.38"/><circle cx="269.1" cy="389.0" r="1.38"/><circle cx="254.5" cy="388.2" r="1.38"/><circle cx="229.9" cy="382.8" r="1.38"/><circle cx="253.5" cy="380.4" r="1.38"/><circle cx="231.4" cy="381.3" r="1.38"/><circle cx="251.6" cy="379.2" r="1.38"/><circle cx="229.9" cy="381.2" r="1.38"/><circle cx="240.2" cy="380.4" r="1.38"/><circle cx="245.3" cy="381.7" r="1.38"/><circle cx="230.2" cy="378.8" r="1.38"/><circle cx="241.7" cy="383.3" r="1.38"/><circle cx="248.9" cy="378.5" r="1.38"/><circle cx="244.7" cy="381.9" r="1.38"/><circle cx="230.2" cy="380.1" r="1.38"/><circle cx="239.5" cy="380.7" r="1.38"/><circle cx="239.8" cy="380.3" r="1.38"/><circle cx="235.8" cy="379.9" r="1.38"/><circle cx="241.7" cy="379.2" r="1.38"/><circle cx="236.6" cy="379.3" r="1.38"/><circle cx="251.0" cy="380.7" r="1.38"/><circle cx="252.4" cy="379.6" r="1.38"/><circle cx="247.0" cy="380.8" r="1.38"/><circle cx="246.8" cy="378.7" r="1.38"/><circle cx="227.8" cy="379.6" r="1.38"/><circle cx="237.1" cy="381.9" r="1.38"/><circle cx="236.8" cy="380.9" r="1.38"/><circle cx="246.3" cy="382.4" r="1.38"/><circle cx="235.9" cy="381.2" r="1.38"/><circle cx="241.0" cy="379.4" r="1.38"/><circle cx="247.4" cy="378.5" r="1.38"/><circle cx="284.3" cy="319.7" r="1.38"/><circle cx="241.4" cy="333.5" r="1.38"/><circle cx="277.8" cy="334.5" r="1.38"/><circle cx="220.7" cy="336.6" r="1.38"/><circle cx="249.3" cy="338.5" r="1.38"/><circle cx="216.9" cy="343.9" r="1.38"/><circle cx="241.4" cy="343.9" r="1.38"/><circle cx="225.7" cy="349.2" r="1.38"/><circle cx="227.3" cy="352.1" r="1.38"/><circle cx="241.4" cy="352.4" r="1.38"/><circle cx="223.6" cy="354.9" r="1.38"/><circle cx="237.9" cy="355.2" r="1.38"/><circle cx="244.5" cy="358.0" r="1.38"/><circle cx="227.3" cy="358.7" r="1.38"/><circle cx="262.8" cy="357.7" r="1.38"/><circle cx="237.4" cy="359.8" r="1.38"/><circle cx="245.8" cy="360.6" r="1.38"/><circle cx="233.9" cy="360.8" r="1.38"/><circle cx="273.7" cy="360.6" r="1.38"/><circle cx="216.3" cy="361.5" r="1.38"/><circle cx="216.0" cy="362.6" r="1.38"/><circle cx="218.8" cy="363.2" r="1.38"/><circle cx="216.0" cy="367.2" r="1.38"/><circle cx="218.6" cy="370.7" r="1.38"/><circle cx="225.1" cy="367.6" r="1.38"/><circle cx="228.6" cy="366.0" r="1.38"/><circle cx="233.0" cy="367.2" r="1.38"/><circle cx="212.5" cy="376.0" r="1.38"/><circle cx="221.1" cy="377.0" r="1.38"/><circle cx="224.8" cy="377.0" r="1.38"/><circle cx="225.1" cy="380.8" r="1.38"/><circle cx="220.7" cy="382.7" r="1.38"/><circle cx="218.8" cy="385.2" r="1.38"/><circle cx="215.7" cy="388.3" r="1.38"/><circle cx="229.5" cy="374.5" r="1.38"/><circle cx="231.4" cy="373.9" r="1.38"/><circle cx="232.6" cy="375.8" r="1.38"/><circle cx="235.1" cy="371.4" r="1.38"/><circle cx="237.6" cy="371.6" r="1.38"/><circle cx="243.0" cy="375.1" r="1.38"/><circle cx="245.8" cy="378.9" r="1.38"/><circle cx="248.3" cy="380.8" r="1.38"/><circle cx="265.0" cy="375.8" r="1.38"/><circle cx="267.4" cy="379.1" r="1.38"/><circle cx="257.1" cy="378.3" r="1.38"/><circle cx="255.8" cy="380.2" r="1.38"/><circle cx="252.1" cy="380.8" r="1.38"/><circle cx="253.3" cy="382.0" r="1.38"/><circle cx="271.5" cy="385.2" r="1.38"/><circle cx="274.1" cy="385.2" r="1.38"/><circle cx="275.9" cy="384.5" r="1.38"/><circle cx="260.2" cy="387.1" r="1.38"/><circle cx="262.1" cy="386.4" r="1.38"/><circle cx="269.0" cy="388.9" r="1.38"/><circle cx="273.4" cy="388.9" r="1.38"/><circle cx="276.6" cy="388.7" r="1.38"/><circle cx="278.4" cy="388.3" r="1.38"/><circle cx="281.6" cy="388.9" r="1.38"/><circle cx="284.1" cy="388.9" r="1.38"/><circle cx="297.2" cy="370.2" r="1.38"/><circle cx="303.6" cy="389.0" r="1.38"/></g>
<line x1="212.3" y1="378.2" x2="303.6" y2="387.5" stroke="#000" stroke-width="0.80"/>
<path d="M201.00 304.20V390.00H329.65M201.00 390.00v3.40M243.73 390.00v3.40M286.47 390.00v3.40M329.20 390.00v3.40M201.00 390.00h-3.40M201.00 372.93h-3.40M201.00 355.86h-3.40M201.00 338.79h-3.40M201.00 321.72h-3.40M201.00 304.65h-3.40M205.27 390.00v2.00M209.55 390.00v2.00M213.82 390.00v2.00M218.09 390.00v2.00M222.37 390.00v2.00M226.64 390.00v2.00M230.91 390.00v2.00M235.19 390.00v2.00M239.46 390.00v2.00M248.01 390.00v2.00M252.28 390.00v2.00M256.55 390.00v2.00M260.83 390.00v2.00M265.10 390.00v2.00M269.37 390.00v2.00M273.65 390.00v2.00M277.92 390.00v2.00M282.19 390.00v2.00M290.74 390.00v2.00M295.01 390.00v2.00M299.29 390.00v2.00M303.56 390.00v2.00M307.83 390.00v2.00M312.11 390.00v2.00M316.38 390.00v2.00M320.65 390.00v2.00M324.93 390.00v2.00" fill="none" stroke="#000" stroke-width="0.90"/>
<text x="201.0" y="400.6" font-size="6.0" text-anchor="middle">0.0</text>
<text x="243.7" y="400.6" font-size="6.0" text-anchor="middle">0.2</text>
<text x="286.5" y="400.6" font-size="6.0" text-anchor="middle">0.4</text>
<text x="329.2" y="400.6" font-size="6.0" text-anchor="middle">0.6</text>
<text x="196.7" y="392.2" font-size="6.0" text-anchor="end">0</text>
<text x="196.7" y="375.1" font-size="6.0" text-anchor="end">200</text>
<text x="196.7" y="358.0" font-size="6.0" text-anchor="end">400</text>
<text x="196.7" y="340.9" font-size="6.0" text-anchor="end">600</text>
<text x="196.7" y="323.9" font-size="6.0" text-anchor="end">800</text>
<text x="196.7" y="306.8" font-size="6.0" text-anchor="end">1000</text>
<text x="264.9" y="409.5" font-size="6.20" text-anchor="middle">C4 (g/L)</text>
<text transform="translate(177.0 347.1) rotate(-90)" font-size="6.10" text-anchor="middle" y="1.8">RF (IU/L)</text>
<text x="296.0" y="311.5" font-size="6.15" text-anchor="middle">corr<tspan font-size="4.4" dy="1.0">coeff</tspan><tspan dy="-1.0">=-0.19</tspan></text>
<text x="296.0" y="318.9" font-size="6.15" text-anchor="middle">p=0.001**</text>
<text x="171.0" y="290.5" font-size="12.3" stroke="#000" stroke-width="0.35">J</text>
</g>
<g>
<g><circle cx="406.3" cy="375.4" r="1.38"/><circle cx="423.0" cy="375.6" r="1.38"/><circle cx="424.1" cy="373.1" r="1.38"/><circle cx="423.4" cy="379.4" r="1.38"/><circle cx="421.5" cy="372.0" r="1.38"/><circle cx="412.8" cy="367.6" r="1.38"/><circle cx="420.6" cy="371.9" r="1.38"/><circle cx="409.2" cy="369.5" r="1.38"/><circle cx="425.1" cy="377.0" r="1.38"/><circle cx="425.4" cy="369.6" r="1.38"/><circle cx="418.4" cy="367.2" r="1.38"/><circle cx="426.0" cy="369.7" r="1.38"/><circle cx="412.7" cy="375.2" r="1.38"/><circle cx="422.6" cy="371.1" r="1.38"/><circle cx="406.8" cy="368.6" r="1.38"/><circle cx="411.4" cy="374.0" r="1.38"/><circle cx="425.3" cy="371.3" r="1.38"/><circle cx="418.1" cy="371.6" r="1.38"/><circle cx="425.7" cy="371.7" r="1.38"/><circle cx="421.8" cy="367.6" r="1.38"/><circle cx="426.0" cy="371.0" r="1.38"/><circle cx="403.9" cy="377.5" r="1.38"/><circle cx="406.3" cy="371.1" r="1.38"/><circle cx="407.7" cy="378.2" r="1.38"/><circle cx="415.6" cy="371.0" r="1.38"/><circle cx="418.8" cy="378.8" r="1.38"/><circle cx="411.1" cy="378.5" r="1.38"/><circle cx="409.0" cy="379.3" r="1.38"/><circle cx="407.6" cy="369.1" r="1.38"/><circle cx="421.2" cy="373.0" r="1.38"/><circle cx="417.1" cy="367.1" r="1.38"/><circle cx="410.3" cy="369.8" r="1.38"/><circle cx="407.1" cy="379.1" r="1.38"/><circle cx="423.7" cy="371.6" r="1.38"/><circle cx="411.5" cy="371.4" r="1.38"/><circle cx="432.5" cy="372.4" r="1.38"/><circle cx="428.8" cy="371.2" r="1.38"/><circle cx="425.4" cy="378.7" r="1.38"/><circle cx="422.9" cy="375.6" r="1.38"/><circle cx="420.6" cy="373.1" r="1.38"/><circle cx="423.6" cy="378.2" r="1.38"/><circle cx="430.5" cy="375.0" r="1.38"/><circle cx="409.5" cy="371.9" r="1.38"/><circle cx="413.5" cy="378.0" r="1.38"/><circle cx="408.2" cy="372.3" r="1.38"/><circle cx="431.6" cy="374.6" r="1.38"/><circle cx="428.6" cy="380.0" r="1.38"/><circle cx="407.5" cy="374.4" r="1.38"/><circle cx="409.4" cy="373.2" r="1.38"/><circle cx="411.6" cy="368.2" r="1.38"/><circle cx="416.4" cy="375.0" r="1.38"/><circle cx="420.1" cy="378.9" r="1.38"/><circle cx="425.5" cy="369.5" r="1.38"/><circle cx="431.5" cy="373.2" r="1.38"/><circle cx="413.2" cy="374.8" r="1.38"/><circle cx="415.2" cy="370.1" r="1.38"/><circle cx="409.2" cy="380.2" r="1.38"/><circle cx="423.0" cy="379.4" r="1.38"/><circle cx="416.8" cy="370.7" r="1.38"/><circle cx="415.6" cy="379.3" r="1.38"/><circle cx="431.3" cy="374.9" r="1.38"/><circle cx="421.3" cy="375.3" r="1.38"/><circle cx="417.0" cy="364.3" r="1.38"/><circle cx="422.3" cy="376.3" r="1.38"/><circle cx="418.1" cy="364.6" r="1.38"/><circle cx="417.8" cy="380.8" r="1.38"/><circle cx="422.2" cy="374.2" r="1.38"/><circle cx="432.6" cy="372.4" r="1.38"/><circle cx="414.2" cy="367.5" r="1.38"/><circle cx="429.8" cy="367.4" r="1.38"/><circle cx="422.6" cy="379.1" r="1.38"/><circle cx="411.4" cy="377.5" r="1.38"/><circle cx="427.1" cy="371.6" r="1.38"/><circle cx="416.7" cy="375.3" r="1.38"/><circle cx="412.4" cy="365.8" r="1.38"/><circle cx="414.3" cy="380.1" r="1.38"/><circle cx="425.6" cy="375.9" r="1.38"/><circle cx="402.6" cy="374.0" r="1.38"/><circle cx="420.7" cy="371.6" r="1.38"/><circle cx="407.0" cy="369.5" r="1.38"/><circle cx="404.9" cy="377.9" r="1.38"/><circle cx="426.8" cy="368.8" r="1.38"/><circle cx="424.3" cy="365.6" r="1.38"/><circle cx="409.1" cy="376.8" r="1.38"/><circle cx="424.5" cy="377.2" r="1.38"/><circle cx="412.8" cy="368.2" r="1.38"/><circle cx="417.7" cy="374.4" r="1.38"/><circle cx="408.5" cy="375.1" r="1.38"/><circle cx="417.9" cy="379.3" r="1.38"/><circle cx="412.3" cy="373.8" r="1.38"/><circle cx="407.1" cy="377.4" r="1.38"/><circle cx="410.3" cy="372.0" r="1.38"/><circle cx="424.3" cy="367.7" r="1.38"/><circle cx="421.2" cy="368.7" r="1.38"/><circle cx="404.2" cy="372.5" r="1.38"/><circle cx="411.2" cy="375.3" r="1.38"/><circle cx="405.9" cy="377.9" r="1.38"/><circle cx="415.3" cy="370.5" r="1.38"/><circle cx="416.7" cy="363.9" r="1.38"/><circle cx="422.4" cy="366.0" r="1.38"/><circle cx="416.8" cy="379.2" r="1.38"/><circle cx="420.0" cy="378.7" r="1.38"/><circle cx="413.0" cy="365.6" r="1.38"/><circle cx="404.3" cy="374.2" r="1.38"/><circle cx="427.9" cy="367.3" r="1.38"/><circle cx="408.1" cy="367.2" r="1.38"/><circle cx="425.1" cy="378.9" r="1.38"/><circle cx="414.9" cy="378.7" r="1.38"/><circle cx="403.3" cy="375.3" r="1.38"/><circle cx="430.0" cy="377.4" r="1.38"/><circle cx="419.2" cy="377.8" r="1.38"/><circle cx="410.6" cy="367.9" r="1.38"/><circle cx="417.4" cy="381.0" r="1.38"/><circle cx="414.7" cy="377.6" r="1.38"/><circle cx="423.7" cy="372.1" r="1.38"/><circle cx="422.8" cy="367.4" r="1.38"/><circle cx="411.1" cy="376.9" r="1.38"/><circle cx="403.0" cy="374.6" r="1.38"/><circle cx="413.6" cy="374.4" r="1.38"/><circle cx="433.9" cy="372.1" r="1.38"/><circle cx="414.2" cy="367.3" r="1.38"/><circle cx="416.0" cy="376.5" r="1.38"/><circle cx="425.2" cy="375.1" r="1.38"/><circle cx="425.4" cy="376.5" r="1.38"/><circle cx="418.9" cy="369.5" r="1.38"/><circle cx="421.1" cy="371.2" r="1.38"/><circle cx="425.3" cy="374.4" r="1.38"/><circle cx="427.9" cy="380.0" r="1.38"/><circle cx="416.8" cy="374.9" r="1.38"/><circle cx="418.4" cy="369.7" r="1.38"/><circle cx="419.6" cy="368.5" r="1.38"/><circle cx="425.6" cy="374.7" r="1.38"/><circle cx="430.7" cy="373.5" r="1.38"/><circle cx="415.2" cy="375.8" r="1.38"/><circle cx="418.3" cy="372.0" r="1.38"/><circle cx="434.3" cy="374.6" r="1.38"/><circle cx="424.3" cy="377.0" r="1.38"/><circle cx="426.5" cy="371.6" r="1.38"/><circle cx="421.0" cy="364.0" r="1.38"/><circle cx="417.5" cy="374.2" r="1.38"/><circle cx="430.9" cy="371.0" r="1.38"/><circle cx="420.2" cy="375.2" r="1.38"/><circle cx="402.2" cy="375.2" r="1.38"/><circle cx="414.1" cy="368.5" r="1.38"/><circle cx="423.6" cy="369.2" r="1.38"/><circle cx="425.5" cy="366.0" r="1.38"/><circle cx="419.9" cy="368.3" r="1.38"/><circle cx="419.6" cy="370.3" r="1.38"/><circle cx="412.2" cy="380.2" r="1.38"/><circle cx="427.3" cy="374.4" r="1.38"/><circle cx="439.4" cy="371.6" r="1.38"/><circle cx="419.2" cy="365.5" r="1.38"/><circle cx="411.4" cy="380.1" r="1.38"/><circle cx="417.6" cy="371.7" r="1.38"/><circle cx="429.1" cy="365.2" r="1.38"/><circle cx="416.1" cy="380.8" r="1.38"/><circle cx="433.5" cy="373.0" r="1.38"/><circle cx="420.5" cy="379.6" r="1.38"/><circle cx="403.2" cy="373.3" r="1.38"/><circle cx="415.1" cy="380.7" r="1.38"/><circle cx="426.1" cy="365.1" r="1.38"/><circle cx="405.4" cy="376.3" r="1.38"/><circle cx="434.1" cy="372.4" r="1.38"/><circle cx="437.9" cy="372.4" r="1.38"/><circle cx="430.7" cy="368.6" r="1.38"/><circle cx="426.0" cy="372.2" r="1.38"/><circle cx="429.8" cy="366.6" r="1.38"/><circle cx="422.0" cy="362.8" r="1.38"/><circle cx="416.2" cy="379.3" r="1.38"/><circle cx="415.7" cy="371.2" r="1.38"/><circle cx="411.0" cy="376.1" r="1.38"/><circle cx="418.9" cy="370.7" r="1.38"/><circle cx="418.0" cy="381.6" r="1.38"/><circle cx="416.8" cy="369.3" r="1.38"/><circle cx="415.1" cy="375.2" r="1.38"/><circle cx="438.9" cy="369.2" r="1.38"/><circle cx="410.9" cy="371.7" r="1.38"/><circle cx="419.7" cy="373.4" r="1.38"/><circle cx="420.6" cy="378.0" r="1.38"/><circle cx="412.0" cy="371.1" r="1.38"/><circle cx="409.9" cy="368.9" r="1.38"/><circle cx="421.4" cy="380.0" r="1.38"/><circle cx="429.8" cy="367.8" r="1.38"/><circle cx="416.4" cy="368.5" r="1.38"/><circle cx="429.8" cy="372.5" r="1.38"/><circle cx="411.0" cy="375.0" r="1.38"/><circle cx="409.0" cy="372.6" r="1.38"/><circle cx="432.6" cy="373.9" r="1.38"/><circle cx="409.2" cy="383.3" r="1.38"/><circle cx="426.7" cy="368.4" r="1.38"/><circle cx="429.5" cy="372.1" r="1.38"/><circle cx="403.9" cy="371.7" r="1.38"/><circle cx="403.2" cy="369.2" r="1.38"/><circle cx="431.5" cy="371.1" r="1.38"/><circle cx="417.4" cy="372.7" r="1.38"/><circle cx="423.2" cy="367.0" r="1.38"/><circle cx="413.3" cy="366.8" r="1.38"/><circle cx="430.5" cy="371.9" r="1.38"/><circle cx="427.2" cy="372.4" r="1.38"/><circle cx="410.3" cy="370.7" r="1.38"/><circle cx="404.2" cy="376.9" r="1.38"/><circle cx="402.4" cy="377.7" r="1.38"/><circle cx="401.7" cy="378.7" r="1.38"/><circle cx="413.4" cy="379.3" r="1.38"/><circle cx="442.3" cy="377.3" r="1.38"/><circle cx="417.2" cy="376.8" r="1.38"/><circle cx="432.5" cy="373.3" r="1.38"/><circle cx="425.9" cy="375.9" r="1.38"/><circle cx="429.5" cy="372.7" r="1.38"/><circle cx="415.8" cy="376.8" r="1.38"/><circle cx="438.2" cy="377.1" r="1.38"/><circle cx="420.4" cy="375.4" r="1.38"/><circle cx="427.5" cy="374.7" r="1.38"/><circle cx="427.3" cy="363.7" r="1.38"/><circle cx="414.9" cy="382.9" r="1.38"/><circle cx="424.9" cy="370.0" r="1.38"/><circle cx="429.5" cy="366.3" r="1.38"/><circle cx="427.5" cy="382.0" r="1.38"/><circle cx="423.8" cy="370.4" r="1.38"/><circle cx="411.2" cy="372.9" r="1.38"/><circle cx="416.4" cy="317.8" r="1.38"/><circle cx="427.1" cy="331.1" r="1.38"/><circle cx="427.1" cy="332.8" r="1.38"/><circle cx="414.9" cy="336.7" r="1.38"/><circle cx="448.4" cy="338.5" r="1.38"/><circle cx="387.3" cy="342.3" r="1.38"/><circle cx="408.6" cy="342.0" r="1.38"/><circle cx="414.3" cy="342.3" r="1.38"/><circle cx="409.9" cy="344.9" r="1.38"/><circle cx="435.9" cy="351.2" r="1.38"/><circle cx="402.0" cy="354.6" r="1.38"/><circle cx="407.9" cy="355.2" r="1.38"/><circle cx="410.5" cy="356.2" r="1.38"/><circle cx="457.2" cy="355.8" r="1.38"/><circle cx="431.5" cy="357.1" r="1.38"/><circle cx="427.1" cy="358.3" r="1.38"/><circle cx="429.0" cy="358.7" r="1.38"/><circle cx="416.4" cy="358.7" r="1.38"/><circle cx="422.7" cy="359.2" r="1.38"/><circle cx="409.1" cy="360.0" r="1.38"/><circle cx="399.5" cy="361.2" r="1.38"/><circle cx="412.9" cy="361.5" r="1.38"/><circle cx="422.1" cy="360.8" r="1.38"/><circle cx="431.5" cy="361.2" r="1.38"/><circle cx="396.3" cy="366.3" r="1.38"/><circle cx="400.7" cy="362.6" r="1.38"/><circle cx="403.2" cy="363.8" r="1.38"/><circle cx="399.8" cy="368.6" r="1.38"/><circle cx="395.1" cy="373.2" r="1.38"/><circle cx="395.7" cy="375.1" r="1.38"/><circle cx="390.7" cy="376.4" r="1.38"/><circle cx="390.7" cy="378.9" r="1.38"/><circle cx="396.9" cy="378.3" r="1.38"/><circle cx="397.6" cy="380.2" r="1.38"/><circle cx="391.0" cy="385.2" r="1.38"/><circle cx="400.1" cy="382.7" r="1.38"/><circle cx="400.7" cy="384.5" r="1.38"/><circle cx="403.9" cy="385.2" r="1.38"/><circle cx="405.7" cy="386.2" r="1.38"/><circle cx="401.3" cy="375.8" r="1.38"/><circle cx="403.2" cy="377.0" r="1.38"/><circle cx="444.4" cy="365.1" r="1.38"/><circle cx="435.9" cy="364.5" r="1.38"/><circle cx="452.8" cy="368.2" r="1.38"/><circle cx="448.4" cy="368.9" r="1.38"/><circle cx="449.1" cy="370.7" r="1.38"/><circle cx="459.1" cy="363.8" r="1.38"/><circle cx="452.2" cy="373.9" r="1.38"/><circle cx="450.3" cy="375.5" r="1.38"/><circle cx="456.2" cy="376.0" r="1.38"/><circle cx="445.9" cy="376.4" r="1.38"/><circle cx="444.3" cy="379.5" r="1.38"/><circle cx="445.3" cy="380.8" r="1.38"/><circle cx="448.4" cy="382.0" r="1.38"/><circle cx="440.0" cy="382.0" r="1.38"/><circle cx="436.1" cy="384.9" r="1.38"/><circle cx="435.2" cy="386.4" r="1.38"/><circle cx="433.4" cy="388.1" r="1.38"/><circle cx="431.5" cy="383.7" r="1.38"/><circle cx="442.8" cy="371.4" r="1.38"/><circle cx="439.0" cy="369.5" r="1.38"/><circle cx="420.2" cy="385.2" r="1.38"/><circle cx="422.7" cy="383.9" r="1.38"/><circle cx="416.4" cy="383.3" r="1.38"/><circle cx="412.0" cy="385.2" r="1.38"/><circle cx="478.8" cy="360.2" r="1.38"/><circle cx="472.3" cy="382.0" r="1.38"/></g>
<line x1="387.3" y1="372.0" x2="478.8" y2="369.2" stroke="#000" stroke-width="0.80"/>
<path d="M375.90 304.95V390.50H504.95M375.90 390.50v3.40M418.77 390.50v3.40M461.63 390.50v3.40M504.50 390.50v3.40M375.90 390.50h-3.40M375.90 373.48h-3.40M375.90 356.46h-3.40M375.90 339.44h-3.40M375.90 322.42h-3.40M375.90 305.40h-3.40M380.19 390.50v2.00M384.47 390.50v2.00M388.76 390.50v2.00M393.05 390.50v2.00M397.33 390.50v2.00M401.62 390.50v2.00M405.91 390.50v2.00M410.19 390.50v2.00M414.48 390.50v2.00M423.05 390.50v2.00M427.34 390.50v2.00M431.63 390.50v2.00M435.91 390.50v2.00M440.20 390.50v2.00M444.49 390.50v2.00M448.77 390.50v2.00M453.06 390.50v2.00M457.35 390.50v2.00M465.92 390.50v2.00M470.21 390.50v2.00M474.49 390.50v2.00M478.78 390.50v2.00M483.07 390.50v2.00M487.35 390.50v2.00M491.64 390.50v2.00M495.93 390.50v2.00M500.21 390.50v2.00" fill="none" stroke="#000" stroke-width="0.90"/>
<text x="375.9" y="401.3" font-size="6.0" text-anchor="middle">0.0</text>
<text x="418.8" y="401.3" font-size="6.0" text-anchor="middle">0.2</text>
<text x="461.6" y="401.3" font-size="6.0" text-anchor="middle">0.4</text>
<text x="504.5" y="401.3" font-size="6.0" text-anchor="middle">0.6</text>
<text x="371.6" y="392.7" font-size="6.0" text-anchor="end">0</text>
<text x="371.6" y="375.6" font-size="6.0" text-anchor="end">1000</text>
<text x="371.6" y="358.6" font-size="6.0" text-anchor="end">2000</text>
<text x="371.6" y="341.6" font-size="6.0" text-anchor="end">3000</text>
<text x="371.6" y="324.6" font-size="6.0" text-anchor="end">4000</text>
<text x="371.6" y="307.6" font-size="6.0" text-anchor="end">5000</text>
<text x="439.9" y="410.0" font-size="6.20" text-anchor="middle">C4 (g/L)</text>
<text transform="translate(353.0 348.0) rotate(-90)" font-size="6.10" text-anchor="middle" y="1.8">Absolute number of CD3 (+) cells (/ul)</text>
<text x="471.5" y="312.0" font-size="6.15" text-anchor="middle">corr<tspan font-size="4.4" dy="1.0">coeff</tspan><tspan dy="-1.0">=0.09</tspan></text>
<text x="471.5" y="319.4" font-size="6.15" text-anchor="middle">p=0.18</text>
<text x="347.5" y="290.3" font-size="12.3" stroke="#000" stroke-width="0.35">K</text>
</g>
<g>
<g><circle cx="601.7" cy="379.4" r="1.38"/><circle cx="582.2" cy="381.8" r="1.38"/><circle cx="593.7" cy="371.6" r="1.38"/><circle cx="603.9" cy="375.2" r="1.38"/><circle cx="589.1" cy="374.5" r="1.38"/><circle cx="587.3" cy="375.6" r="1.38"/><circle cx="594.7" cy="375.3" r="1.38"/><circle cx="584.1" cy="386.0" r="1.38"/><circle cx="600.9" cy="373.2" r="1.38"/><circle cx="588.6" cy="380.8" r="1.38"/><circle cx="576.6" cy="375.7" r="1.38"/><circle cx="579.6" cy="376.9" r="1.38"/><circle cx="593.7" cy="385.1" r="1.38"/><circle cx="584.1" cy="376.9" r="1.38"/><circle cx="595.6" cy="375.6" r="1.38"/><circle cx="586.4" cy="372.4" r="1.38"/><circle cx="582.2" cy="377.7" r="1.38"/><circle cx="594.3" cy="370.3" r="1.38"/><circle cx="596.5" cy="369.9" r="1.38"/><circle cx="584.6" cy="373.2" r="1.38"/><circle cx="584.3" cy="382.4" r="1.38"/><circle cx="601.1" cy="377.0" r="1.38"/><circle cx="600.1" cy="369.0" r="1.38"/><circle cx="592.2" cy="374.9" r="1.38"/><circle cx="579.5" cy="384.3" r="1.38"/><circle cx="582.6" cy="368.6" r="1.38"/><circle cx="583.9" cy="384.2" r="1.38"/><circle cx="581.5" cy="378.3" r="1.38"/><circle cx="593.0" cy="378.0" r="1.38"/><circle cx="594.8" cy="386.7" r="1.38"/><circle cx="591.3" cy="380.8" r="1.38"/><circle cx="583.9" cy="379.3" r="1.38"/><circle cx="582.5" cy="371.0" r="1.38"/><circle cx="580.7" cy="378.2" r="1.38"/><circle cx="599.2" cy="379.4" r="1.38"/><circle cx="594.5" cy="379.6" r="1.38"/><circle cx="586.8" cy="385.6" r="1.38"/><circle cx="582.2" cy="383.6" r="1.38"/><circle cx="597.1" cy="370.7" r="1.38"/><circle cx="604.3" cy="381.3" r="1.38"/><circle cx="600.5" cy="380.1" r="1.38"/><circle cx="594.3" cy="378.1" r="1.38"/><circle cx="582.8" cy="382.5" r="1.38"/><circle cx="596.4" cy="374.1" r="1.38"/><circle cx="598.1" cy="381.4" r="1.38"/><circle cx="587.0" cy="378.8" r="1.38"/><circle cx="598.0" cy="378.6" r="1.38"/><circle cx="588.9" cy="378.9" r="1.38"/><circle cx="591.6" cy="369.3" r="1.38"/><circle cx="595.0" cy="377.9" r="1.38"/><circle cx="576.5" cy="375.8" r="1.38"/><circle cx="594.5" cy="378.8" r="1.38"/><circle cx="581.7" cy="382.2" r="1.38"/><circle cx="589.0" cy="378.7" r="1.38"/><circle cx="601.6" cy="368.9" r="1.38"/><circle cx="584.0" cy="386.8" r="1.38"/><circle cx="601.6" cy="369.6" r="1.38"/><circle cx="597.4" cy="375.9" r="1.38"/><circle cx="594.8" cy="369.9" r="1.38"/><circle cx="577.0" cy="382.5" r="1.38"/><circle cx="592.6" cy="379.2" r="1.38"/><circle cx="581.3" cy="385.6" r="1.38"/><circle cx="584.5" cy="382.7" r="1.38"/><circle cx="596.5" cy="377.1" r="1.38"/><circle cx="588.0" cy="375.2" r="1.38"/><circle cx="591.2" cy="380.3" r="1.38"/><circle cx="598.5" cy="374.6" r="1.38"/><circle cx="595.4" cy="374.8" r="1.38"/><circle cx="583.5" cy="379.9" r="1.38"/><circle cx="585.0" cy="376.0" r="1.38"/><circle cx="591.4" cy="374.2" r="1.38"/><circle cx="588.4" cy="375.9" r="1.38"/><circle cx="584.4" cy="376.5" r="1.38"/><circle cx="605.1" cy="376.8" r="1.38"/><circle cx="596.6" cy="382.0" r="1.38"/><circle cx="591.8" cy="378.2" r="1.38"/><circle cx="592.1" cy="374.5" r="1.38"/><circle cx="589.4" cy="376.6" r="1.38"/><circle cx="592.1" cy="373.9" r="1.38"/><circle cx="586.3" cy="374.1" r="1.38"/><circle cx="589.1" cy="380.8" r="1.38"/><circle cx="595.6" cy="380.2" r="1.38"/><circle cx="592.5" cy="378.2" r="1.38"/><circle cx="603.3" cy="371.0" r="1.38"/><circle cx="599.9" cy="368.5" r="1.38"/><circle cx="596.5" cy="378.1" r="1.38"/><circle cx="590.8" cy="371.5" r="1.38"/><circle cx="589.4" cy="377.2" r="1.38"/><circle cx="604.9" cy="373.2" r="1.38"/><circle cx="588.8" cy="386.5" r="1.38"/><circle cx="585.1" cy="377.5" r="1.38"/><circle cx="600.7" cy="378.0" r="1.38"/><circle cx="592.5" cy="374.7" r="1.38"/><circle cx="602.9" cy="375.8" r="1.38"/><circle cx="597.4" cy="373.2" r="1.38"/><circle cx="581.6" cy="369.3" r="1.38"/><circle cx="585.4" cy="382.0" r="1.38"/><circle cx="584.0" cy="385.5" r="1.38"/><circle cx="581.5" cy="370.8" r="1.38"/><circle cx="582.6" cy="370.5" r="1.38"/><circle cx="598.8" cy="384.9" r="1.38"/><circle cx="600.0" cy="380.6" r="1.38"/><circle cx="584.8" cy="373.7" r="1.38"/><circle cx="594.6" cy="374.4" r="1.38"/><circle cx="586.2" cy="374.7" r="1.38"/><circle cx="589.2" cy="385.3" r="1.38"/><circle cx="599.4" cy="379.6" r="1.38"/><circle cx="593.4" cy="384.7" r="1.38"/><circle cx="594.0" cy="376.0" r="1.38"/><circle cx="594.2" cy="383.0" r="1.38"/><circle cx="581.1" cy="371.0" r="1.38"/><circle cx="593.2" cy="386.3" r="1.38"/><circle cx="603.8" cy="380.5" r="1.38"/><circle cx="593.5" cy="373.2" r="1.38"/><circle cx="592.2" cy="385.0" r="1.38"/><circle cx="585.5" cy="373.6" r="1.38"/><circle cx="595.8" cy="377.4" r="1.38"/><circle cx="581.5" cy="373.8" r="1.38"/><circle cx="604.3" cy="376.7" r="1.38"/><circle cx="583.7" cy="371.1" r="1.38"/><circle cx="589.0" cy="377.6" r="1.38"/><circle cx="579.8" cy="375.3" r="1.38"/><circle cx="585.9" cy="375.5" r="1.38"/><circle cx="586.2" cy="382.9" r="1.38"/><circle cx="581.2" cy="372.7" r="1.38"/><circle cx="584.0" cy="379.3" r="1.38"/><circle cx="588.3" cy="379.3" r="1.38"/><circle cx="603.9" cy="379.4" r="1.38"/><circle cx="606.7" cy="375.3" r="1.38"/><circle cx="582.6" cy="384.6" r="1.38"/><circle cx="578.0" cy="386.4" r="1.38"/><circle cx="588.4" cy="387.6" r="1.38"/><circle cx="581.5" cy="379.7" r="1.38"/><circle cx="577.3" cy="379.2" r="1.38"/><circle cx="582.6" cy="380.4" r="1.38"/><circle cx="590.1" cy="382.9" r="1.38"/><circle cx="589.4" cy="382.0" r="1.38"/><circle cx="588.3" cy="382.8" r="1.38"/><circle cx="578.5" cy="377.9" r="1.38"/><circle cx="584.4" cy="381.3" r="1.38"/><circle cx="590.8" cy="383.4" r="1.38"/><circle cx="579.5" cy="385.3" r="1.38"/><circle cx="580.2" cy="380.1" r="1.38"/><circle cx="587.7" cy="378.3" r="1.38"/><circle cx="574.5" cy="385.1" r="1.38"/><circle cx="587.4" cy="381.1" r="1.38"/><circle cx="580.4" cy="385.5" r="1.38"/><circle cx="596.4" cy="385.7" r="1.38"/><circle cx="567.7" cy="380.9" r="1.38"/><circle cx="581.8" cy="383.9" r="1.38"/><circle cx="590.3" cy="376.9" r="1.38"/><circle cx="586.6" cy="382.1" r="1.38"/><circle cx="583.6" cy="379.7" r="1.38"/><circle cx="569.4" cy="385.1" r="1.38"/><circle cx="566.7" cy="382.8" r="1.38"/><circle cx="588.5" cy="381.4" r="1.38"/><circle cx="588.0" cy="377.4" r="1.38"/><circle cx="590.8" cy="379.1" r="1.38"/><circle cx="599.9" cy="383.7" r="1.38"/><circle cx="585.9" cy="380.7" r="1.38"/><circle cx="570.0" cy="386.6" r="1.38"/><circle cx="582.5" cy="379.8" r="1.38"/><circle cx="574.2" cy="386.9" r="1.38"/><circle cx="588.3" cy="381.8" r="1.38"/><circle cx="572.1" cy="387.4" r="1.38"/><circle cx="580.0" cy="385.8" r="1.38"/><circle cx="581.7" cy="377.4" r="1.38"/><circle cx="576.0" cy="387.8" r="1.38"/><circle cx="576.9" cy="381.2" r="1.38"/><circle cx="571.3" cy="382.1" r="1.38"/><circle cx="589.7" cy="379.3" r="1.38"/><circle cx="577.4" cy="384.1" r="1.38"/><circle cx="592.8" cy="380.9" r="1.38"/><circle cx="575.4" cy="381.4" r="1.38"/><circle cx="577.7" cy="379.7" r="1.38"/><circle cx="588.5" cy="379.9" r="1.38"/><circle cx="586.1" cy="383.4" r="1.38"/><circle cx="580.9" cy="386.6" r="1.38"/><circle cx="601.0" cy="383.5" r="1.38"/><circle cx="581.4" cy="386.6" r="1.38"/><circle cx="576.1" cy="315.2" r="1.38"/><circle cx="598.3" cy="316.4" r="1.38"/><circle cx="583.5" cy="330.6" r="1.38"/><circle cx="589.9" cy="331.2" r="1.38"/><circle cx="592.3" cy="330.8" r="1.38"/><circle cx="579.2" cy="334.6" r="1.38"/><circle cx="587.6" cy="339.8" r="1.38"/><circle cx="594.2" cy="340.4" r="1.38"/><circle cx="592.7" cy="342.9" r="1.38"/><circle cx="591.4" cy="344.0" r="1.38"/><circle cx="605.8" cy="342.1" r="1.38"/><circle cx="608.0" cy="341.9" r="1.38"/><circle cx="617.5" cy="341.5" r="1.38"/><circle cx="621.9" cy="343.5" r="1.38"/><circle cx="569.4" cy="347.5" r="1.38"/><circle cx="581.1" cy="346.3" r="1.38"/><circle cx="583.2" cy="348.8" r="1.38"/><circle cx="596.4" cy="347.3" r="1.38"/><circle cx="621.9" cy="348.8" r="1.38"/><circle cx="579.2" cy="351.9" r="1.38"/><circle cx="582.0" cy="351.9" r="1.38"/><circle cx="624.1" cy="353.2" r="1.38"/><circle cx="587.9" cy="355.1" r="1.38"/><circle cx="605.0" cy="355.7" r="1.38"/><circle cx="607.7" cy="356.7" r="1.38"/><circle cx="577.3" cy="357.8" r="1.38"/><circle cx="579.7" cy="358.5" r="1.38"/><circle cx="583.2" cy="357.8" r="1.38"/><circle cx="587.9" cy="358.0" r="1.38"/><circle cx="596.4" cy="358.2" r="1.38"/><circle cx="600.6" cy="357.6" r="1.38"/><circle cx="603.3" cy="358.8" r="1.38"/><circle cx="621.9" cy="357.8" r="1.38"/><circle cx="589.5" cy="359.5" r="1.38"/><circle cx="600.2" cy="359.5" r="1.38"/><circle cx="617.5" cy="360.9" r="1.38"/><circle cx="630.3" cy="364.2" r="1.38"/><circle cx="609.4" cy="364.7" r="1.38"/><circle cx="610.9" cy="368.2" r="1.38"/><circle cx="610.2" cy="370.1" r="1.38"/><circle cx="612.8" cy="374.5" r="1.38"/><circle cx="613.4" cy="375.8" r="1.38"/><circle cx="632.6" cy="377.9" r="1.38"/><circle cx="621.5" cy="377.4" r="1.38"/><circle cx="623.4" cy="378.6" r="1.38"/><circle cx="619.0" cy="380.2" r="1.38"/><circle cx="620.3" cy="380.8" r="1.38"/><circle cx="624.1" cy="380.8" r="1.38"/><circle cx="629.7" cy="382.9" r="1.38"/><circle cx="626.3" cy="384.5" r="1.38"/><circle cx="613.0" cy="384.2" r="1.38"/><circle cx="617.4" cy="387.1" r="1.38"/><circle cx="608.4" cy="386.4" r="1.38"/><circle cx="604.6" cy="387.1" r="1.38"/><circle cx="606.7" cy="389.6" r="1.38"/><circle cx="568.6" cy="371.4" r="1.38"/><circle cx="573.6" cy="368.9" r="1.38"/><circle cx="573.8" cy="372.0" r="1.38"/><circle cx="563.8" cy="376.0" r="1.38"/><circle cx="566.9" cy="375.1" r="1.38"/><circle cx="564.0" cy="380.2" r="1.38"/><circle cx="566.9" cy="382.7" r="1.38"/><circle cx="568.8" cy="382.0" r="1.38"/><circle cx="570.7" cy="382.7" r="1.38"/><circle cx="570.1" cy="385.8" r="1.38"/><circle cx="571.9" cy="388.3" r="1.38"/><circle cx="573.8" cy="383.9" r="1.38"/><circle cx="577.0" cy="387.7" r="1.38"/><circle cx="580.7" cy="363.8" r="1.38"/><circle cx="583.2" cy="360.7" r="1.38"/><circle cx="585.8" cy="364.5" r="1.38"/><circle cx="580.7" cy="367.0" r="1.38"/><circle cx="596.4" cy="361.3" r="1.38"/><circle cx="598.9" cy="363.2" r="1.38"/><circle cx="603.3" cy="360.7" r="1.38"/><circle cx="602.5" cy="368.9" r="1.38"/><circle cx="575.1" cy="374.5" r="1.38"/><circle cx="651.9" cy="370.5" r="1.38"/><circle cx="645.5" cy="386.2" r="1.38"/></g>
<line x1="560.5" y1="372.8" x2="651.8" y2="370.8" stroke="#000" stroke-width="0.80"/>
<path d="M549.40 305.95V391.80H677.85M549.40 391.80v3.40M592.07 391.80v3.40M634.73 391.80v3.40M677.40 391.80v3.40M549.40 391.80h-3.40M549.40 349.10h-3.40M549.40 306.40h-3.40M553.67 391.80v2.00M557.93 391.80v2.00M562.20 391.80v2.00M566.47 391.80v2.00M570.73 391.80v2.00M575.00 391.80v2.00M579.27 391.80v2.00M583.53 391.80v2.00M587.80 391.80v2.00M596.33 391.80v2.00M600.60 391.80v2.00M604.87 391.80v2.00M609.13 391.80v2.00M613.40 391.80v2.00M617.67 391.80v2.00M621.93 391.80v2.00M626.20 391.80v2.00M630.47 391.80v2.00M639.00 391.80v2.00M643.27 391.80v2.00M647.53 391.80v2.00M651.80 391.80v2.00M656.07 391.80v2.00M660.33 391.80v2.00M664.60 391.80v2.00M668.87 391.80v2.00M673.13 391.80v2.00M549.40 387.53h-2.00M549.40 383.26h-2.00M549.40 378.99h-2.00M549.40 374.72h-2.00M549.40 370.45h-2.00M549.40 366.18h-2.00M549.40 361.91h-2.00M549.40 357.64h-2.00M549.40 353.37h-2.00M549.40 344.83h-2.00M549.40 340.56h-2.00M549.40 336.29h-2.00M549.40 332.02h-2.00M549.40 327.75h-2.00M549.40 323.48h-2.00M549.40 319.21h-2.00M549.40 314.94h-2.00M549.40 310.67h-2.00" fill="none" stroke="#000" stroke-width="0.90"/>
<text x="549.4" y="402.3" font-size="6.0" text-anchor="middle">0.0</text>
<text x="592.1" y="402.3" font-size="6.0" text-anchor="middle">0.2</text>
<text x="634.7" y="402.3" font-size="6.0" text-anchor="middle">0.4</text>
<text x="677.4" y="402.3" font-size="6.0" text-anchor="middle">0.6</text>
<text x="545.1" y="394.0" font-size="6.0" text-anchor="end">0</text>
<text x="545.1" y="351.3" font-size="6.0" text-anchor="end">500</text>
<text x="545.1" y="308.6" font-size="6.0" text-anchor="end">1000</text>
<text x="612.9" y="410.7" font-size="6.20" text-anchor="middle">C4 (g/L)</text>
<text transform="translate(526.1 349.1) rotate(-90)" font-size="6.10" text-anchor="middle" y="1.8">Absolute number of CD16/CD56 (+) cells (/ul)</text>
<text x="644.5" y="312.7" font-size="6.15" text-anchor="middle">corr<tspan font-size="4.4" dy="1.0">coeff</tspan><tspan dy="-1.0">=0.13</tspan></text>
<text x="644.5" y="320.4" font-size="6.15" text-anchor="middle">p=0.048*</text>
<text x="532.8" y="290.3" font-size="12.3" stroke="#000" stroke-width="0.35">L</text>
</g>
</svg>
</body></html>
